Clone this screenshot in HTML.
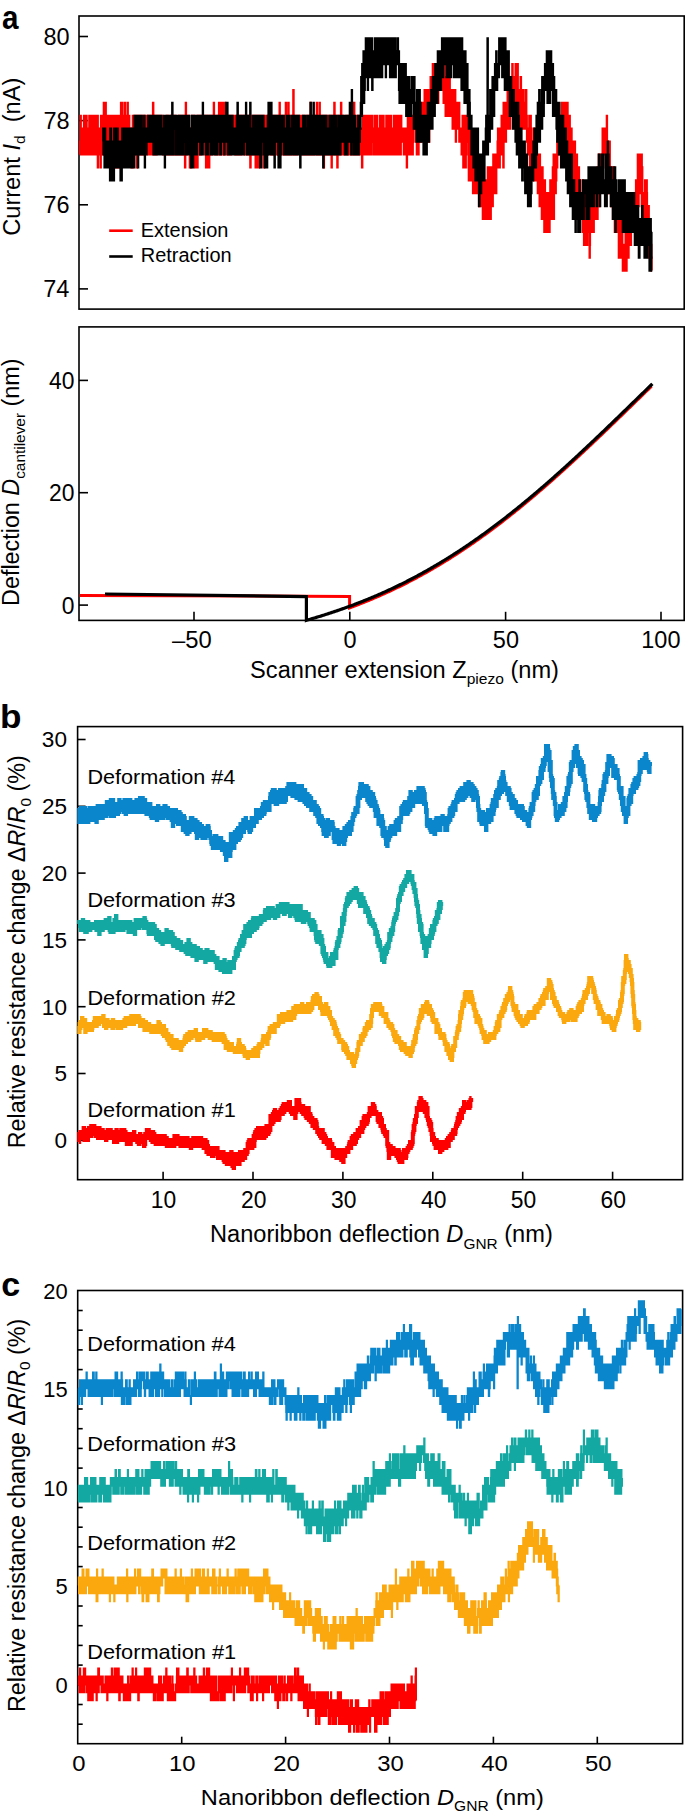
<!DOCTYPE html>
<html><head><meta charset="utf-8"><style>
html,body{margin:0;padding:0;background:#fff;}
svg{display:block;}
text{font-family:"Liberation Sans", sans-serif;fill:#000;}
</style></head><body>
<svg width="685" height="1817" viewBox="0 0 685 1817">
<rect width="685" height="1817" fill="#fff"/>
<text x="2.03" y="28.6" textLength="16.48" lengthAdjust="spacingAndGlyphs" xml:space="preserve"><tspan font-size="32.5" font-weight="bold">a</tspan></text>
<rect x="79" y="16" width="605.2" height="293.1" fill="none" stroke="#000" stroke-width="1.6"/>
<line x1="79" y1="36.5" x2="88" y2="36.5" stroke="#000" stroke-width="1.6"/>
<text x="43.38" y="45" textLength="26.14" lengthAdjust="spacingAndGlyphs" xml:space="preserve"><tspan font-size="23.5">80</tspan></text>
<line x1="79" y1="120.6" x2="88" y2="120.6" stroke="#000" stroke-width="1.6"/>
<text x="43.48" y="129.1" textLength="26.14" lengthAdjust="spacingAndGlyphs" xml:space="preserve"><tspan font-size="23.5">78</tspan></text>
<line x1="79" y1="204.8" x2="88" y2="204.8" stroke="#000" stroke-width="1.6"/>
<text x="43.49" y="213.3" textLength="26.14" lengthAdjust="spacingAndGlyphs" xml:space="preserve"><tspan font-size="23.5">76</tspan></text>
<line x1="79" y1="288.9" x2="88" y2="288.9" stroke="#000" stroke-width="1.6"/>
<text x="43.15" y="297.4" textLength="26.14" lengthAdjust="spacingAndGlyphs" xml:space="preserve"><tspan font-size="23.5">74</tspan></text>
<text transform="translate(19.7,235.7) rotate(-90)" x="0" y="0" textLength="157.96" lengthAdjust="spacingAndGlyphs" xml:space="preserve"><tspan font-size="23.5">Current </tspan><tspan font-size="23.5" font-style="italic">I</tspan><tspan font-size="15.5" dy="5.5">d</tspan><tspan font-size="23.5" dy="-5.5">  (nA)</tspan></text>
<path d="M79.8,154.5h0.2v-12.9h0.6v-25.8h0.2v12.9h0.2v25.8h0.6v-25.8h0.2v25.8h0.8v-25.8h0.2v12.9h0.2v-12.9h1v-12.9h0.3v38.7h0.3v-12.9h0.2v12.9h0.2v-38.7h0.6v25.8h0.2v12.9h0.2v-25.8h0.3v-12.9h0.3v25.8h0.2v12.9h0.8v-25.8h0.4v25.8h0.8v-25.8h0.5v-12.9h0.3v38.7h0.4v-25.8h0.3v25.8h0.3v-25.8h0.4v12.9h0.3v-25.8h0.3v12.9h0.7v12.9h0.3v-25.8h0.2v38.7h0.2v-38.7h0.3v12.9h0.3v25.8h0.2v-38.7h0.2v12.9h0.3v12.9h0.5v12.9h0.5v-38.7h0.3v38.7h0.2v-12.9h0.5v-25.8h0.3v12.9h0.2v25.8h0.8v-38.7h0.2v51.6h0.2v-25.8h0.6v12.9h0.2v-25.8h0.2v25.8h0.8v-25.8h0.2v12.9h0.3v-12.9h0.3v38.7h0.2v-12.9h0.2v-38.7h0.3v25.8h0.5v-12.9h0.2v25.8h0.3v-25.8h0.5v-12.9h0.2v38.7h0.3v-12.9h0.3v12.9h0.2v-51.6h0.2v51.6h0.3v-25.8h0.3v12.9h0.4v-12.9h0.6v-25.8h0.2v51.6h0.2v-12.9h0.6v12.9h0.2v-12.9h0.5v-12.9h0.5v-12.9h0.8v25.8h0.2v-25.8h0.2v12.9h0.3v-12.9h0.3v25.8h0.2v12.9h0.2v-25.8h0.3v12.9h0.5v-12.9h0.5v25.8h0.3v-12.9h0.2v-25.8h0.5v25.8h0.3v12.9h0.2v-12.9h0.2v12.9h0.8v-38.7h0.2v12.9h0.3v12.9h0.3v-25.8h0.2v25.8h0.2v-12.9h0.3v12.9h0.3v25.8h0.2v-25.8h0.2v12.9h0.3v-12.9h0.3v12.9h0.2v-38.7h0.5v25.8h0.3v12.9h0.2v-12.9h0.2v25.8h0.3v-51.6h0.3v51.6h0.2v-12.9h0.2v-12.9h0.3v-12.9h0.3v12.9h0.2v-25.8h0.2v25.8h0.8v-12.9h0.2v-25.8h0.3v12.9h0.3v38.7h0.2v-38.7h0.2v-12.9h0.3v12.9h0.3v12.9h0.4v12.9h0.6v12.9h0.4v-25.8h0.3v-12.9h0.3v38.7h0.2v-51.6h0.2v38.7h0.3v-12.9h0.3v25.8h0.2v-38.7h0.8v38.7h0.4v-12.9h0.3v-12.9h0.3v-25.8h0.2v51.6h0.5v-25.8h0.3v25.8h0.2v-12.9h0.2v-25.8h0.3v25.8h0.5v12.9h0.2v-25.8h0.3v12.9h0.3v12.9h0.4v-25.8h0.3v25.8h0.3v12.9h0.2v-12.9h0.2v-12.9h0.3v25.8h0.3v-38.7h0.2v-12.9h0.2v12.9h0.3v12.9h0.3v-12.9h0.4v12.9h0.3v-25.8h0.7v25.8h0.3v-12.9h0.5v25.8h0.2v-12.9h0.3v12.9h0.3v12.9h0.2v-12.9h0.2v-38.7h0.3v25.8h0.3v12.9h0.2v-25.8h0.2v25.8h0.3v-38.7h0.5v38.7h0.2v-25.8h0.3v12.9h0.3v12.9h0.2v-38.7h0.2v38.7h0.3v-25.8h0.3v-12.9h0.4v38.7h0.3v-25.8h0.3v25.8h0.2v-38.7h0.8v25.8h0.2v12.9h0.2v-25.8h0.3v12.9h0.5v-25.8h0.5v38.7h0.3v-25.8h0.2v25.8h0.2v-25.8h0.3v-12.9h0.7v12.9h0.8v12.9h0.2v-12.9h0.3v-12.9h0.3v12.9h0.2v25.8h0.2v-38.7h0.3v25.8h0.3v-12.9h0.2v12.9h0.2v-12.9h0.6v12.9h0.2v12.9h0.2v-25.8h0.3v-12.9h0.5v38.7h0.2v-25.8h0.3v-12.9h0.3v25.8h0.2v12.9h0.2v-12.9h0.3v-25.8h0.3v12.9h0.4v-25.8h0.3v51.6h0.3v-25.8h0.2v-12.9h0.2v38.7h0.8v-25.8h0.2v-12.9h0.3v25.8h0.5v12.9h0.8v-25.8h0.2v12.9h0.2v-25.8h0.3v25.8h0.3v-25.8h0.7v12.9h0.5v12.9h0.2v-25.8h0.6v25.8h1.7v-25.8h0.5v25.8h0.2v-25.8h0.3v25.8h0.3v-12.9h0.4v25.8h0.3v-12.9h0.3v-12.9h0.4v25.8h0.3v-12.9h0.3v-12.9h0.2v25.8h0.2v-12.9h0.3v12.9h0.3v-12.9h0.2v12.9h0.2v-12.9h0.6v12.9h0.2v-38.7h0.2v12.9h0.3v12.9h0.3v-25.8h0.2v38.7h0.2v-12.9h0.3v12.9h0.3v-25.8h0.4v25.8h0.3v-25.8h0.3v25.8h0.2v-25.8h0.8v-12.9h0.2v12.9h0.2v-12.9h0.3v38.7h0.5v-38.7h0.8v38.7h0.2v-38.7h0.2v25.8h0.3v-25.8h0.7v25.8h0.3v-25.8h0.3v38.7h0.2v-12.9h0.2v-25.8h0.6v25.8h0.4v-12.9h0.8v25.8h0.2v-12.9h0.3v12.9h0.3v-12.9h0.4v-12.9h0.3v12.9h0.3v-12.9h0.2v12.9h0.2v-25.8h0.3v12.9h0.3v25.8h0.2v-25.8h0.2v25.8h0.6v-12.9h0.2v-25.8h0.2v38.7h0.3v-12.9h0.3v-12.9h0.2v25.8h0.2v-25.8h0.3v-12.9h0.7v25.8h0.3v12.9h0.3v-38.7h0.4v25.8h0.3v-12.9h0.5v25.8h0.2v12.9h0.3v-12.9h0.5v-51.6h0.2v25.8h0.3v12.9h0.3v12.9h0.2v-38.7h0.2v25.8h0.3v-12.9h1v-12.9h0.5v25.8h0.2v-12.9h0.3v12.9h0.5v25.8h0.2v-38.7h0.3v25.8h0.3v-25.8h0.2v25.8h0.2v12.9h0.3v-38.7h0.5v12.9h0.2v-25.8h0.3v25.8h0.3v-25.8h0.4v25.8h0.3v12.9h0.5v-25.8h0.2v-12.9h0.3v38.7h0.3v-25.8h0.4v38.7h0.3v-12.9h0.5v-12.9h0.5v12.9h0.3v12.9h0.4v-12.9h0.3v12.9h0.3v-51.6h0.2v25.8h0.2v12.9h0.3v-25.8h0.3v12.9h0.2v-25.8h0.5v12.9h0.3v-12.9h0.2v12.9h0.2v-12.9h0.3v38.7h0.3v-25.8h0.4v25.8h0.3v-12.9h0.3v-25.8h0.4v25.8h0.3v-25.8h0.5v25.8h0.2v-12.9h0.6v12.9h0.4v-25.8h0.3v12.9h0.5v25.8h0.2v-38.7h0.3v12.9h0.3v-12.9h0.2v25.8h0.2v25.8h0.3v-51.6h0.3v38.7h0.4v-38.7h0.3v38.7h0.3v-25.8h0.2v38.7h0.2v-38.7h0.3v12.9h0.5v12.9h0.2v12.9h0.3v-25.8h0.3v-25.8h0.2v12.9h0.5v25.8h0.5v-25.8h0.5v12.9h0.3v-25.8h0.2v38.7h0.2v-12.9h0.3v-12.9h0.3v12.9h0.2v-12.9h0.2v-12.9h0.8v-12.9h0.2v25.8h0.3v12.9h0.3v-25.8h0.2v12.9h0.2v12.9h0.3v12.9h0.5v-12.9h1v-12.9h0.5v-12.9h0.5v12.9h0.2v25.8h0.3v-12.9h0.3v-25.8h0.2v38.7h0.2v-51.6h0.3v51.6h0.5v-12.9h0.2v-12.9h0.3v25.8h0.3v-51.6h0.2v12.9h0.2v25.8h0.3v-12.9h0.7v-12.9h0.3v38.7h0.3v-25.8h0.2v-25.8h0.2v38.7h1v12.9h0.3v-38.7h0.3v38.7h0.2v-38.7h0.2v-12.9h0.3v25.8h0.5v25.8h0.2v-12.9h0.3v-25.8h0.3v25.8h0.2v-12.9h0.2v25.8h0.3v-38.7h0.3v38.7h0.4v-38.7h0.3v12.9h0.3v-12.9h0.2v25.8h0.2v-25.8h0.3v38.7h0.3v-38.7h0.2v25.8h0.5v-12.9h0.3v-12.9h0.2v38.7h0.2v-38.7h0.3v12.9h0.5v12.9h0.2v-12.9h0.3v-12.9h0.3v25.8h0.7v-12.9h0.5v-12.9h0.2v25.8h0.6v-12.9h0.2v12.9h0.2v-25.8h0.3v38.7h0.3v-12.9h0.2v12.9h0.5v-38.7h0.3v38.7h0.2v-25.8h0.5v25.8h0.3v-12.9h0.2v-12.9h0.2v-12.9h0.3v12.9h0.3v-12.9h0.2v12.9h0.2v-12.9h0.3v38.7h0.3v-25.8h0.2v12.9h0.2v-25.8h0.6v25.8h0.2v-25.8h0.2v38.7h0.3v-25.8h1.5v12.9h0.2v-12.9h0.3v-12.9h0.3v12.9h0.2v-12.9h0.2v12.9h0.6v25.8h0.2v-38.7h0.2v12.9h0.3v25.8h0.3v-25.8h0.2v25.8h0.2v-12.9h0.3v-25.8h0.3v12.9h0.2v25.8h0.2v-12.9h0.6v12.9h0.2v-12.9h0.5v12.9h0.3v-25.8h0.2v-12.9h0.2v12.9h0.3v12.9h0.3v12.9h0.2v-12.9h0.2v-12.9h0.3v38.7h0.3v-38.7h0.2v-12.9h0.2v25.8h0.3v-12.9h0.3v-12.9h0.2v25.8h0.5v12.9h0.3v-38.7h0.2v38.7h0.5v-38.7h0.3v12.9h0.2v12.9h0.2v-12.9h0.3v-12.9h0.3v38.7h0.2v-38.7h0.2v12.9h0.6v38.7h0.2v-25.8h0.2v-12.9h0.3v25.8h0.3v-25.8h0.2v12.9h0.2v-25.8h0.3v51.6h0.3v-12.9h0.4v-25.8h0.3v-12.9h0.3v25.8h0.2v25.8h0.2v-38.7h0.3v-12.9h0.5v38.7h0.2v-38.7h0.8v38.7h0.2v-25.8h0.3v12.9h0.5v-12.9h0.2v25.8h0.3v-12.9h0.5v-12.9h0.2v-12.9h0.3v25.8h0.3v-12.9h0.4v38.7h0.3v-38.7h0.3v-12.9h0.2v25.8h0.5v-25.8h0.3v12.9h0.2v12.9h0.2v-12.9h0.3v25.8h0.5v-12.9h0.2v12.9h0.3v-38.7h0.5v38.7h0.2v-12.9h0.3v-25.8h0.3v25.8h0.7v-25.8h0.5v12.9h0.2v-12.9h0.6v25.8h0.2v-12.9h0.2v-12.9h0.3v38.7h0.3v-25.8h0.2v25.8h0.2v-12.9h0.6v-12.9h0.2v12.9h0.2v-25.8h0.3v12.9h0.3v25.8h0.2v-38.7h0.2v12.9h0.3v12.9h0.3v-12.9h0.4v25.8h0.3v-38.7h0.5v38.7h0.2v-25.8h0.6v25.8h0.2v-25.8h0.2v25.8h0.8v-38.7h0.5v38.7h0.5v-38.7h0.8v-12.9h0.2v25.8h0.2v12.9h0.6v-25.8h0.7v12.9h0.3v-12.9h0.2v38.7h0.2v-25.8h0.3v-12.9h0.3v25.8h0.2v12.9h0.5v-12.9h0.3v-25.8h0.2v12.9h0.2v-12.9h0.3v25.8h0.3v12.9h0.2v-25.8h0.2v25.8h0.3v-12.9h0.3v-12.9h0.2v-25.8h0.2v12.9h0.6v38.7h1.2v-38.7h0.2v38.7h0.3v-51.6h0.3v38.7h0.2v-25.8h0.2v38.7h0.6v-38.7h0.2v38.7h0.5v-38.7h0.3v12.9h0.2v-12.9h0.2v25.8h0.3v12.9h0.3v-25.8h0.2v-12.9h0.2v25.8h0.6v-25.8h0.7v-25.8h0.3v25.8h0.2v25.8h0.2v12.9h0.3v-25.8h0.3v12.9h0.2v12.9h0.2v-12.9h0.3v-12.9h0.3v-12.9h0.2v25.8h0.2v-25.8h0.6v25.8h0.2v-12.9h0.2v25.8h0.3v-25.8h0.3v12.9h0.7v-12.9h0.3v-12.9h0.4v25.8h0.3v-12.9h0.3v-12.9h0.2v12.9h0.2v-12.9h0.3v12.9h0.5v25.8h0.2v-38.7h0.3v38.7h0.5v-25.8h0.2v25.8h0.3v-12.9h0.3v-12.9h0.2v25.8h0.5v-38.7h0.3v38.7h0.2v-38.7h0.5v12.9h1.3v25.8h0.4v-25.8h0.6v12.9h0.2v-25.8h0.2v12.9h0.3v12.9h0.3v-25.8h0.2v38.7h0.2v-12.9h0.3v-12.9h0.3v-12.9h0.2v25.8h0.2v-25.8h0.3v38.7h0.3v-12.9h0.2v-25.8h0.2v25.8h0.6v-38.7h0.2v12.9h0.2v12.9h0.3v25.8h0.3v-25.8h0.4v25.8h0.3v-25.8h0.3v25.8h0.2v-38.7h0.2v12.9h0.3v-12.9h0.3v38.7h0.4v-38.7h0.6v12.9h0.2v-12.9h0.2v12.9h0.6v-12.9h1v38.7h0.2v-51.6h0.2v25.8h0.8v25.8h0.2v-38.7h0.3v38.7h0.3v-12.9h0.7v-12.9h0.3v-25.8h0.2v38.7h0.2v12.9h0.3v-38.7h0.5v12.9h0.2v12.9h0.3v-12.9h0.3v25.8h0.7v-12.9h0.3v12.9h0.4v-38.7h0.3v25.8h0.3v-25.8h0.2v51.6h0.2v-51.6h0.3v25.8h0.3v-12.9h0.2v12.9h0.5v12.9h0.5v-38.7h0.2v25.8h0.3v-25.8h0.5v25.8h0.2v12.9h0.3v-25.8h0.3v12.9h0.4v-12.9h0.3v12.9h0.3v-25.8h0.2v38.7h0.2v-38.7h0.3v38.7h1.5v-12.9h0.2v-25.8h0.3v25.8h0.3v25.8h0.2v-38.7h0.2v-12.9h0.6v12.9h0.2v25.8h0.5v-25.8h0.3v25.8h0.4v-38.7h0.3v-12.9h0.3v51.6h0.2v-12.9h0.2v12.9h0.3v-38.7h0.3v38.7h0.2v-25.8h0.2v25.8h0.3v-12.9h0.3v-25.8h0.2v38.7h0.5v12.9h0.3v-51.6h0.2v25.8h0.5v12.9h0.3v-38.7h0.2v12.9h0.2v25.8h0.3v-12.9h0.3v-25.8h0.4v25.8h1v-38.7h0.3v51.6h1v-25.8h0.3v-12.9h0.2v38.7h0.2v-38.7h0.3v12.9h0.3v12.9h0.4v-12.9h0.3v12.9h0.5v12.9h0.2v-25.8h0.6v25.8h0.7v-38.7h0.5v38.7h0.5v-25.8h0.3v12.9h0.2v-25.8h0.2v12.9h0.3v12.9h0.3v-12.9h0.2v25.8h0.5v-38.7h0.3v25.8h0.2v-12.9h0.2v-12.9h0.3v12.9h0.5v25.8h0.5v-38.7h0.5v38.7h0.2v-12.9h0.6v-12.9h0.2v25.8h0.2v-12.9h0.6v-12.9h0.2v25.8h0.2v-51.6h0.3v12.9h0.3v38.7h0.4v-25.8h0.6v-12.9h0.2v25.8h0.2v12.9h0.3v-38.7h0.3v38.7h0.2v-12.9h0.2v-12.9h0.3v12.9h0.3v-12.9h0.2v-12.9h0.2v38.7h0.3v-38.7h0.3v12.9h0.2v25.8h0.2v-25.8h0.3v-12.9h0.3v38.7h0.2v-25.8h0.5v25.8h0.7v-25.8h0.3v12.9h0.3v12.9h0.2v-25.8h0.2v38.7h0.3v-38.7h0.3v12.9h0.2v-25.8h0.8v38.7h0.2v-38.7h0.2v38.7h0.3v-38.7h0.3v12.9h0.2v-12.9h0.2v38.7h0.3v-38.7h0.3v38.7h0.2v-25.8h0.2v25.8h0.3v-12.9h0.3v-12.9h0.2v12.9h0.2v-12.9h0.3v12.9h0.3v-25.8h0.2v38.7h0.2v-12.9h0.3v-12.9h0.3v-12.9h0.2v38.7h0.2v-25.8h0.6v-12.9h0.2v25.8h0.2v-12.9h0.3v25.8h0.3v-25.8h0.4v25.8h0.3v-25.8h0.7v-12.9h0.3v25.8h0.3v-12.9h0.7v12.9h0.3v12.9h0.2v-12.9h0.2v-12.9h0.6v25.8h0.2v-38.7h0.2v38.7h0.6v-25.8h0.2v-12.9h0.2v38.7h0.3v-25.8h0.3v-12.9h0.4v25.8h0.3v12.9h0.5v-12.9h0.2v-12.9h0.3v25.8h0.3v-12.9h0.2v12.9h0.2v-12.9h0.8v-25.8h0.2v12.9h0.3v-12.9h0.3v38.7h0.4v-12.9h0.3v-25.8h0.5v12.9h0.5v-12.9h0.5v25.8h0.2v12.9h0.3v-38.7h0.3v12.9h0.4v12.9h0.6v-12.9h0.2v25.8h0.2v-25.8h0.6v25.8h0.7v-38.7h0.5v12.9h0.2v25.8h0.3v-12.9h0.3v-12.9h0.4v25.8h0.3v-38.7h0.3v25.8h0.2v-12.9h0.2v25.8h0.6v-25.8h0.4v25.8h0.3v-12.9h0.3v-12.9h0.2v-12.9h0.2v38.7h0.6v-12.9h0.2v-12.9h0.2v25.8h1.6v-25.8h0.2v-12.9h0.2v25.8h0.3v12.9h0.5v-38.7h0.5v25.8h0.3v12.9h0.2v-38.7h0.2v25.8h0.3v-12.9h0.3v25.8h0.2v-25.8h0.2v-12.9h0.3v38.7h0.3v-25.8h0.4v-12.9h0.3v12.9h0.3v-12.9h0.2v12.9h0.2v12.9h0.3v-25.8h0.3v25.8h0.2v12.9h0.2v-12.9h0.3v-25.8h0.3v38.7h0.2v-38.7h0.5v25.8h0.5v-12.9h0.5v12.9h0.3v-12.9h1.2v25.8h0.2v-12.9h0.3v-12.9h0.3v12.9h0.2v12.9h0.2v-12.9h0.3v-12.9h0.3v25.8h0.2v-25.8h0.2v25.8h0.3v-25.8h0.3v12.9h0.2v25.8h0.2v-25.8h0.3v12.9h0.5v-38.7h0.2v25.8h0.3v12.9h0.3v-38.7h0.2v38.7h0.5v-38.7h0.5v12.9h1v25.8h0.2v-12.9h0.6v-25.8h0.4v38.7h0.3v-25.8h0.3v25.8h0.2v-25.8h0.2v12.9h0.6v-25.8h0.4v12.9h0.3v-12.9h0.3v12.9h0.2v-12.9h0.2v12.9h1.3v12.9h0.3v-38.7h0.2v51.6h0.2v-25.8h0.3v25.8h0.3v-51.6h0.7v51.6h0.3v-25.8h0.2v12.9h0.5v-38.7h0.3v12.9h0.7v25.8h0.3v-38.7h0.2v38.7h0.2v-25.8h0.6v12.9h0.2v-25.8h0.2v25.8h0.3v-12.9h0.5v-12.9h0.5v25.8h0.3v-12.9h0.4v12.9h0.6v-38.7h0.2v51.6h0.2v-51.6h0.3v25.8h0.3v-12.9h0.4v12.9h0.6v-12.9h0.2v12.9h0.5v-25.8h0.5v12.9h0.2v-12.9h0.6v12.9h0.2v12.9h0.2v25.8h0.3v-12.9h0.3v-12.9h0.2v-25.8h0.2v25.8h0.6v-38.7h0.2v38.7h0.2v-25.8h0.3v12.9h0.5v12.9h0.2v-12.9h0.3v12.9h0.3v-38.7h0.2v-12.9h0.2v12.9h0.3v25.8h0.3v-12.9h0.2v-25.8h0.2v12.9h0.3v12.9h0.5v12.9h0.2v-12.9h0.3v12.9h0.5v-12.9h0.2v-12.9h1.3v-12.9h0.3v12.9h0.2v-12.9h0.2v38.7h0.3v-12.9h0.3v-25.8h0.2v12.9h0.2v-12.9h0.6v12.9h0.2v-12.9h0.5v25.8h0.3v-12.9h0.2v12.9h0.2v-12.9h1.3v-12.9h0.3v25.8h0.2v-25.8h0.8v38.7h0.4v-25.8h0.3v-12.9h0.3v25.8h0.2v12.9h0.2v-25.8h0.3v25.8h0.3v12.9h0.2v-25.8h0.2v-12.9h0.3v25.8h0.3v-25.8h0.2v25.8h0.2v-12.9h0.3v25.8h0.3v-38.7h0.4v25.8h0.3v12.9h0.3v-38.7h0.2v25.8h0.2v-25.8h0.3v25.8h0.3v-25.8h0.2v38.7h0.2v-25.8h0.3v25.8h0.3v-25.8h1.4v25.8h0.3v-12.9h0.3v25.8h0.2v-12.9h0.8v12.9h0.2v-12.9h0.2v-25.8h0.3v25.8h0.3v-25.8h0.2v25.8h0.2v-25.8h0.3v25.8h0.3v-12.9h0.2v38.7h0.2v-38.7h0.3v25.8h0.5v-25.8h0.2v25.8h0.3v-12.9h0.3v12.9h0.2v-12.9h0.2v-12.9h0.3v25.8h0.3v-12.9h0.4v-12.9h0.3v38.7h0.3v-12.9h0.7v12.9h0.7v-12.9h0.6v25.8h0.2v-12.9h0.2v-12.9h0.3v25.8h0.3v-38.7h0.4v38.7h0.3v12.9h0.3v-51.6h0.7v25.8h0.3v-12.9h0.2v12.9h0.2v12.9h0.3v-38.7h0.3v51.6h0.2v-38.7h0.2v25.8h0.3v-12.9h0.7v-25.8h0.3v25.8h0.7v-12.9h0.3v12.9h0.3v25.8h0.2v12.9h0.2v-38.7h0.3v25.8h0.5v-25.8h0.2v-12.9h0.3v51.6h0.3v-38.7h0.4v25.8h0.6v12.9h0.2v-12.9h0.2v-12.9h0.8v12.9h0.2v25.8h0.3v-51.6h0.3v12.9h0.4v-12.9h0.3v25.8h0.3v25.8h0.2v-38.7h0.2v25.8h0.3v12.9h0.3v-38.7h0.2v38.7h0.2v-12.9h0.6v-25.8h0.2v12.9h0.2v-12.9h0.3v38.7h0.5v-38.7h0.2v25.8h0.3v-12.9h0.3v25.8h0.2v-12.9h0.2v25.8h0.3v-12.9h0.3v-25.8h0.2v12.9h0.2v12.9h0.3v12.9h0.3v-25.8h0.2v-12.9h0.2v12.9h0.6v-12.9h0.2v12.9h0.5v12.9h0.3v12.9h0.2v12.9h0.2v-38.7h0.3v12.9h0.3v12.9h0.2v-25.8h0.2v12.9h0.3v-12.9h0.3v12.9h0.4v25.8h0.3v-38.7h0.3v25.8h0.4v-12.9h0.3v25.8h0.3v-38.7h0.2v12.9h0.2v25.8h0.3v-12.9h0.5v-38.7h0.2v12.9h0.3v25.8h0.3v-12.9h0.2v25.8h0.2v-38.7h0.6v38.7h0.2v-38.7h0.2v-12.9h0.3v12.9h0.3v38.7h0.2v-38.7h0.2v12.9h0.3v12.9h0.3v-25.8h0.2v12.9h0.2v12.9h0.3v-38.7h0.3v38.7h0.2v-25.8h0.2v-12.9h0.3v-12.9h0.7v25.8h0.6v-25.8h0.2v38.7h0.2v-12.9h0.3v-12.9h0.3v-12.9h0.2v12.9h0.2v25.8h0.3v-25.8h1.3v-25.8h0.4v-12.9h0.3v38.7h0.3v-38.7h0.2v12.9h0.2v12.9h0.6v12.9h0.2v-25.8h0.2v-12.9h0.6v12.9h0.7v12.9h0.3v-38.7h0.2v38.7h0.2v-38.7h0.3v25.8h0.3v12.9h0.4v-12.9h0.3v25.8h0.3v-64.5h0.2v12.9h0.2v12.9h0.6v12.9h0.2v-12.9h0.2v-25.8h0.3v25.8h0.3v-12.9h0.2v25.8h0.2v-38.7h0.3v12.9h0.3v-12.9h0.2v12.9h0.2v12.9h0.3v-25.8h0.3v-12.9h0.2v38.7h0.5v-51.6h0.3v38.7h0.2v-38.7h0.2v12.9h0.3v12.9h0.5v25.8h0.2v-51.6h0.3v38.7h0.5v-12.9h0.5v-12.9h0.5v-12.9h0.2v38.7h0.3v-51.6h0.3v12.9h0.2v25.8h0.2v-12.9h0.8v-12.9h0.2v25.8h0.3v-25.8h0.5v12.9h0.2v-12.9h0.3v38.7h0.3v-51.6h0.2v12.9h0.2v12.9h0.3v-12.9h0.3v25.8h0.2v-38.7h0.2v38.7h0.6v-38.7h0.2v25.8h1v12.9h0.5v12.9h0.3v-12.9h0.2v25.8h0.2v-25.8h0.3v-12.9h0.3v-12.9h0.4v12.9h0.3v12.9h0.3v12.9h0.4v12.9h0.3v-25.8h0.5v-12.9h0.2v38.7h0.3v-38.7h0.3v12.9h0.2v12.9h0.2v-12.9h0.3v25.8h0.3v-12.9h0.4v-12.9h0.3v12.9h0.3v12.9h0.2v-12.9h0.2v-25.8h0.3v38.7h0.3v-12.9h0.2v12.9h0.2v12.9h0.8v12.9h0.2v-25.8h0.3v12.9h0.3v-12.9h0.7v-12.9h0.3v12.9h0.4v38.7h0.3v-38.7h0.3v-12.9h0.2v25.8h0.2v-12.9h0.3v12.9h0.5v12.9h0.2v-12.9h0.3v12.9h0.3v12.9h0.2v-25.8h0.2v12.9h0.6v-12.9h0.2v-12.9h0.2v51.6h0.3v-25.8h0.3v12.9h0.2v-12.9h0.2v25.8h0.3v-25.8h0.3v12.9h0.4v12.9h0.3v-38.7h0.3v38.7h0.2v-12.9h0.2v12.9h0.3v-25.8h0.3v25.8h0.2v12.9h0.5v-12.9h0.5v-12.9h0.2v12.9h0.6v25.8h0.2v-51.6h0.2v51.6h0.3v-38.7h0.5v12.9h0.5v25.8h0.5v12.9h0.2v-25.8h0.3v-25.8h0.3v38.7h0.2v12.9h0.2v-38.7h0.3v38.7h0.3v-38.7h0.2v38.7h0.2v-12.9h0.3v25.8h0.5v-51.6h0.2v25.8h0.3v-12.9h0.7v12.9h0.6v-12.9h0.2v25.8h0.2v12.9h0.3v-38.7h0.3v38.7h0.2v-12.9h0.2v-12.9h0.3v25.8h0.3v-25.8h0.2v-12.9h0.2v12.9h0.3v25.8h0.3v-38.7h0.7v-12.9h0.3v38.7h0.2v-25.8h0.2v12.9h0.3v12.9h0.3v-25.8h0.2v-12.9h0.2v12.9h0.3v-12.9h0.5v-12.9h0.2v12.9h0.3v25.8h0.3v-51.6h0.2v64.5h0.2v-64.5h0.6v12.9h0.4v-12.9h0.3v25.8h0.3v12.9h0.2v-38.7h0.2v25.8h0.3v-25.8h0.3v12.9h0.2v-12.9h0.2v12.9h0.3v-25.8h0.3v12.9h0.2v-25.8h0.2v25.8h0.3v-25.8h0.3v12.9h0.2v12.9h0.2v-38.7h0.3v38.7h0.5v-38.7h0.2v12.9h0.3v-12.9h0.3v12.9h0.4v-12.9h0.3v12.9h0.3v12.9h0.2v-12.9h0.2v-25.8h0.3v12.9h0.3v12.9h0.2v12.9h0.2v-25.8h0.3v-12.9h0.5v38.7h0.2v-38.7h0.6v25.8h0.2v-12.9h0.2v38.7h0.3v-51.6h0.5v12.9h0.2v25.8h0.3v-25.8h0.3v25.8h0.2v-25.8h0.2v38.7h0.3v-51.6h0.3v12.9h0.4v25.8h0.3v-12.9h0.3v25.8h0.2v-25.8h0.2v25.8h0.3v25.8h0.3v-64.5h0.2v12.9h0.2v51.6h0.6v-12.9h0.2v-38.7h0.2v25.8h0.3v-25.8h0.3v25.8h1v12.9h0.2v-25.8h0.5v38.7h0.3v-38.7h0.2v51.6h0.8v-12.9h0.2v-38.7h0.2v12.9h0.3v12.9h0.3v-12.9h0.4v38.7h0.3v12.9h0.3v-12.9h0.2v-38.7h0.2v51.6h0.6v-25.8h0.2v-12.9h0.5v12.9h0.3v25.8h0.2v-38.7h0.2v25.8h0.6v25.8h0.2v-38.7h0.2v25.8h0.3v-12.9h0.3v12.9h0.2v12.9h0.8v-25.8h0.7v12.9h0.3v-25.8h0.2v51.6h0.2v-38.7h0.3v12.9h0.3v25.8h0.4v12.9h0.3v-25.8h0.3v-25.8h0.2v38.7h0.2v-12.9h0.3v25.8h0.3v-38.7h0.4v38.7h1.3v-25.8h0.5v12.9h0.5v-12.9h0.3v-12.9h0.2v25.8h0.5v-12.9h0.3v38.7h0.2v-12.9h0.2v-38.7h0.3v25.8h0.3v-12.9h0.4v-12.9h0.3v-12.9h0.5v12.9h0.2v25.8h0.3v-38.7h0.3v38.7h0.4v-25.8h0.3v12.9h0.3v12.9h0.2v-38.7h0.2v12.9h0.6v-12.9h0.4v-12.9h0.3v25.8h0.3v-25.8h0.2v12.9h0.2v25.8h0.3v-38.7h0.5v25.8h0.2v-12.9h0.3v25.8h0.3v-51.6h0.2v25.8h0.5v-12.9h0.3v-12.9h0.2v-12.9h0.2v51.6h0.3v-25.8h0.3v12.9h0.2v-38.7h1v12.9h0.2v-12.9h0.8v25.8h0.2v-25.8h0.3v12.9h0.3v-38.7h0.2v12.9h0.2v25.8h0.3v-38.7h0.5v25.8h0.2v-12.9h0.3v-12.9h0.3v25.8h0.4v-25.8h0.3v25.8h0.3v-12.9h0.2v12.9h0.2v-25.8h0.3v12.9h0.5v-25.8h0.2v64.5h0.6v-25.8h0.2v38.7h0.2v-38.7h0.3v25.8h0.3v-12.9h0.2v-25.8h0.5v38.7h0.3v-38.7h0.2v51.6h0.2v-12.9h0.6v12.9h0.2v-12.9h0.2v25.8h0.6v-25.8h0.2v-12.9h0.5v12.9h0.5v-12.9h0.2v51.6h0.3v-38.7h0.3v12.9h0.2v-25.8h0.2v38.7h0.6v-25.8h0.2v51.6h0.2v-51.6h0.3v12.9h0.3v25.8h0.2v-25.8h0.2v38.7h0.3v-38.7h0.3v12.9h0.2v12.9h0.2v12.9h0.6v-25.8h0.2v12.9h0.5v12.9h0.3v-25.8h0.2v51.6h0.2v-25.8h0.3v-25.8h0.3v12.9h0.4v38.7h0.3v-25.8h0.3v12.9h0.2v12.9h0.2v-25.8h0.3v25.8h0.3v-25.8h0.2v-12.9h0.5v38.7h0.3v-12.9h0.2v25.8h0.5v-12.9h0.3v-12.9h0.2v12.9h0.2v12.9h0.3v-12.9h0.5v12.9h0.5v-25.8h0.3v-12.9h0.2v38.7h0.2v-25.8h0.3v25.8h0.3v-12.9h0.2v-25.8h0.2v25.8h0.3v-12.9h0.5v12.9h0.2v-12.9h0.3v12.9h0.3v-25.8h0.4v12.9h0.3v-25.8h0.3v25.8h0.2v-12.9h0.5v12.9h0.3v-12.9h0.2v12.9h0.2v-12.9h0.6v-38.7h0.4v25.8h0.3v-12.9h0.3v25.8h0.2v-25.8h0.2v12.9h0.3v-25.8h0.3v12.9h0.2v12.9h0.5v-25.8h0.5v25.8h0.2v-25.8h0.6v25.8h0.2v-12.9h0.2v-25.8h0.3v12.9h0.3v12.9h0.2v-25.8h0.2v25.8h0.8v-51.6h0.2v51.6h0.6v-38.7h0.2v12.9h0.2v-25.8h0.3v25.8h0.7v12.9h0.3v-25.8h0.3v-12.9h0.2v38.7h0.2v-38.7h0.3v12.9h0.3v-12.9h0.2v51.6h0.2v-38.7h0.3v25.8h0.3v12.9h0.7v12.9h0.3v-25.8h0.4v12.9h0.3v12.9h0.7v-38.7h0.3v12.9h0.3v25.8h0.4v-25.8h0.6v-12.9h0.2v12.9h0.2v12.9h1v12.9h0.3v-12.9h0.5v25.8h0.2v25.8h0.6v-38.7h0.4v12.9h0.3v25.8h0.3v-12.9h0.7v12.9h0.3v12.9h0.2" fill="none" stroke="#ff0000" stroke-width="2.2" stroke-linejoin="miter" stroke-miterlimit="2"/>
<path d="M103,141.6h0.2v-12.9h0.3v25.8h0.5v-12.9h0.2v-12.9h0.3v38.7h0.3v-12.9h0.2v-25.8h0.2v25.8h1v12.9h0.3v-25.8h0.3v25.8h0.2v-25.8h0.5v25.8h0.3v-25.8h0.2v12.9h0.2v-12.9h0.6v12.9h0.4v-12.9h0.3v12.9h0.3v-12.9h0.2v38.7h0.2v-51.6h0.8v25.8h0.2v-12.9h0.3v12.9h0.3v-12.9h0.4v38.7h0.3v-12.9h0.3v-25.8h0.2v25.8h0.2v-12.9h0.6v25.8h0.2v-51.6h0.2v12.9h0.3v25.8h0.3v-12.9h0.2v12.9h0.8v-12.9h0.2v-25.8h0.2v38.7h0.3v-38.7h0.5v12.9h0.2v-12.9h0.6v25.8h0.2v12.9h0.2v-25.8h0.6v12.9h0.2v-12.9h0.5v25.8h0.3v-25.8h0.2v12.9h0.2v-12.9h0.3v38.7h0.3v-38.7h0.2v25.8h0.2v-25.8h0.3v38.7h0.3v-38.7h0.4v-12.9h0.3v25.8h0.3v-12.9h0.2v25.8h0.2v-12.9h0.3v12.9h0.5v-38.7h0.2v12.9h0.3v25.8h0.5v-12.9h0.2v-12.9h0.6v-12.9h0.4v12.9h0.3v-12.9h0.5v38.7h0.5v-12.9h0.5v12.9h0.2v-38.7h0.3v25.8h0.3v-12.9h0.2v25.8h0.2v-25.8h0.3v-12.9h0.3v38.7h0.4v-12.9h0.3v12.9h0.3v-38.7h0.2v25.8h0.5v12.9h0.3v-25.8h0.2v-12.9h0.2v12.9h0.3v12.9h0.5v-12.9h0.2v12.9h0.3v-12.9h0.3v-12.9h0.2v38.7h0.2v-25.8h0.3v-25.8h0.3v38.7h0.2v-38.7h0.2v12.9h0.3v12.9h0.3v12.9h0.2v-38.7h0.2v12.9h0.3v-12.9h0.3v12.9h0.4v12.9h0.6v12.9h0.2v12.9h0.2v-38.7h0.6v-12.9h0.2v12.9h0.2v-12.9h0.3v38.7h0.3v-12.9h0.2v12.9h0.2v-25.8h0.3v12.9h0.5v12.9h0.5v-38.7h0.3v25.8h0.2v-12.9h0.5v25.8h0.3v-12.9h0.2v12.9h0.5v-25.8h0.7v-12.9h0.3v25.8h0.3v25.8h0.2v-38.7h0.5v25.8h0.3v-12.9h0.2v-12.9h0.2v25.8h0.3v-25.8h1.5v-12.9h0.2v25.8h0.8v-25.8h0.5v25.8h0.3v-12.9h0.2v12.9h0.2v-12.9h1v12.9h0.3v-25.8h0.3v12.9h0.4v12.9h0.3v-12.9h0.3v-12.9h0.2v25.8h0.2v-12.9h0.3v25.8h0.3v-12.9h0.2v-25.8h0.2v25.8h0.3v-25.8h0.3v12.9h0.2v-12.9h0.2v25.8h0.3v-25.8h0.3v38.7h0.2v-38.7h0.2v38.7h0.6v-12.9h0.2v-12.9h0.2v-12.9h0.3v25.8h0.3v-25.8h0.2v12.9h0.2v-12.9h0.3v12.9h0.3v-12.9h0.2v38.7h0.2v-25.8h0.3v-12.9h0.3v12.9h0.2v-12.9h0.8v25.8h0.2v-25.8h0.2v38.7h0.8v-25.8h0.2v25.8h0.8v-25.8h0.2v12.9h0.6v-25.8h0.2v25.8h0.5v12.9h0.3v12.9h0.2v-51.6h0.2v38.7h0.3v-25.8h0.3v25.8h0.2v-38.7h0.2v12.9h0.6v25.8h0.2v-12.9h0.2v12.9h0.3v-38.7h0.3v12.9h0.2v12.9h0.2v-25.8h0.3v38.7h0.3v-25.8h0.2v12.9h0.2v-25.8h0.3v38.7h0.3v-38.7h0.2v12.9h0.8v12.9h0.4v12.9h0.8v-12.9h0.2v-38.7h0.3v12.9h0.7v38.7h0.3v-38.7h0.3v12.9h0.4v-12.9h0.3v12.9h0.7v-12.9h0.6v38.7h0.2v-12.9h0.2v12.9h0.3v-25.8h0.3v25.8h0.4v-25.8h0.6v25.8h0.2v-38.7h0.2v25.8h0.3v12.9h0.7v-25.8h0.3v-12.9h0.3v12.9h0.4v12.9h0.6v12.9h0.2v-25.8h0.5v-12.9h0.3v38.7h0.2v-25.8h0.2v-12.9h0.3v25.8h0.3v-12.9h0.2v25.8h0.2v-38.7h0.3v25.8h0.3v-12.9h0.2v-12.9h1v25.8h0.5v12.9h0.3v-38.7h0.2v38.7h0.2v-25.8h0.3v25.8h0.3v-25.8h0.2v12.9h0.5v-25.8h0.3v38.7h0.2v-38.7h0.2v12.9h0.3v-12.9h0.3v25.8h0.2v-25.8h0.2v25.8h0.3v12.9h0.3v-12.9h0.2v12.9h0.2v-25.8h0.3v12.9h0.3v-12.9h0.2v38.7h0.2v-38.7h0.3v25.8h0.3v-38.7h0.2v51.6h0.2v-51.6h0.3v25.8h0.3v-25.8h0.2v51.6h0.2v-51.6h0.6v38.7h0.2v-12.9h0.2v12.9h0.6v-38.7h0.4v25.8h0.3v12.9h0.3v-38.7h0.2v38.7h0.2v-38.7h0.3v38.7h0.3v-12.9h0.2v-12.9h1.2v-12.9h0.6v25.8h0.2v-25.8h0.5v12.9h0.3v-12.9h0.2v38.7h0.2v-25.8h0.3v12.9h0.3v-25.8h0.2v25.8h0.2v12.9h0.8v-25.8h0.5v25.8h0.3v-51.6h0.2v38.7h0.2v-12.9h0.8v-12.9h0.2v25.8h0.3v-25.8h0.3v12.9h0.2v-12.9h0.2v25.8h0.3v-25.8h0.3v38.7h0.7v-12.9h0.3v-25.8h0.4v12.9h0.3v-12.9h0.5v38.7h0.2v-12.9h0.3v-25.8h0.3v25.8h0.4v-12.9h0.3v-12.9h0.3v12.9h0.2v12.9h0.8v12.9h0.2v-38.7h0.2v25.8h0.6v12.9h0.2v-38.7h0.2v25.8h0.3v-12.9h0.3v25.8h0.2v-38.7h0.5v38.7h0.3v-12.9h0.2v-12.9h0.2v-12.9h0.3v12.9h0.3v-12.9h0.4v38.7h0.3v-38.7h0.3v25.8h0.7v-12.9h0.3v-12.9h0.2v25.8h0.2v12.9h0.3v-25.8h0.3v-12.9h0.2v25.8h0.2v-25.8h0.3v12.9h0.3v12.9h0.2v-25.8h0.2v12.9h0.3v12.9h0.3v-25.8h0.4v38.7h0.8v-12.9h0.5v-25.8h0.7v25.8h0.3v-12.9h0.3v-12.9h0.4v25.8h0.3v-25.8h0.7v38.7h0.3v-12.9h0.5v-25.8h0.2v12.9h0.3v-12.9h0.3v12.9h0.4v-25.8h0.3v38.7h0.3v-12.9h0.2v-12.9h0.2v-12.9h0.3v25.8h0.3v25.8h0.2v-38.7h0.2v12.9h0.6v-12.9h0.2v38.7h0.2v-12.9h0.3v-12.9h0.5v25.8h0.5v-25.8h0.3v12.9h0.2v-12.9h0.2v-12.9h0.3v38.7h0.3v-38.7h0.7v38.7h0.5v-12.9h0.8v-12.9h0.2v25.8h0.2v-12.9h0.3v12.9h0.3v-12.9h0.7v12.9h0.5v-12.9h0.2v-12.9h0.6v-12.9h0.2v38.7h0.2v-25.8h0.3v-25.8h0.3v38.7h0.2v12.9h1v-38.7h0.2v25.8h0.8v-12.9h0.2v-12.9h0.3v38.7h0.7v-25.8h0.3v-12.9h0.3v38.7h0.2v-12.9h0.5v-25.8h0.5v38.7h0.5v-25.8h0.3v25.8h0.2v-38.7h0.2v12.9h0.6v12.9h0.2v-25.8h0.2v12.9h0.3v-12.9h0.3v25.8h0.2v-38.7h0.2v38.7h0.3v-25.8h0.3v38.7h0.2v-38.7h0.8v25.8h0.2v-12.9h0.5v-12.9h0.3v12.9h0.2v12.9h0.2v12.9h0.6v-12.9h0.2v-12.9h0.2v-25.8h0.3v38.7h0.5v-12.9h0.2v12.9h0.3v-12.9h0.3v25.8h0.2v-25.8h0.5v25.8h0.3v-12.9h0.2v12.9h0.2v-38.7h0.3v38.7h0.3v-38.7h0.2v25.8h0.5v-25.8h0.3v12.9h0.4v12.9h0.3v-12.9h0.3v-12.9h0.2v38.7h0.2v-25.8h0.3v12.9h0.3v12.9h0.4v-38.7h0.3v38.7h0.3v-12.9h0.4v-25.8h0.6v25.8h0.2v12.9h0.2v-25.8h0.3v25.8h0.3v-12.9h0.2v-25.8h0.2v51.6h0.3v-51.6h0.5v25.8h0.2v25.8h0.3v-51.6h0.3v12.9h0.2v-12.9h0.5v12.9h0.3v12.9h0.4v-25.8h0.3v12.9h0.3v12.9h0.2v12.9h0.2v-25.8h0.3v12.9h0.3v-12.9h0.2v38.7h0.2v-25.8h0.3v25.8h0.3v-25.8h0.2v-12.9h0.2v12.9h0.3v12.9h0.3v-25.8h0.2v38.7h0.2v-38.7h0.3v25.8h0.3v-38.7h0.2v38.7h0.2v-25.8h0.3v-25.8h0.3v38.7h0.2v-38.7h0.2v12.9h0.3v38.7h0.3v-12.9h0.2v-25.8h0.5v-12.9h0.3v12.9h0.2v12.9h0.2v-25.8h0.3v12.9h0.5v38.7h0.2v-12.9h0.6v-25.8h0.4v38.7h0.3v-12.9h0.3v-25.8h0.2v12.9h0.2v12.9h0.3v25.8h0.3v-25.8h0.2v-12.9h0.2v-12.9h0.3v12.9h0.3v-12.9h0.4v12.9h0.6v-12.9h0.2v12.9h0.2v12.9h0.6v-12.9h0.2v25.8h0.5v12.9h0.3v-51.6h0.2v25.8h0.8v12.9h0.2v-38.7h0.2v51.6h0.3v-12.9h0.3v-12.9h0.7v-25.8h0.3v25.8h1v-25.8h1v38.7h0.2v-38.7h0.2v12.9h0.3v12.9h0.3v-12.9h0.2v25.8h0.5v-25.8h0.3v12.9h0.2v12.9h0.5v-12.9h0.3v-12.9h0.2v-12.9h0.2v25.8h0.8v-12.9h0.2v25.8h0.3v-12.9h0.3v-12.9h0.2v-12.9h0.5v25.8h0.3v-12.9h0.2v25.8h0.2v-25.8h0.6v25.8h0.2v-25.8h0.2v25.8h0.3v-12.9h0.3v12.9h0.2v-38.7h0.8v38.7h0.2v-25.8h0.2v12.9h0.6v12.9h0.4v-25.8h0.3v-12.9h0.3v12.9h0.7v12.9h0.3v12.9h0.4v-38.7h0.6v25.8h0.4v12.9h0.6v-25.8h0.2v-12.9h0.2v12.9h0.6v-12.9h0.2v25.8h0.8v12.9h0.2v-12.9h0.2v25.8h0.3v-12.9h0.3v-12.9h0.4v-12.9h0.6v12.9h0.4v-12.9h0.3v12.9h0.3v12.9h0.2v-38.7h0.2v25.8h0.6v12.9h0.4v-25.8h0.3v12.9h0.3v12.9h0.2v-38.7h0.2v38.7h0.3v-12.9h0.3v12.9h0.2v-25.8h0.2v12.9h0.8v12.9h0.2v-25.8h0.3v-12.9h0.3v25.8h0.2v-25.8h0.2v25.8h0.3v12.9h0.5v-12.9h0.2v-25.8h0.3v38.7h0.3v-38.7h0.2v12.9h0.2v-12.9h0.3v-12.9h0.3v12.9h0.2v12.9h0.5v-12.9h0.3v38.7h0.2v-38.7h0.2v12.9h0.3v12.9h0.3v12.9h0.2v-25.8h0.2v12.9h0.3v-38.7h0.3v12.9h0.2v25.8h0.8v12.9h0.2v-12.9h0.2v12.9h0.6v-38.7h0.4v38.7h0.3v-25.8h0.5v-12.9h0.2v38.7h0.3v-38.7h0.5v12.9h0.2v-12.9h0.3v12.9h0.3v25.8h0.2v-38.7h0.5v25.8h0.5v12.9h0.2v-25.8h0.3v-12.9h0.3v12.9h0.2v25.8h0.2v-25.8h0.6v25.8h0.2v-12.9h0.2v-25.8h0.3v12.9h0.3v25.8h0.2v-38.7h0.2v51.6h0.3v-38.7h0.3v12.9h0.2v-25.8h0.2v38.7h0.6v-38.7h0.2v38.7h0.2v-38.7h0.6v38.7h0.2v-12.9h0.2v-25.8h0.3v25.8h0.5v12.9h0.8v-12.9h0.2v12.9h0.5v-25.8h0.3v25.8h0.2v-25.8h0.5v-12.9h0.5v25.8h0.2v12.9h0.6v-38.7h0.2v25.8h0.2v-12.9h0.3v-12.9h0.3v12.9h0.2v12.9h0.2v12.9h0.3v-38.7h0.3v12.9h0.2v12.9h0.2v-12.9h0.6v25.8h0.2v-38.7h0.2v38.7h0.3v-25.8h0.3v25.8h0.7v-12.9h0.5v-25.8h0.2v12.9h0.3v12.9h0.3v-12.9h0.2v25.8h0.2v-12.9h0.3v12.9h0.5v-25.8h0.2v12.9h0.3v-25.8h0.3v38.7h0.4v-12.9h0.8v-12.9h0.2v25.8h0.3v-38.7h0.3v25.8h0.2v-25.8h0.2v25.8h0.8v-25.8h0.2v12.9h0.3v12.9h0.3v-12.9h0.2v12.9h0.2v-25.8h0.3v12.9h0.3v-12.9h0.2v25.8h0.2v-12.9h0.3v12.9h0.3v12.9h0.2v-38.7h0.2v25.8h0.3v12.9h0.5v-38.7h0.5v12.9h0.3v12.9h0.2v-25.8h0.2v38.7h0.3v-12.9h0.3v-25.8h0.2v25.8h0.2v-12.9h0.3v-12.9h0.3v25.8h0.4v-12.9h0.6v-25.8h0.2v12.9h0.5v12.9h0.5v-12.9h0.2v38.7h0.3v-38.7h0.3v-25.8h0.2v12.9h0.2v25.8h0.3v12.9h0.3v-25.8h0.7v12.9h0.3v25.8h1v-38.7h0.2v25.8h0.2v-12.9h0.6v25.8h0.2v-12.9h0.5v-12.9h0.3v25.8h0.2v-12.9h0.5v12.9h0.5v-38.7h0.5v38.7h0.3v-12.9h0.4v-25.8h0.3v25.8h0.3v-25.8h0.2v12.9h0.5v-12.9h0.3v-12.9h0.4v-25.8h0.6v38.7h0.2v-12.9h0.2v-38.7h0.3v25.8h0.3v-12.9h0.2v25.8h0.2v-25.8h0.3v-25.8h0.3v38.7h0.2v12.9h0.2v-12.9h0.6v-38.7h0.4v25.8h0.3v-25.8h0.3v-12.9h0.2v12.9h0.2v-12.9h0.3v38.7h0.3v-12.9h0.4v12.9h0.6v12.9h0.2v-38.7h0.2v-12.9h0.3v38.7h0.5v-12.9h0.2v12.9h0.3v-12.9h0.3v-25.8h0.2v12.9h0.2v-12.9h0.6v12.9h0.2v25.8h0.2v-38.7h0.8v25.8h0.2v25.8h0.3v-38.7h0.3v25.8h0.2v-25.8h0.2v12.9h0.3v12.9h0.3v-25.8h0.2v25.8h0.5v-25.8h0.3v-12.9h0.2v38.7h0.2v-12.9h0.3v-12.9h0.3v-12.9h0.2v12.9h0.5v12.9h0.5v-12.9h0.2v25.8h0.3v-12.9h0.3v12.9h0.2v-38.7h0.5v38.7h0.3v-12.9h0.2v-25.8h1v38.7h0.2v-38.7h0.6v38.7h0.2v-38.7h0.5v25.8h0.3v12.9h0.4v-38.7h0.3v12.9h0.3v12.9h0.2v-12.9h0.2v12.9h0.3v-25.8h0.3v12.9h0.2v-12.9h0.5v12.9h0.5v-12.9h0.2v12.9h0.3v12.9h0.3v12.9h0.2v-25.8h0.2v-12.9h0.6v25.8h0.2v-25.8h0.2v25.8h0.3v-25.8h0.3v25.8h0.2v-12.9h0.8v12.9h0.7v-12.9h0.3v-12.9h0.2v38.7h0.2v-38.7h0.3v12.9h0.3v12.9h0.2v12.9h0.2v-12.9h0.3v-25.8h0.3v38.7h0.2v-38.7h0.5v25.8h0.3v12.9h0.2v-12.9h0.2v12.9h0.3v-12.9h0.3v-25.8h0.2v25.8h0.2v12.9h0.3v-12.9h0.3v12.9h0.2v-12.9h0.2v-25.8h0.3v38.7h0.3v-25.8h1v12.9h0.2v-12.9h0.5v12.9h0.3v-25.8h0.2v25.8h0.2v-12.9h0.8v38.7h0.5v12.9h0.5v-25.8h0.2v-12.9h0.3v12.9h0.5v25.8h0.2v-38.7h0.3v38.7h0.7v-12.9h0.6v12.9h0.2v-25.8h0.2v12.9h0.3v-25.8h0.5v12.9h0.2v12.9h0.3v-25.8h0.3v38.7h0.2v-12.9h0.2v-25.8h0.6v12.9h0.2v25.8h0.2v12.9h0.3v-12.9h0.3v-25.8h0.2v38.7h0.2v-38.7h0.3v12.9h0.3v12.9h0.2v-12.9h0.8v25.8h0.2v-25.8h0.2v-12.9h0.3v12.9h0.3v12.9h0.4v12.9h0.3v-12.9h0.3v12.9h0.4v-12.9h0.8v-25.8h0.8v12.9h0.2v-12.9h0.2v25.8h0.3v-12.9h0.3v38.7h0.2v-25.8h0.2v-25.8h0.3v38.7h0.5v12.9h0.2v-25.8h0.6v25.8h0.2v-12.9h0.5v25.8h0.5v-51.6h0.2v25.8h0.3v25.8h0.3v-51.6h0.2v25.8h0.2v12.9h0.3v-38.7h0.3v38.7h0.2v12.9h0.2v-25.8h0.3v-25.8h0.3v12.9h0.2v25.8h0.2v-25.8h0.3v25.8h0.3v-12.9h0.4v25.8h0.8v-25.8h0.5v12.9h0.5v12.9h0.2v-12.9h0.3v25.8h0.3v-38.7h0.2v25.8h0.5v12.9h0.3v-25.8h0.2v25.8h0.2v-12.9h0.6v-25.8h0.2v38.7h0.2v-38.7h0.3v38.7h0.3v-25.8h0.4v-12.9h0.3v25.8h0.3v-38.7h0.2v38.7h0.5v-38.7h0.3v38.7h0.2v-12.9h0.2v-25.8h0.3v25.8h0.5v-12.9h0.2v12.9h1v-38.7h0.3v38.7h0.5v-25.8h0.2v25.8h0.3v-38.7h0.3v-12.9h0.2v25.8h0.2v-25.8h0.6v12.9h0.2v25.8h0.2v-25.8h0.3v25.8h0.3v-25.8h0.4v-25.8h0.6v38.7h0.2v-12.9h0.5v12.9h0.3v-12.9h0.2v-12.9h0.2v25.8h0.3v-12.9h0.3v-38.7h0.2v38.7h0.2v-25.8h0.3v25.8h0.7v-38.7h0.3v25.8h0.3v-12.9h0.2v25.8h0.2v-38.7h0.3v38.7h0.5v-25.8h0.8v12.9h0.2v-38.7h0.2v38.7h0.3v-25.8h0.5v25.8h0.2v-38.7h0.6v25.8h0.4v-25.8h0.3v25.8h0.3v-12.9h0.2v-12.9h0.8v12.9h0.7v25.8h0.3v-25.8h0.2v-12.9h0.2v38.7h0.3v-12.9h0.3v12.9h0.2v-25.8h0.2v12.9h0.3v-12.9h0.3v25.8h0.2v-38.7h0.2v38.7h0.3v-25.8h0.3v12.9h0.7v-25.8h0.3v38.7h0.2v-25.8h0.2v-12.9h0.3v25.8h0.3v-25.8h0.2v25.8h0.5v-25.8h0.7v25.8h0.6v12.9h0.2v-25.8h0.2v-12.9h0.3v25.8h0.3v12.9h0.2v-12.9h0.2v-12.9h0.3v-12.9h0.3v25.8h0.2v12.9h0.2v-38.7h0.3v25.8h0.5v12.9h0.2v-25.8h0.6v-12.9h0.4v25.8h0.3v-25.8h0.3v38.7h0.2v-38.7h0.2v25.8h0.3v-12.9h0.3v12.9h0.4v-25.8h0.6v12.9h0.2v-12.9h0.2v38.7h0.3v12.9h0.3v-25.8h0.2v-25.8h0.2v51.6h0.8v-12.9h0.2v-25.8h0.3v12.9h0.7v-12.9h0.3v51.6h0.3v-25.8h0.2v12.9h0.2v-38.7h0.3v51.6h0.5v-38.7h0.2v12.9h0.3v25.8h0.3v-25.8h0.2v-12.9h0.5v25.8h0.3v25.8h0.7v-25.8h0.3v38.7h0.2v-12.9h0.2v-25.8h0.3v12.9h0.3v25.8h0.4v-12.9h0.3v12.9h0.3v-12.9h0.2v12.9h0.2v-12.9h0.3v38.7h0.5v-25.8h0.2v25.8h0.3v-12.9h0.7v12.9h0.3v12.9h0.3v-12.9h0.2v-25.8h0.5v38.7h0.5v-12.9h0.5v25.8h0.3v-51.6h0.2v12.9h0.2v12.9h0.3v25.8h0.5v-25.8h0.8v-25.8h0.2v25.8h0.5v12.9h0.5v38.7h0.5v-25.8h0.3v-12.9h0.2v12.9h0.2v-25.8h0.3v38.7h0.3v-12.9h0.2v12.9h0.2v-25.8h0.3v12.9h0.3v-25.8h0.2v25.8h0.2v-12.9h0.3v12.9h0.3v-25.8h0.4v-12.9h0.6v25.8h0.2v-12.9h0.2v25.8h0.3v-38.7h0.3v12.9h0.4v-12.9h0.3v12.9h0.3v-25.8h0.2v12.9h0.2v-25.8h0.3v12.9h0.3v12.9h0.2v-12.9h0.2v12.9h0.3v-103.2h0.3v116.1h0.2v-38.7h1.2v25.8h0.6v-25.8h0.2v12.9h0.2v-38.7h0.3v25.8h0.3v12.9h0.2v-38.7h0.2v38.7h0.3v-25.8h0.5v25.8h0.2v-12.9h0.3v-38.7h0.3v12.9h0.2v12.9h0.2v-12.9h0.3v25.8h0.3v-38.7h0.2v38.7h0.2v-25.8h0.8v-25.8h0.2v12.9h0.3v-12.9h0.3v25.8h0.2v-25.8h0.2v-12.9h0.3v38.7h0.3v-25.8h0.2v25.8h0.2v-25.8h0.6v12.9h0.2v-12.9h0.2v12.9h0.8v-25.8h0.2v-12.9h0.8v12.9h0.2v12.9h0.3v-12.9h0.3v12.9h0.2v-25.8h0.8v12.9h0.4v25.8h0.3v-25.8h0.3v25.8h0.2v-38.7h0.2v12.9h0.3v25.8h0.3v-12.9h0.2v-25.8h0.2v25.8h0.6v25.8h0.2v-51.6h0.5v38.7h0.5v-12.9h0.2v-12.9h0.3v12.9h0.3v25.8h0.4v-25.8h0.3v25.8h0.3v-12.9h0.2v12.9h0.2v-12.9h0.3v-25.8h0.3v25.8h0.4v12.9h0.6v25.8h0.2v-25.8h0.2v25.8h0.3v-25.8h0.3v12.9h0.2v-25.8h0.2v38.7h0.3v-25.8h0.3v25.8h0.2v-12.9h0.5v-12.9h0.3v38.7h0.2v-25.8h0.2v-12.9h0.6v25.8h0.4v-12.9h0.6v25.8h0.4v-25.8h0.3v38.7h0.3v-38.7h0.2v25.8h0.5v-25.8h0.3v51.6h0.4v-38.7h0.3v25.8h0.3v-25.8h0.2v-12.9h0.2v12.9h0.6v25.8h0.4v25.8h0.3v-38.7h0.3v12.9h0.7v25.8h0.5v-12.9h0.2v-25.8h0.3v12.9h0.3v12.9h0.2v12.9h0.2v12.9h0.3v-25.8h0.5v-12.9h0.2v25.8h0.3v-12.9h0.3v12.9h0.4v-25.8h0.6v38.7h0.4v12.9h0.3v-25.8h0.3v-12.9h0.4v38.7h0.6v-38.7h0.2v25.8h0.2v-12.9h0.3v25.8h0.5v12.9h0.2v-12.9h0.6v12.9h0.2v-25.8h0.2v25.8h0.3v-38.7h0.5v25.8h0.2v-25.8h0.3v38.7h0.3v-25.8h0.2v12.9h0.5v-25.8h0.5v-12.9h0.5v25.8h0.3v-12.9h0.2v12.9h0.2v-25.8h0.3v-12.9h0.3v25.8h0.7v-38.7h0.3v12.9h0.2v12.9h0.2v12.9h0.3v-38.7h0.3v38.7h0.2v-12.9h0.2v-25.8h0.3v-12.9h0.3v38.7h0.2v-12.9h0.5v-12.9h0.3v-25.8h0.2v25.8h0.5v-12.9h0.3v25.8h0.4v-51.6h0.3v12.9h0.3v38.7h0.2v-12.9h0.5v-25.8h0.3v25.8h0.2v-12.9h0.2v-12.9h0.3v12.9h0.3v-25.8h0.2v38.7h0.2v-51.6h0.3v12.9h0.3v25.8h0.2v-25.8h0.2v25.8h0.6v-12.9h0.2v-12.9h0.5v-12.9h0.5v-12.9h0.2v12.9h0.3v12.9h0.3v-12.9h0.2v-12.9h0.8v-12.9h0.2v12.9h0.2v12.9h0.3v25.8h0.3v-12.9h0.2v-25.8h0.2v12.9h0.3v-25.8h0.7v25.8h0.6v-12.9h0.2v38.7h0.2v-38.7h0.3v12.9h0.3v12.9h0.2v-38.7h0.2v12.9h0.3v25.8h1v-25.8h0.5v51.6h0.2v-38.7h0.3v12.9h0.3v25.8h0.2v-38.7h0.2v38.7h0.3v-12.9h0.3v-12.9h0.4v12.9h0.3v12.9h0.3v-12.9h0.2v-12.9h0.2v12.9h0.3v25.8h0.3v-25.8h0.4v38.7h0.3v-25.8h0.3v12.9h0.7v-12.9h0.3v25.8h0.2v12.9h0.2v-51.6h0.3v12.9h0.3v12.9h0.2v12.9h0.2v-25.8h0.3v12.9h0.5v38.7h0.2v-51.6h0.6v38.7h0.2v-12.9h0.2v-12.9h0.3v38.7h0.3v-51.6h0.4v51.6h0.6v-12.9h0.2v-12.9h0.2v25.8h0.3v-38.7h0.3v12.9h0.4v12.9h0.3v-25.8h0.3v25.8h0.4v25.8h0.3v-25.8h0.3v12.9h0.2v-25.8h0.2v12.9h0.6v38.7h0.2v-38.7h0.2v25.8h0.3v12.9h0.5v-12.9h0.2v-25.8h0.3v38.7h0.3v-12.9h0.4v25.8h0.3v-51.6h0.3v38.7h0.7v-38.7h0.3v51.6h0.2v-25.8h0.5v25.8h0.3v12.9h0.2v-38.7h0.2v12.9h0.3v25.8h0.3v-25.8h0.2v-12.9h0.2v12.9h0.3v12.9h0.3v12.9h0.2v-25.8h0.5v38.7h0.3v-38.7h1.2v12.9h0.2v-12.9h0.3v25.8h0.3v-25.8h0.2v12.9h0.2v25.8h0.3v-25.8h0.3v25.8h0.2v-38.7h0.2v25.8h0.3v-38.7h0.3v51.6h0.4v-12.9h0.3v-25.8h0.3v25.8h0.4v-12.9h0.3v12.9h0.3v-25.8h0.2v25.8h0.2v-25.8h0.3v12.9h0.3v-12.9h0.2v-12.9h0.2v12.9h0.3v25.8h0.3v-38.7h0.2v12.9h0.5v-12.9h0.5v12.9h0.5v-12.9h0.3v12.9h0.4v12.9h0.3v12.9h0.3v-38.7h0.2v12.9h0.2v12.9h0.3v-25.8h0.5v25.8h0.2v-25.8h0.3v-12.9h0.3v12.9h0.2v38.7h0.2v-38.7h0.3v25.8h0.7v-12.9h0.3v12.9h0.5v-38.7h0.5v25.8h0.7v-12.9h0.3v25.8h0.3v-12.9h0.4v-25.8h0.3v12.9h0.5v25.8h0.2v-38.7h0.3v12.9h0.3v12.9h0.7v-12.9h0.3v-12.9h0.4v12.9h0.8v25.8h0.2v-25.8h0.3v-12.9h0.3v12.9h0.4v12.9h0.3v-12.9h0.3v-25.8h0.2v25.8h0.2v-12.9h0.6v25.8h0.2v12.9h0.2v-12.9h0.3v-25.8h0.5v25.8h0.5v-38.7h0.3v12.9h0.2v12.9h0.2v-25.8h0.8v25.8h0.2v12.9h0.6v-12.9h0.7v12.9h0.3v-12.9h0.2v25.8h0.2v-12.9h0.3v-38.7h0.5v25.8h0.5v25.8h0.3v-38.7h0.2v25.8h0.5v-25.8h0.3v-25.8h0.2v38.7h0.2v-25.8h0.3v12.9h0.3v12.9h0.2v-12.9h0.2v25.8h0.3v-12.9h0.7v-12.9h0.3v25.8h0.3v12.9h0.4v-38.7h0.3v12.9h0.3v12.9h0.4v-12.9h0.3v25.8h0.3v12.9h0.2v-25.8h0.5v25.8h0.3v-25.8h0.2v-12.9h0.2v-12.9h0.3v51.6h0.3v-12.9h0.2v-38.7h0.2v12.9h0.3v51.6h0.3v-51.6h0.2v38.7h0.2v-25.8h0.3v12.9h0.5v-12.9h0.2v12.9h0.3v12.9h0.3v-12.9h0.2v-12.9h0.2v25.8h0.3v-38.7h0.3v12.9h0.2v12.9h0.5v-12.9h0.3v25.8h0.2v-25.8h0.2v-12.9h0.6v38.7h0.4v-25.8h0.3v-12.9h0.3v38.7h0.2v-38.7h0.2v25.8h0.6v25.8h0.2v-12.9h0.2v-38.7h0.3v25.8h0.3v25.8h0.2v-38.7h0.2v-12.9h0.6v38.7h0.2v12.9h0.2v-25.8h0.3v-12.9h0.3v12.9h0.2v-12.9h0.2v12.9h0.8v-12.9h0.2v38.7h0.3v-12.9h0.5v12.9h0.2v-38.7h0.3v25.8h0.3v-12.9h0.2v12.9h0.2v12.9h0.3v-38.7h0.5v12.9h0.2v12.9h0.3v12.9h0.5v-12.9h0.2v-25.8h0.3v25.8h0.5v-25.8h0.2v38.7h0.6v-12.9h0.2v-12.9h0.2v12.9h0.3v-12.9h0.3v25.8h0.2v-38.7h0.2v25.8h0.6v25.8h0.2v-25.8h0.2v12.9h0.3v-25.8h0.5v12.9h0.2v25.8h0.6v-38.7h0.2v38.7h0.2v-38.7h0.3v25.8h0.3v12.9h0.2v-38.7h0.2v25.8h0.6v25.8h0.2v-38.7h0.2v38.7h0.3v-25.8h0.3v12.9h0.4v-12.9h0.3v-12.9h0.3v25.8h0.7v-12.9h0.5v-25.8h0.5v38.7h0.3v-12.9h0.2v12.9h0.2v-12.9h0.6v-12.9h0.2v25.8h0.2v-25.8h0.3v38.7h0.3v-38.7h0.2v38.7h0.2v-38.7h0.3v12.9h0.3v25.8h0.2v-38.7h0.2v12.9h0.6v25.8h0.2v-38.7h0.5v25.8h0.7v-25.8h0.3v25.8h0.3v-25.8h0.2v12.9h0.5v38.7h0.3v-38.7h0.2v-12.9h0.8v12.9h0.2v38.7h0.2v-12.9h0.3v-25.8h0.3" fill="none" stroke="#000" stroke-width="2.2" stroke-linejoin="miter" stroke-miterlimit="2"/>
<line x1="109.2" y1="230.7" x2="132.7" y2="230.7" stroke="#ff0000" stroke-width="2.6"/>
<line x1="109.2" y1="256.5" x2="132.7" y2="256.5" stroke="#000" stroke-width="2.6"/>
<text x="140.76" y="236.9" textLength="87.74" lengthAdjust="spacingAndGlyphs" xml:space="preserve"><tspan font-size="19.5">Extension</tspan></text>
<text x="140.77" y="262.2" textLength="90.83" lengthAdjust="spacingAndGlyphs" xml:space="preserve"><tspan font-size="19.5">Retraction</tspan></text>
<rect x="79" y="326.9" width="605.2" height="293.5" fill="none" stroke="#000" stroke-width="1.6"/>
<line x1="79" y1="380.4" x2="88" y2="380.4" stroke="#000" stroke-width="1.6"/>
<text x="48.98" y="388.8" textLength="25.42" lengthAdjust="spacingAndGlyphs" xml:space="preserve"><tspan font-size="23.5">40</tspan></text>
<line x1="79" y1="492.7" x2="88" y2="492.7" stroke="#000" stroke-width="1.6"/>
<text x="48.98" y="501.1" textLength="25.42" lengthAdjust="spacingAndGlyphs" xml:space="preserve"><tspan font-size="23.5">20</tspan></text>
<line x1="79" y1="605.1" x2="88" y2="605.1" stroke="#000" stroke-width="1.6"/>
<text x="61.68" y="613.5" textLength="12.71" lengthAdjust="spacingAndGlyphs" xml:space="preserve"><tspan font-size="23.5">0</tspan></text>
<line x1="194" y1="620.4" x2="194" y2="611.8" stroke="#000" stroke-width="1.6"/>
<text x="172" y="647.8" textLength="39.73" lengthAdjust="spacingAndGlyphs" xml:space="preserve"><tspan font-size="23.5">–50</tspan></text>
<line x1="349.8" y1="620.4" x2="349.8" y2="611.8" stroke="#000" stroke-width="1.6"/>
<text x="343.56" y="647.8" textLength="13.07" lengthAdjust="spacingAndGlyphs" xml:space="preserve"><tspan font-size="23.5">0</tspan></text>
<line x1="505.6" y1="620.4" x2="505.6" y2="611.8" stroke="#000" stroke-width="1.6"/>
<text x="492.82" y="647.8" textLength="26.15" lengthAdjust="spacingAndGlyphs" xml:space="preserve"><tspan font-size="23.5">50</tspan></text>
<line x1="661" y1="620.4" x2="661" y2="611.8" stroke="#000" stroke-width="1.6"/>
<text x="641.25" y="647.8" textLength="39.22" lengthAdjust="spacingAndGlyphs" xml:space="preserve"><tspan font-size="23.5">100</tspan></text>
<text transform="translate(19.4,605.91) rotate(-90)" x="0" y="0" textLength="247.36" lengthAdjust="spacingAndGlyphs" xml:space="preserve"><tspan font-size="23.5">Deflection </tspan><tspan font-size="23.5" font-style="italic">D</tspan><tspan font-size="15.5" dy="5.5">cantilever</tspan><tspan font-size="23.5" dy="-5.5"> (nm)</tspan></text>
<text x="250.13" y="677.5" textLength="308.84" lengthAdjust="spacingAndGlyphs" xml:space="preserve"><tspan font-size="23.5">Scanner extension Z</tspan><tspan font-size="15.5" dy="6.5">piezo</tspan><tspan font-size="23.5" dy="-6.5"> (nm)</tspan></text>
<polyline points="79.8,595.6 349.6,596.4 349.6,607.89 350.6,607.52 351.6,607.15 352.6,606.78 353.6,606.4 354.6,606.03 355.6,605.65 356.6,605.26 357.6,604.88 358.6,604.49 359.6,604.1 360.6,603.71 361.6,603.32 362.6,602.92 363.6,602.52 364.6,602.12 365.6,601.72 366.6,601.32 367.6,600.91 368.6,600.5 369.6,600.09 370.6,599.67 371.6,599.25 372.6,598.83 373.6,598.41 374.6,597.99 375.6,597.56 376.6,597.13 377.6,596.7 378.6,596.26 379.6,595.83 380.6,595.39 381.6,594.95 382.6,594.5 383.6,594.05 384.6,593.61 385.6,593.15 386.6,592.7 387.6,592.24 388.6,591.78 389.6,591.32 390.6,590.85 391.6,590.39 392.6,589.92 393.6,589.44 394.6,588.97 395.6,588.49 396.6,588.01 397.6,587.52 398.6,587.04 399.6,586.55 400.6,586.06 401.6,585.56 402.6,585.07 403.6,584.57 404.6,584.07 405.6,583.56 406.6,583.05 407.6,582.54 408.6,582.03 409.6,581.51 410.6,581 411.6,580.47 412.6,579.95 413.6,579.42 414.6,578.89 415.6,578.36 416.6,577.83 417.6,577.29 418.6,576.75 419.6,576.21 420.6,575.66 421.6,575.11 422.6,574.56 423.6,574.01 424.6,573.45 425.6,572.89 426.6,572.33 427.6,571.76 428.6,571.19 429.6,570.62 430.6,570.05 431.6,569.47 432.6,568.89 433.6,568.31 434.6,567.72 435.6,567.14 436.6,566.55 437.6,565.95 438.6,565.36 439.6,564.76 440.6,564.16 441.6,563.55 442.6,562.94 443.6,562.33 444.6,561.72 445.6,561.1 446.6,560.49 447.6,559.86 448.6,559.24 449.6,558.61 450.6,557.98 451.6,557.35 452.6,556.71 453.6,556.08 454.6,555.44 455.6,554.79 456.6,554.14 457.6,553.5 458.6,552.84 459.6,552.19 460.6,551.53 461.6,550.87 462.6,550.21 463.6,549.54 464.6,548.87 465.6,548.2 466.6,547.52 467.6,546.85 468.6,546.17 469.6,545.48 470.6,544.8 471.6,544.11 472.6,543.42 473.6,542.73 474.6,542.03 475.6,541.33 476.6,540.63 477.6,539.92 478.6,539.22 479.6,538.51 480.6,537.79 481.6,537.08 482.6,536.36 483.6,535.64 484.6,534.92 485.6,534.19 486.6,533.46 487.6,532.73 488.6,531.99 489.6,531.26 490.6,530.52 491.6,529.78 492.6,529.03 493.6,528.28 494.6,527.53 495.6,526.78 496.6,526.03 497.6,525.27 498.6,524.51 499.6,523.74 500.6,522.98 501.6,522.21 502.6,521.44 503.6,520.67 504.6,519.89 505.6,519.11 506.6,518.33 507.6,517.55 508.6,516.76 509.6,515.97 510.6,515.18 511.6,514.39 512.6,513.59 513.6,512.8 514.6,512 515.6,511.19 516.6,510.39 517.6,509.58 518.6,508.77 519.6,507.96 520.6,507.14 521.6,506.33 522.6,505.51 523.6,504.68 524.6,503.86 525.6,503.03 526.6,502.2 527.6,501.37 528.6,500.54 529.6,499.7 530.6,498.87 531.6,498.03 532.6,497.18 533.6,496.34 534.6,495.49 535.6,494.64 536.6,493.79 537.6,492.94 538.6,492.08 539.6,491.23 540.6,490.37 541.6,489.5 542.6,488.64 543.6,487.77 544.6,486.91 545.6,486.04 546.6,485.16 547.6,484.29 548.6,483.41 549.6,482.54 550.6,481.66 551.6,480.77 552.6,479.89 553.6,479.01 554.6,478.12 555.6,477.23 556.6,476.34 557.6,475.44 558.6,474.55 559.6,473.65 560.6,472.75 561.6,471.85 562.6,470.95 563.6,470.05 564.6,469.14 565.6,468.23 566.6,467.33 567.6,466.41 568.6,465.5 569.6,464.59 570.6,463.67 571.6,462.76 572.6,461.84 573.6,460.92 574.6,459.99 575.6,459.07 576.6,458.15 577.6,457.22 578.6,456.29 579.6,455.36 580.6,454.43 581.6,453.5 582.6,452.57 583.6,451.63 584.6,450.7 585.6,449.76 586.6,448.82 587.6,447.88 588.6,446.94 589.6,446 590.6,445.05 591.6,444.11 592.6,443.16 593.6,442.22 594.6,441.27 595.6,440.32 596.6,439.37 597.6,438.42 598.6,437.46 599.6,436.51 600.6,435.56 601.6,434.6 602.6,433.65 603.6,432.69 604.6,431.73 605.6,430.77 606.6,429.81 607.6,428.85 608.6,427.89 609.6,426.93 610.6,425.96 611.6,425 612.6,424.04 613.6,423.07 614.6,422.11 615.6,421.14 616.6,420.17 617.6,419.21 618.6,418.24 619.6,417.27 620.6,416.3 621.6,415.33 622.6,414.36 623.6,413.39 624.6,412.42 625.6,411.45 626.6,410.48 627.6,409.51 628.6,408.54 629.6,407.56 630.6,406.59 631.6,405.62 632.6,404.65 633.6,403.67 634.6,402.7 635.6,401.73 636.6,400.76 637.6,399.78 638.6,398.81 639.6,397.84 640.6,396.86 641.6,395.89 642.6,394.92 643.6,393.95 644.6,392.98 645.6,392 646.6,391.03 647.6,390.06 648.6,389.09 649.6,388.12 650.6,387.15 651.6,386.18" fill="none" stroke="#ff0000" stroke-width="3.0" stroke-linejoin="miter" stroke-linecap="butt"/>
<polyline points="105,594 306.4,596.6 306.4,620.37 307.4,620.08 308.4,619.78 309.4,619.49 310.4,619.2 311.4,618.9 312.4,618.6 313.4,618.31 314.4,618.01 315.4,617.7 316.4,617.4 317.4,617.09 318.4,616.79 319.4,616.48 320.4,616.17 321.4,615.86 322.4,615.54 323.4,615.23 324.4,614.91 325.4,614.59 326.4,614.27 327.4,613.95 328.4,613.62 329.4,613.3 330.4,612.97 331.4,612.64 332.4,612.31 333.4,611.97 334.4,611.64 335.4,611.3 336.4,610.96 337.4,610.62 338.4,610.28 339.4,609.93 340.4,609.58 341.4,609.24 342.4,608.88 343.4,608.53 344.4,608.17 345.4,607.82 346.4,607.46 347.4,607.09 348.4,606.73 349.4,606.36 350.4,606 351.4,605.63 352.4,605.25 353.4,604.88 354.4,604.5 355.4,604.12 356.4,603.74 357.4,603.36 358.4,602.97 359.4,602.58 360.4,602.19 361.4,601.8 362.4,601.4 363.4,601 364.4,600.6 365.4,600.2 366.4,599.8 367.4,599.39 368.4,598.98 369.4,598.57 370.4,598.15 371.4,597.74 372.4,597.32 373.4,596.9 374.4,596.47 375.4,596.05 376.4,595.62 377.4,595.19 378.4,594.75 379.4,594.32 380.4,593.88 381.4,593.44 382.4,592.99 383.4,592.54 384.4,592.1 385.4,591.64 386.4,591.19 387.4,590.73 388.4,590.27 389.4,589.81 390.4,589.35 391.4,588.88 392.4,588.41 393.4,587.94 394.4,587.46 395.4,586.98 396.4,586.5 397.4,586.02 398.4,585.54 399.4,585.05 400.4,584.56 401.4,584.06 402.4,583.57 403.4,583.07 404.4,582.57 405.4,582.06 406.4,581.56 407.4,581.05 408.4,580.53 409.4,580.02 410.4,579.5 411.4,578.98 412.4,578.46 413.4,577.93 414.4,577.4 415.4,576.87 416.4,576.33 417.4,575.8 418.4,575.26 419.4,574.72 420.4,574.17 421.4,573.62 422.4,573.07 423.4,572.52 424.4,571.96 425.4,571.4 426.4,570.84 427.4,570.27 428.4,569.71 429.4,569.14 430.4,568.56 431.4,567.99 432.4,567.41 433.4,566.83 434.4,566.24 435.4,565.65 436.4,565.06 437.4,564.47 438.4,563.88 439.4,563.28 440.4,562.68 441.4,562.07 442.4,561.47 443.4,560.86 444.4,560.24 445.4,559.63 446.4,559.01 447.4,558.39 448.4,557.76 449.4,557.14 450.4,556.51 451.4,555.88 452.4,555.24 453.4,554.6 454.4,553.96 455.4,553.32 456.4,552.67 457.4,552.03 458.4,551.37 459.4,550.72 460.4,550.06 461.4,549.4 462.4,548.74 463.4,548.07 464.4,547.41 465.4,546.73 466.4,546.06 467.4,545.38 468.4,544.7 469.4,544.02 470.4,543.34 471.4,542.65 472.4,541.96 473.4,541.27 474.4,540.57 475.4,539.87 476.4,539.17 477.4,538.46 478.4,537.76 479.4,537.05 480.4,536.34 481.4,535.62 482.4,534.9 483.4,534.18 484.4,533.46 485.4,532.73 486.4,532.01 487.4,531.27 488.4,530.54 489.4,529.8 490.4,529.07 491.4,528.32 492.4,527.58 493.4,526.83 494.4,526.08 495.4,525.33 496.4,524.58 497.4,523.82 498.4,523.06 499.4,522.3 500.4,521.53 501.4,520.76 502.4,519.99 503.4,519.22 504.4,518.45 505.4,517.67 506.4,516.89 507.4,516.11 508.4,515.32 509.4,514.53 510.4,513.74 511.4,512.95 512.4,512.15 513.4,511.36 514.4,510.56 515.4,509.75 516.4,508.95 517.4,508.14 518.4,507.33 519.4,506.52 520.4,505.71 521.4,504.89 522.4,504.07 523.4,503.25 524.4,502.42 525.4,501.6 526.4,500.77 527.4,499.94 528.4,499.11 529.4,498.27 530.4,497.43 531.4,496.59 532.4,495.75 533.4,494.91 534.4,494.06 535.4,493.21 536.4,492.36 537.4,491.51 538.4,490.65 539.4,489.8 540.4,488.94 541.4,488.08 542.4,487.21 543.4,486.35 544.4,485.48 545.4,484.61 546.4,483.74 547.4,482.87 548.4,481.99 549.4,481.11 550.4,480.23 551.4,479.35 552.4,478.47 553.4,477.58 554.4,476.7 555.4,475.81 556.4,474.92 557.4,474.02 558.4,473.13 559.4,472.23 560.4,471.33 561.4,470.43 562.4,469.53 563.4,468.63 564.4,467.72 565.4,466.82 566.4,465.91 567.4,465 568.4,464.08 569.4,463.17 570.4,462.26 571.4,461.34 572.4,460.42 573.4,459.5 574.4,458.58 575.4,457.66 576.4,456.73 577.4,455.81 578.4,454.88 579.4,453.95 580.4,453.02 581.4,452.09 582.4,451.15 583.4,450.22 584.4,449.28 585.4,448.35 586.4,447.41 587.4,446.47 588.4,445.53 589.4,444.59 590.4,443.64 591.4,442.7 592.4,441.75 593.4,440.81 594.4,439.86 595.4,438.91 596.4,437.96 597.4,437.01 598.4,436.06 599.4,435.1 600.4,434.15 601.4,433.19 602.4,432.24 603.4,431.28 604.4,430.32 605.4,429.36 606.4,428.4 607.4,427.44 608.4,426.48 609.4,425.52 610.4,424.56 611.4,423.59 612.4,422.63 613.4,421.66 614.4,420.7 615.4,419.73 616.4,418.77 617.4,417.8 618.4,416.83 619.4,415.86 620.4,414.89 621.4,413.93 622.4,412.96 623.4,411.99 624.4,411.02 625.4,410.04 626.4,409.07 627.4,408.1 628.4,407.13 629.4,406.16 630.4,405.19 631.4,404.21 632.4,403.24 633.4,402.27 634.4,401.3 635.4,400.32 636.4,399.35 637.4,398.38 638.4,397.4 639.4,396.43 640.4,395.46 641.4,394.49 642.4,393.51 643.4,392.54 644.4,391.57 645.4,390.6 646.4,389.63 647.4,388.65 648.4,387.68 649.4,386.71 650.4,385.74 651.4,384.77 652.4,383.8" fill="none" stroke="#000" stroke-width="3.2" stroke-linejoin="miter" stroke-linecap="butt"/>
<text x="-0.12" y="728.4" textLength="21.46" lengthAdjust="spacingAndGlyphs" xml:space="preserve"><tspan font-size="32.5" font-weight="bold">b</tspan></text>
<rect x="77.6" y="726.6" width="605" height="453.1" fill="none" stroke="#000" stroke-width="1.6"/>
<line x1="77.6" y1="1140.3" x2="85.6" y2="1140.3" stroke="#000" stroke-width="1.6"/>
<text x="54.43" y="1148.2" textLength="12.55" lengthAdjust="spacingAndGlyphs" xml:space="preserve"><tspan font-size="22.5">0</tspan></text>
<line x1="77.6" y1="1073.5" x2="85.6" y2="1073.5" stroke="#000" stroke-width="1.6"/>
<text x="54.5" y="1081.4" textLength="12.55" lengthAdjust="spacingAndGlyphs" xml:space="preserve"><tspan font-size="22.5">5</tspan></text>
<line x1="77.6" y1="1006.7" x2="85.6" y2="1006.7" stroke="#000" stroke-width="1.6"/>
<text x="41.88" y="1014.6" textLength="25.1" lengthAdjust="spacingAndGlyphs" xml:space="preserve"><tspan font-size="22.5">10</tspan></text>
<line x1="77.6" y1="939.9" x2="85.6" y2="939.9" stroke="#000" stroke-width="1.6"/>
<text x="41.95" y="947.8" textLength="25.1" lengthAdjust="spacingAndGlyphs" xml:space="preserve"><tspan font-size="22.5">15</tspan></text>
<line x1="77.6" y1="873.1" x2="85.6" y2="873.1" stroke="#000" stroke-width="1.6"/>
<text x="41.88" y="881" textLength="25.1" lengthAdjust="spacingAndGlyphs" xml:space="preserve"><tspan font-size="22.5">20</tspan></text>
<line x1="77.6" y1="806.3" x2="85.6" y2="806.3" stroke="#000" stroke-width="1.6"/>
<text x="41.95" y="814.2" textLength="25.1" lengthAdjust="spacingAndGlyphs" xml:space="preserve"><tspan font-size="22.5">25</tspan></text>
<line x1="77.6" y1="739.5" x2="85.6" y2="739.5" stroke="#000" stroke-width="1.6"/>
<text x="41.88" y="747.4" textLength="25.1" lengthAdjust="spacingAndGlyphs" xml:space="preserve"><tspan font-size="22.5">30</tspan></text>
<line x1="163.1" y1="1179.7" x2="163.1" y2="1171.7" stroke="#000" stroke-width="1.6"/>
<text x="150.76" y="1207.6" textLength="25.44" lengthAdjust="spacingAndGlyphs" xml:space="preserve"><tspan font-size="23">10</tspan></text>
<line x1="253" y1="1179.7" x2="253" y2="1171.7" stroke="#000" stroke-width="1.6"/>
<text x="240.95" y="1207.6" textLength="25.44" lengthAdjust="spacingAndGlyphs" xml:space="preserve"><tspan font-size="23">20</tspan></text>
<line x1="342.9" y1="1179.7" x2="342.9" y2="1171.7" stroke="#000" stroke-width="1.6"/>
<text x="330.99" y="1207.6" textLength="25.44" lengthAdjust="spacingAndGlyphs" xml:space="preserve"><tspan font-size="23">30</tspan></text>
<line x1="432.8" y1="1179.7" x2="432.8" y2="1171.7" stroke="#000" stroke-width="1.6"/>
<text x="421.07" y="1207.6" textLength="25.44" lengthAdjust="spacingAndGlyphs" xml:space="preserve"><tspan font-size="23">40</tspan></text>
<line x1="522.7" y1="1179.7" x2="522.7" y2="1171.7" stroke="#000" stroke-width="1.6"/>
<text x="510.77" y="1207.6" textLength="25.44" lengthAdjust="spacingAndGlyphs" xml:space="preserve"><tspan font-size="23">50</tspan></text>
<line x1="612.6" y1="1179.7" x2="612.6" y2="1171.7" stroke="#000" stroke-width="1.6"/>
<text x="600.55" y="1207.6" textLength="25.44" lengthAdjust="spacingAndGlyphs" xml:space="preserve"><tspan font-size="23">60</tspan></text>
<text transform="translate(25.4,1148.21) rotate(-90)" x="0" y="0" textLength="392.95" lengthAdjust="spacingAndGlyphs" xml:space="preserve"><tspan font-size="23.5">Relative resistance change Δ</tspan><tspan font-size="23.5" font-style="italic">R</tspan><tspan font-size="23.5">/</tspan><tspan font-size="23.5" font-style="italic">R</tspan><tspan font-size="15.5" dy="5.5">0</tspan><tspan font-size="23.5" dy="-5.5"> (%)</tspan></text>
<text x="210.06" y="1242.3" textLength="342.7" lengthAdjust="spacingAndGlyphs" xml:space="preserve"><tspan font-size="23">Nanoribbon deflection </tspan><tspan font-size="23" font-style="italic">D</tspan><tspan font-size="15" dy="6.5">GNR</tspan><tspan font-size="23" dy="-6.5"> (nm)</tspan></text>
<text x="87.43" y="783.8" textLength="147.91" lengthAdjust="spacingAndGlyphs" xml:space="preserve"><tspan font-size="20.8">Deformation #4</tspan></text>
<text x="87.42" y="906.6" textLength="148.23" lengthAdjust="spacingAndGlyphs" xml:space="preserve"><tspan font-size="20.8">Deformation #3</tspan></text>
<text x="87.42" y="1005" textLength="148.37" lengthAdjust="spacingAndGlyphs" xml:space="preserve"><tspan font-size="20.8">Deformation #2</tspan></text>
<text x="87.42" y="1116.6" textLength="148.34" lengthAdjust="spacingAndGlyphs" xml:space="preserve"><tspan font-size="20.8">Deformation #1</tspan></text>
<path d="M78.8,808h0.4v14h0.4v-8h0.4v8h0.8v-8h0.4v-2h0.4v6h0.4v-8h0.8v-2h0.4v8h0.4v4h0.4v-2h0.4v4h0.4v-14h0.4v10h1.2v-4h0.4v-4h0.4v2h0.4v-2h0.4v12h0.4v-4h0.4v2h0.4v-4h0.4v-8h0.4v10h0.4v-6h0.4v4h0.4v-2h0.4v2h0.4v-6h0.4v10h0.4v-12h0.4v12h0.8v-4h0.4v-6h0.4v2h0.4v2h0.4v-2h0.4v-4h0.4v14h0.4v-6h0.4v-4h0.4v-6h0.4v6h0.4v4h0.4v-10h0.4v12h0.4v-12h0.8v8h0.4v-8h0.4v10h0.4v-8h0.4v-2h0.4v12h0.4v-12h0.8v8h0.4v2h0.4v-4h0.4v4h0.4v-10h0.4v10h0.4v-2h0.4v-2h0.4v-10h0.4v6h0.4v-6h0.8v2h0.4v4h0.8v-6h0.4v2h0.4v12h0.4v-16h0.4v4h0.4v8h0.4v-4h0.4v-2h0.4v-6h0.4v6h0.4v10h0.4v-6h0.4v-4h0.4v8h0.8v-2h0.4v-8h0.4v4h0.4v6h0.4v-8h0.4v8h0.4v-6h0.8v4h0.4v-12h0.4v8h0.8v-6h1.2v4h0.4v4h0.4v-8h0.4v6h0.4v-6h0.4v10h0.4v-10h0.4v-2h0.4v10h0.4v-4h0.4v8h0.4v-8h0.4v6h0.4v-6h1.2v4h0.4v-10h0.4v12h0.4v-4h0.8v-8h0.4v8h0.4v-2h0.4v2h0.4v-2h0.4v4h0.8v-4h0.4v6h0.4v-6h0.4v-4h0.4v8h0.4v-8h0.4v8h0.4v-4h0.4v6h0.4v-12h0.4v4h0.4v8h0.4v-4h0.4v-6h0.4v8h0.4v-6h0.4v2h0.4v-6h0.4v-2h0.4v14h0.4v-4h0.4v4h0.4v-8h0.4v-4h0.4v-2h0.4v8h0.4v2h0.4v2h0.4v-8h0.8v-2h0.4v12h0.4v-4h0.4v-2h0.4v8h0.4v-6h0.4v-2h0.4v4h0.4v-2h0.4v2h0.4v-6h0.4v10h0.4v-8h0.4v-2h0.4v8h0.4v4h0.4v-8h0.4v10h0.4v-6h0.4v2h0.4v4h0.4v-2h0.8v-6h0.4v-2h0.4v6h1.2v2h0.4v-8h0.4v12h0.4v-4h0.8v-10h0.4v8h0.8v-6h0.4v2h0.4v-2h0.4v8h0.4v2h0.4v-4h0.4v-4h0.4v8h0.4v-4h0.4v4h0.8v-8h0.4v4h0.4v-8h0.4v6h0.4v-6h0.4v10h0.4v-2h0.4v-4h0.4v6h0.4v-2h0.4v-6h0.4v10h0.8v-4h0.4v2h0.4v2h0.4v-4h0.4v-4h0.4v8h0.4v-4h0.4v6h0.4v-6h0.4v2h0.4v10h0.4v-16h0.4v2h0.4v6h0.4v-4h0.4v8h0.4v-12h0.8v10h0.4v-8h0.4v2h0.4v-2h0.4v4h0.4v8h0.4v-6h0.4v2h0.4v-8h0.4v6h0.4v-4h0.8v2h0.4v4h0.4v4h0.4v-8h0.4v2h0.4v12h0.4v-10h0.4v-4h0.4v14h0.4v-12h0.4v6h0.4v4h0.4v4h1.2v-4h0.4v6h0.4v-12h0.4v2h0.4v6h0.8v2h0.4v-10h0.4v4h0.4v4h0.4v-12h0.4v6h0.4v6h0.4v-12h0.4v12h0.4v-2h0.4v-4h0.4v-2h0.4v8h0.4v-6h0.4v4h0.4v-8h0.4v10h0.4v2h0.8v6h0.4v-16h0.4v12h0.4v-8h0.4v-2h0.4v10h0.4v2h0.4v-12h0.4v2h0.4v4h0.4v6h0.4v-6h0.4v-4h0.4v10h0.4v2h0.4v-10h0.4v6h0.4v2h0.4v-8h0.4v8h0.4v-4h0.4v6h0.4v-4h0.4v-6h0.4v6h0.4v-4h0.8v-4h0.8v2h0.4v8h0.4v-2h0.4v-2h0.4v4h0.4v2h0.8v4h0.4v2h0.8v-2h0.4v6h0.8v-2h0.4v-8h0.4v6h0.4v-8h0.4v12h0.4v-6h0.4v-6h0.4v2h0.4v6h0.4v4h0.4v-6h0.8v6h1.2v-6h0.8v4h0.4v-8h0.4v10h0.8v2h0.4v-8h0.4v2h0.4v-2h0.4v4h0.4v2h0.4v-2h0.4v8h0.4v-4h0.4v4h0.4v6h0.4v-6h0.4v-8h0.4v2h0.4v-4h0.4v6h0.8v-2h0.4v2h0.4v-2h0.4v8h0.4v-6h0.4v-16h0.4v10h0.4v-2h0.4v-4h0.4v8h0.4v-4h0.4v4h0.4v-4h0.4v6h0.4v-10h0.4v-6h0.4v2h0.4v8h0.4v-8h0.4v4h0.4v-8h0.4v10h0.4v-6h0.4v-6h0.4v12h0.4v-4h0.4v-2h0.4v4h0.4v-2h0.4v-12h0.4v12h0.4v-10h0.4v6h0.4v-6h0.8v2h0.4v-8h0.4v12h0.4v-8h0.4v4h0.4v-8h0.8v-2h0.4v6h0.8v4h0.4v-6h0.4v6h0.8v-6h0.4v2h0.4v6h0.4v2h0.4v-6h0.4v-4h0.4v8h0.4v-6h0.4v-6h0.8v6h0.4v-6h0.4v2h0.4v6h0.4v-6h0.4v-2h0.4v4h0.4v-4h0.4v4h0.4v-12h0.4v12h0.4v-10h0.8v4h0.4v2h0.4v-8h0.4v8h0.4v-4h0.4v4h0.4v-6h0.8v2h0.8v2h0.4v-8h0.4v4h0.4v-8h0.4v8h0.4v-4h0.4v6h0.4v-2h0.4v-10h0.4v6h0.4v-4h0.8v-2h0.4v6h0.4v2h0.4v-6h0.8v-2h0.4v6h0.4v2h0.4v-8h0.4v-4h0.4v-4h0.8v2h0.8v-4h0.4v2h0.4v-4h0.4v4h0.4v4h0.4v4h0.4v-12h0.4v8h0.4v-6h0.4v12h0.4v-10h0.4v-2h0.4v12h0.4v-8h0.4v-2h0.4v2h0.4v6h0.4v-6h0.8v2h0.4v-8h0.4v12h0.4v-2h0.4v-2h0.4v-4h0.4v8h0.4v-12h0.8v8h0.4v2h0.4v-8h0.4v10h0.4v-6h0.4v-2h0.4v6h0.4v-6h0.4v-2h0.4v2h0.4v-6h0.4v4h0.4v2h0.4v-10h0.4v8h0.8v-6h0.8v-2h0.4v8h0.4v2h0.4v-10h0.4v8h0.4v4h0.4v-12h0.4v6h0.4v-4h0.4v-2h0.4v10h0.4v-8h0.4v8h0.8v-8h0.4v12h0.8v-12h0.4v12h0.4v-4h0.4v-8h0.4v8h0.4v4h0.4v2h0.8v-4h0.4v-6h0.4v2h0.4v-6h0.4v10h0.4v-4h0.4v4h0.4v-4h0.4v4h0.4v2h0.4v4h0.4v-12h0.4v8h0.4v-2h0.4v8h0.4v-2h0.8v-8h0.4v2h0.4v10h0.4v-8h0.4v6h0.4v-8h0.4v8h0.4v-4h0.4v6h0.4v-8h0.4v12h0.4v-2h0.4v-2h0.8v4h0.4v-4h0.4v4h0.4v-4h0.4v-4h0.4v6h0.4v6h0.4v-2h0.4v-6h0.8v2h0.4v8h0.4v-8h0.4v4h0.4v10h0.4v-12h0.4v12h0.4v-6h0.4v8h0.4v-8h0.4v4h0.4v-4h0.4v2h0.4v8h0.8v-6h0.4v10h0.4v4h0.4v-6h0.4v-4h0.4v6h1.2v6h0.8v-12h0.4v-2h0.4v-2h0.4v14h0.8v-4h0.4v-2h0.4v-6h0.4v2h0.4v-2h0.4v4h0.4v-4h1.2v2h0.4v6h0.4v-2h0.4v10h0.8v4h0.4v-2h0.4v2h0.4v-4h0.4v-2h0.4v2h0.4v-8h0.8v10h0.4v-6h0.4v8h0.4v2h0.4v-4h0.4v-4h0.8v6h0.4v-10h0.4v6h1.2v-4h0.4v4h0.4v4h0.8v2h0.4v-16h0.4v12h0.4v-6h0.4v2h0.4v-6h0.4v4h0.4v-8h0.8v2h0.4v6h0.4v-10h0.4v4h0.8v6h0.4v-12h0.4v6h0.4v-2h0.4v4h0.4v-8h0.4v2h0.4v-6h0.4v2h0.4v-6h0.4v2h0.8v-2h0.8v-4h0.4v-2h0.8v2h0.4v-2h0.4v4h0.4v-14h0.4v8h0.4v-10h0.8v-4h0.4v6h0.4v-10h0.4v-4h0.4v12h0.4v-2h0.4v-10h0.4v8h0.4v-4h0.4v6h0.4v-4h0.8v6h0.4v-8h0.4v2h0.4v6h0.4v-2h0.4v-8h0.8v4h0.4v10h0.4v-12h0.8v14h0.4v-10h0.4v2h0.4v10h0.4v-6h0.4v-6h0.4v4h0.4v10h0.4v-12h0.4v2h0.4v2h0.4v-4h0.4v10h0.4v-6h0.4v2h0.4v4h0.4v6h0.4v-8h0.4v14h0.4v-6h0.4v-4h0.4v2h0.4v6h0.4v-4h0.4v2h0.4v12h0.8v-2h0.4v2h0.4v-8h0.4v4h0.4v-4h0.4v10h0.4v-10h0.4v4h0.4v14h0.4v-12h0.4v14h0.4v-6h0.4v2h0.4v-4h0.4v4h0.8v6h0.4v6h0.4v-8h0.4v-4h0.4v14h0.4v-8h0.4v-2h0.4v4h0.4v-2h0.4v-4h0.4v-6h0.4v8h0.4v-8h0.4v4h0.4v-6h0.8v4h0.4v2h0.4v2h0.8v-2h0.8v-6h0.4v8h0.4v-4h0.4v-8h0.4v4h0.4v-2h0.4v-4h0.4v8h0.8v2h0.4v-2h0.4v2h0.4v-12h0.4v4h0.4v-4h0.4v4h0.4v-4h0.4v-10h0.4v2h0.4v-2h0.4v-2h0.4v2h1.2v-4h0.4v10h0.4v-12h0.4v2h0.4v10h0.4v-6h0.4v4h0.4v-10h0.4v12h0.4v-8h0.4v6h0.4v-6h0.4v4h0.4v-12h0.4v4h0.4v8h0.4v-18h0.4v14h0.4v-6h0.8v-4h0.4v2h0.4v8h0.4v-8h0.4v-4h0.4v8h0.4v-8h0.4v4h0.4v4h0.4v-6h0.4v-4h0.4v8h0.4v2h0.4v-4h0.4v4h0.4v-6h0.4v-8h0.4v6h0.4v6h0.4v2h0.4v-10h0.4v8h0.4v-2h0.4v-8h0.4v8h0.4v-6h0.4v-4h0.4v6h0.4v-4h0.4v2h0.4v12h0.4v-10h0.4v8h0.4v2h0.8v8h0.4v-2h0.4v14h0.4v2h0.4v-2h0.4v-2h0.4v-2h0.4v2h0.4v4h0.4v2h0.4v-8h0.4v10h0.4v-4h0.4v6h0.4v-6h0.8v6h0.4v-6h0.4v6h0.4v-4h0.4v-6h0.4v12h0.8v-12h0.4v-2h0.4v6h0.4v-8h0.4v4h0.4v-4h0.4v6h0.8v6h0.4v-2h0.4v-8h0.4v6h0.4v4h0.4v-12h0.4v6h0.4v-6h0.4v2h0.4v4h0.4v-8h0.4v6h0.4v-2h0.4v-2h0.4v6h0.4v-4h0.4v-2h0.4v12h0.4v-8h0.4v2h0.4v-6h0.4v12h0.4v-6h0.4v-6h0.4v4h0.8v-4h0.4v-2h0.4v-6h0.4v10h0.4v-12h0.8v6h0.4v2h0.8v-10h0.4v8h0.4v-10h0.4v-2h0.4v4h0.8v-2h0.4v6h0.4v-8h0.4v-2h0.8v-4h0.4v6h0.4v-8h0.4v4h0.4v-6h0.4v8h0.4v-6h0.4v6h0.4v-10h0.4v4h0.4v6h0.4v-4h0.4v-8h0.8v8h0.4v4h0.4v-8h0.4v4h0.4v-2h0.4v4h0.4v-8h0.4v-6h0.8v12h0.4v-10h0.4v4h0.8v4h0.4v-8h0.4v-4h0.4v10h0.4v-4h0.4v6h0.4v-4h0.8v-4h0.4v-2h0.4v12h0.4v-6h0.4v-4h0.4v10h0.4v4h0.4v-4h0.4v-8h0.4v4h0.8v-2h0.4v6h0.4v2h0.4v-6h0.4v4h0.4v2h0.8v8h0.4v4h0.8v10h0.4v-4h0.4v2h0.8v-4h0.4v8h0.4v2h0.4v-10h0.4v2h0.4v-4h0.4v12h0.8v-10h0.4v4h0.4v-2h0.4v2h0.8v12h0.4v-12h0.4v2h0.4v2h0.8v-12h0.4v6h0.4v6h0.4v-10h0.4v4h0.4v4h0.4v-10h0.4v4h0.4v6h0.4v-14h0.4v2h0.4v-4h0.4v-4h0.4v14h0.4v-4h0.4v-2h0.4v-6h0.4v4h0.4v-10h0.8v-4h0.4v14h0.4v-12h0.4v-4h0.4v2h0.4v-2h0.4v8h0.4v-10h0.4v-6h0.4v12h0.4v-4h0.4v-8h0.4v-2h0.4v-2h0.4v14h0.4v-4h0.4v-14h0.4v-2h0.4v4h0.4v2h0.4v4h0.4v2h0.4v2h0.4v-2h0.4v4h0.4v2h0.8v-2h0.4v6h0.4v-2h0.4v-2h0.4v-2h0.4v12h0.4v-10h0.4v10h0.8v-6h0.4v10h0.4v-2h0.4v6h0.8v-12h0.4v4h0.4v8h0.4v-2h0.4v-6h0.4v6h0.4v-2h0.8v-2h0.4v6h0.4v4h0.4v-6h0.8v8h0.4v-2h0.4v4h0.4v-2h0.4v-8h0.4v8h0.4v-8h0.8v8h0.4v-8h0.8v12h0.4v-10h0.4v6h0.8v2h0.4v4h0.4v-8h0.8v8h0.4v-6h0.8v4h0.4v2h0.4v-2h0.4v6h0.4v-8h0.4v8h0.4v2h0.4v-8h0.8v-2h0.4v-6h0.4v-2h0.4v6h0.4v-10h0.4v2h0.4v-2h0.4v6h0.4v-6h0.4v-10h0.4v6h0.4v-8h0.4v2h0.4v4h0.4v-8h0.8v8h0.4v-12h0.4v2h0.4v6h0.4v-16h0.4v4h0.4v2h0.4v-2h0.4v-4h0.4v4h0.4v-10h0.4v-4h0.8v10h0.4v-12h0.4v4h0.4v-10h0.4v10h0.4v-4h0.4v-4h0.4v2h0.4v-6h0.4v2h0.8v-14h0.8v8h0.4v-4h0.4v-4h0.4v4h0.4v4h0.4v-2h0.8v18h0.4v-6h0.4v-2h0.4v14h0.4v4h0.4v-2h0.4v8h0.4v-6h0.4v12h0.4v6h0.8v-4h0.4v4h0.4v6h0.8v10h0.4v2h0.4v-2h0.4v6h0.4v-6h0.4v4h0.4v-6h0.4v4h0.4v-4h0.4v4h0.4v-4h0.4v-6h0.4v2h0.4v2h0.4v2h0.4v-6h0.8v8h0.4v-10h0.8v2h0.4v4h0.4v-12h0.4v4h0.4v4h0.4v-6h0.4v-6h0.8v-6h0.4v6h0.8v-4h0.4v-12h0.4v8h0.4v-2h0.4v-8h0.4v-2h0.4v8h0.4v-18h0.4v6h0.4v-8h0.4v2h0.8v2h0.4v-4h0.4v-10h0.4v10h0.8v-14h0.4v2h0.4v8h0.4v-6h0.4v-6h0.4v12h0.4v4h0.4v-10h0.4v14h0.4v-4h0.4v2h0.4v-6h0.4v14h0.4v2h0.4v-14h0.4v10h0.4v-6h0.4v-2h0.4v8h0.4v6h0.4v-4h0.4v-6h0.4v14h0.4v-4h0.4v4h0.8v10h0.4v-4h0.4v6h0.4v6h0.4v-4h0.4v6h0.4v-6h0.4v2h0.4v10h0.8v6h0.4v-6h0.8v4h0.4v8h0.4v-6h0.4v-2h0.4v4h0.4v4h0.4v-12h0.4v10h0.4v-4h0.4v8h1.2v-10h0.4v6h0.4v-8h0.4v2h0.8v4h0.4v-6h0.8v4h0.8v-2h0.4v-6h0.4v-6h0.4v-6h0.4v-2h0.4v6h0.4v4h0.4v-8h0.4v-2h0.4v4h0.4v-8h0.4v-4h0.4v8h0.4v-14h0.4v6h0.4v-8h0.8v8h0.4v-6h0.4v-4h0.4v-8h0.4v10h0.4v-8h0.4v-10h0.4v8h0.4v-8h0.4v8h0.4v-6h2v8h0.4v-6h0.4v6h0.4v10h0.4v-6h0.4v-2h1.2v-2h0.4v4h0.4v8h0.4v-6h0.4v-2h0.8v6h0.4v2h0.8v10h0.4v2h0.4v-2h0.4v4h0.4v-2h0.4v8h0.4v-10h0.4v10h0.4v6h0.8v6h0.4v-12h0.4v12h0.4v4h0.4v-4h0.4v2h0.4v2h0.4v8h0.4v-14h0.4v8h0.4v-2h0.4v-4h0.4v-2h0.4v6h0.4v-14h0.4v-2h0.4v6h0.4v-8h0.4v2h0.4v-8h0.4v12h0.4v-8h0.4v-4h0.8v-4h0.4v2h0.4v-4h0.4v8h0.4v-4h0.4v-8h0.4v8h0.4v-2h0.4v-8h0.4v10h0.4v-4h0.4v2h0.4v-8h0.4v4h0.4v2h0.4v-8h0.4v4h0.4v-6h0.4v-12h0.4v10h0.8v-10h1.2v-2h0.4v4h0.8v2h0.4v-2h0.4v4h0.4v-10h0.4v10h0.4v-2h0.4v-12h0.4v2h0.4v4h0.4v6h0.8v-4h0.4v6h0.4v-4h0.4v6h0.4v2h0.4v-8h0.4v-2h0.4" fill="none" stroke="#0a86cc" stroke-width="4.0" stroke-linejoin="miter" stroke-miterlimit="2"/>
<path d="M78.8,924h0.4v-2h0.8v4h0.4v-2h0.4v6h0.4v-6h0.4v2h0.4v-2h0.4v-2h0.4v-2h0.4v6h0.4v-4h0.4v6h0.4v-2h0.8v6h0.4v-8h0.4v8h0.8v-8h0.8v-2h0.8v2h0.4v6h0.4v-6h0.8v6h0.4v-6h0.8v2h0.8v-2h0.4v4h0.4v-4h0.4v4h0.4v-4h1.6v4h0.8v-6h0.4v8h0.8v-8h0.4v4h1.2v-4h0.4v12h0.4v-8h0.4v2h0.4v-2h0.4v4h0.4v-6h0.4v4h0.4v-4h0.4v6h0.4v-6h0.4v-2h0.4v4h0.8v-4h0.4v4h0.8v-6h0.4v2h0.4v6h0.4v-4h0.4v4h0.4v-6h0.4v-2h0.4v8h0.4v-4h0.4v-6h0.4v12h0.4v-2h0.4v4h0.8v-2h0.4v-6h0.8v8h0.4v-2h0.4v2h0.4v-4h0.4v2h0.4v-10h0.4v4h0.4v2h0.4v-4h0.4v-6h0.4v12h0.4v-6h0.4v4h0.8v-2h0.4v6h0.4v-8h0.4v8h0.4v-2h0.4v-2h0.4v-2h0.4v4h0.4v-4h0.4v6h0.4v-8h0.8v2h0.4v6h0.4v-4h0.8v2h0.4v-4h0.4v2h0.4v2h0.4v-6h0.4v4h0.4v2h0.4v-2h0.4v-2h0.4v-2h0.4v10h0.8v-4h0.4v2h0.4v-8h0.4v10h0.4v-6h0.4v2h0.4v-4h0.4v2h0.4v-2h0.4v2h0.4v2h0.4v2h0.4v-6h0.4v8h0.4v2h0.4v-10h0.4v-4h0.4v6h0.4v-4h0.4v-2h1.2v6h0.4v-2h0.4v-4h0.4v8h0.4v-8h0.4v4h0.4v2h0.4v-2h0.4v2h0.4v-6h0.4v6h0.4v-6h0.8v2h0.4v4h0.4v2h0.4v-10h0.4v2h0.4v6h0.4v2h0.4v-6h0.4v2h0.4v4h0.4v-4h0.4v4h0.4v-2h0.4v6h0.4v2h0.8v-8h0.8v6h0.4v-2h0.8v-6h0.4v10h0.4v-6h0.4v-4h0.4v2h0.8v2h0.4v-2h0.4v6h1.2v6h0.4v-4h0.4v-4h0.4v10h0.8v-6h0.4v4h0.4v-6h0.4v4h0.4v-2h0.4v2h0.4v6h0.4v-8h0.4v4h0.4v2h0.4v-4h0.4v8h0.4v-6h0.4v-4h0.4v8h0.4v-4h0.4v-2h0.4v2h0.4v-2h1.2v-6h0.4v2h0.4v4h0.4v6h0.4v-8h0.8v2h0.8v6h0.4v-2h0.4v-2h0.4v-6h0.4v4h0.4v4h0.4v-2h0.4v-4h0.4v10h0.4v2h0.4v-2h0.4v-2h0.4v-4h0.4v2h0.4v2h0.4v2h0.8v-4h0.4v4h0.4v4h0.4v-6h0.4v-2h0.4v4h0.8v4h0.4v-6h0.4v6h0.8v-6h0.4v8h0.4v-4h0.4v4h0.8v-4h0.4v4h0.4v-4h0.8v2h0.4v-2h0.8v6h0.8v-8h0.4v8h0.4v2h0.4v-2h0.4v-8h0.4v-4h0.4v8h0.4v6h0.8v-10h0.4v10h0.4v-2h0.8v-4h0.4v4h0.4v4h0.4v-4h0.4v4h0.4v-2h0.4v-4h0.4v-4h0.4v4h0.8v4h0.4v-2h0.4v8h0.4v-12h1.2v2h0.4v4h0.4v-4h0.4v4h0.4v4h0.4v-4h0.4v-4h0.4v6h0.4v2h0.4v-4h0.4v2h0.4v2h0.4v-4h0.4v4h0.4v-4h0.4v4h0.4v-6h0.4v2h0.4v8h0.4v-8h0.4v4h0.4v-8h0.4v6h0.4v-6h0.4v6h0.4v4h0.4v-8h0.8v8h0.4v-6h0.4v2h0.4v2h0.8v2h0.8v-8h0.8v8h0.4v-4h0.4v4h0.4v-4h0.4v4h1.2v2h0.4v-4h0.4v4h0.4v6h0.4v-10h0.4v8h0.4v-2h0.4v-2h0.4v6h0.4v-4h0.4v2h0.4v-4h0.4v8h0.8v-4h0.4v2h0.4v-2h0.4v4h1.2v-6h0.4v8h0.4v-12h0.4v12h0.4v-8h0.4v2h0.4v4h0.4v-2h0.4v-4h0.4v6h0.8v-2h0.4v2h0.4v2h0.4v-10h0.4v6h0.4v4h0.4v-6h0.4v-4h0.4v2h0.8v4h0.8v-2h0.4v-4h0.4v6h0.4v-10h0.4v2h0.4v-2h0.8v-6h0.4v2h0.4v-4h0.4v-2h0.4v8h0.4v-2h0.4v-6h0.4v2h0.4v-6h0.4v6h0.4v-4h0.4v-4h0.4v-2h0.4v2h0.4v2h0.8v-8h0.4v10h0.4v-6h0.4v4h0.4v-12h0.4v10h0.4v-4h0.4v-4h0.4v-8h0.4v2h0.4v8h0.4v-4h0.4v-4h0.8v4h0.4v-4h0.4v-4h0.4v6h0.4v-2h0.4v8h0.4v-14h0.4v6h0.4v2h0.4v-4h0.4v6h0.4v-2h0.4v-4h0.4v-6h0.4v-2h0.4v4h0.4v4h0.4v4h0.4v-4h0.8v-4h0.4v4h0.4v-8h0.4v10h0.4v-2h0.4v-2h0.4v-6h0.8v6h0.4v-6h0.4v4h0.4v2h0.4v-4h0.4v-4h0.4v6h0.4v-2h1.6v-4h0.4v2h0.4v-2h0.4v4h0.4v-8h0.4v-2h0.4v8h0.8v-2h0.4v-6h0.4v4h0.4v2h0.4v-8h0.8v10h0.4v-6h0.4v-4h0.4v2h0.4v6h0.8v-6h0.4v6h0.4v-6h0.4v-2h0.4v4h0.4v-2h0.4v4h0.4v2h0.8v2h0.4v-4h0.4v-2h0.8v2h0.4v2h0.4v-6h0.4v-4h0.4v10h0.4v-10h0.4v4h0.8v-4h0.4v6h0.4v-4h0.4v-4h0.4v8h0.4v-2h0.4v-4h0.4v6h0.4v-8h0.4v4h0.4v2h0.4v4h0.8v-2h0.8v-8h1.2v6h0.4v-6h0.4v4h0.4v-2h0.4v6h0.8v-4h0.8v8h0.4v-6h0.4v-2h0.4v6h0.4v-2h0.4v-2h0.4v-4h0.4v2h0.4v6h0.4v-6h0.4v-2h0.4v2h0.4v6h0.4v2h1.2v2h0.4v2h0.4v-8h0.4v-2h0.4v-4h0.4v8h0.4v-8h0.4v2h0.4v4h0.4v-2h0.4v-4h0.4v6h0.4v8h0.4v-2h0.4v2h0.4v-6h0.4v8h0.4v-6h0.4v2h0.4v4h0.4v-2h0.4v-2h0.4v-6h0.8v8h0.4v-6h0.4v4h0.4v2h0.4v-4h0.4v4h0.4v-6h0.4v6h0.4v2h0.4v2h0.4v-2h0.8v4h0.4v-6h0.4v10h0.4v-8h0.4v-2h0.4v10h0.4v-2h0.4v2h0.4v-8h0.4v8h0.4v-2h0.4v-2h0.4v8h0.4v4h0.4v2h0.4v-4h0.4v6h0.8v-6h0.4v4h0.4v-4h0.4v-4h0.4v6h0.8v4h0.4v2h0.4v-8h0.4v4h0.8v12h0.4v-6h0.4v8h0.4v-6h0.4v8h0.4v-2h0.4v4h0.4v2h0.4v2h0.4v-8h0.4v8h0.8v-2h0.8v4h0.4v2h0.4v-6h0.4v4h0.4v-2h0.4v4h0.4v-2h0.4v-6h0.4v6h0.4v-6h0.4v-4h0.4v2h0.4v-2h0.4v10h0.4v-8h0.4v-2h0.4v2h0.4v-2h0.4v-2h0.4v-2h0.4v8h0.4v-10h0.4v-4h0.4v-2h0.8v4h0.4v-8h0.4v4h0.4v-2h0.4v-8h0.4v-2h0.4v6h0.4v-6h0.4v2h0.4v-2h0.4v-12h0.4v6h0.4v-6h0.4v6h0.4v-10h0.4v6h0.4v-6h0.4v-4h0.4v-4h0.8v-2h0.4v2h0.4v-6h0.4v-2h0.4v6h0.4v-6h0.4v-4h0.8v8h0.4v-6h0.8v4h0.4v-4h0.4v-4h0.4v4h0.4v-2h0.8v2h0.4v-2h0.4v-4h0.4v6h0.4v-4h0.4v6h0.4v-2h0.4v-8h0.4v10h0.4v-6h0.4v-2h0.4v8h0.4v-4h0.8v4h0.4v4h0.4v-8h0.4v6h0.4v6h0.4v-4h0.4v-6h0.4v-2h0.4v6h0.8v-2h0.4v4h0.4v-4h0.4v8h0.4v-4h0.8v2h0.4v8h0.4v-6h0.4v2h0.8v2h0.4v-2h0.4v2h0.4v6h0.8v-4h0.4v10h0.4v-6h0.4v2h0.4v2h0.4v4h0.4v-2h0.4v2h0.4v-4h0.8v6h1.2v-2h0.4v4h0.4v-2h0.4v8h0.4v-4h0.4v4h0.8v-2h0.4v10h0.4v-6h0.4v6h0.4v4h0.4v-6h0.4v4h0.4v-2h0.4v4h0.4v4h1.2v6h0.4v4h0.4v-4h0.8v-2h0.4v-2h0.4v10h0.4v-4h0.4v-10h0.8v6h0.4v-4h0.4v-4h0.4v6h0.4v-6h0.4v-2h0.4v4h0.4v-2h0.4v-4h0.4v-8h0.4v4h0.4v2h0.4v-4h0.4v-6h0.4v4h1.2v-6h0.4v2h0.4v-6h0.4v-2h0.4v-2h0.4v-2h0.4v2h0.4v-2h0.4v-4h0.4v4h0.4v-4h0.8v-4h0.8v-10h0.4v2h0.4v-4h0.4v-2h0.4v4h0.4v-6h0.8v-6h0.4v6h0.4v-8h0.4v2h0.4v-2h0.4v4h0.4v-6h0.4v2h0.4v-4h0.4v2h0.4v2h0.4v-6h1.2v-4h0.4v6h0.4v-4h0.4v2h0.4v-8h0.4v4h0.4v-2h0.4v-2h0.4v8h0.4v-2h1.2v-2h0.4v2h0.4v-2h0.4v6h0.4v2h0.8v4h0.4v-4h0.4v8h0.8v-2h0.4v6h0.4v4h0.4v4h0.4v-2h0.4v4h0.8v6h0.4v4h0.4v6h0.4v-6h0.4v4h0.4v10h0.4v-6h0.8v2h0.4v8h0.4v2h0.4v6h0.4v-6h0.4v6h0.4v-4h0.4v10h0.4v-2h0.4v-2h0.8v12h0.4v-10h0.4v6h0.4v-10h0.4v2h0.4v2h0.4v-8h0.4v4h0.4v4h0.4v-4h0.4v-6h1.2v-6h0.4v4h0.4v4h0.4v-12h0.4v8h0.4v-2h0.4v-2h0.4v-4h0.4v4h0.4v-8h0.4v-2h0.4v4h0.4v-4h0.4v-2h0.4v4h0.4v-10h0.4v2h0.4v2h0.4v2h0.4v-8h0.4v-6h0.4v2h0.4v6h0.4v-10h0.4v6h0.4v-4h0.4v2h0.4" fill="none" stroke="#14a8a2" stroke-width="4.0" stroke-linejoin="miter" stroke-miterlimit="2"/>
<path d="M78.8,1026h0.4v6h0.4v-8h0.4v4h0.4v-6h0.4v4h0.4v-4h0.4v4h0.4v-8h0.4v8h0.4v-2h0.4v2h0.4v-6h0.4v6h0.8v-6h0.4v12h0.4v-8h0.4v2h0.8v2h0.8v-4h0.4v6h0.4v-6h0.4v4h0.4v-4h0.4v2h0.4v-2h0.4v6h0.4v-4h0.8v4h0.4v-2h0.4v-4h0.4v2h0.8v-2h0.4v-2h0.4v2h0.4v-6h0.4v4h0.4v-2h0.8v6h0.4v-4h0.4v2h1.2v-2h0.4v2h0.4v-6h0.8v4h0.4v-4h1.6v4h0.4v-4h0.4v4h0.4v-6h0.4v6h0.4v4h0.4v-4h0.4v4h1.2v2h0.4v-4h0.4v-2h0.4v-2h0.4v2h0.4v4h0.4v-2h0.4v2h0.8v-2h0.8v-2h0.4v4h0.8v-4h0.8v6h0.4v-8h0.4v8h0.4v-2h0.8v-2h0.8v-2h0.8v4h0.4v-4h0.4v4h0.4v-4h0.4v2h0.4v4h0.4v-2h0.4v-4h0.4v2h0.8v4h0.4v-2h0.4v2h0.4v-4h0.8v-2h1.2v4h1.2v-6h0.4v6h0.4v-4h0.4v-4h0.4v4h0.4v-4h0.4v4h0.4v2h0.4v-4h0.8v-2h0.4v4h0.8v2h0.4v-6h0.8v6h0.4v-8h0.4v2h0.4v2h0.4v4h0.4v-4h0.4v4h0.8v-4h0.8v-4h0.4v6h0.8v-4h0.4v-2h0.8v6h0.4v-2h0.8v-4h0.4v6h0.4v-4h0.4v2h0.4v6h0.4v-2h0.4v-2h0.4v2h0.8v2h0.4v-2h0.4v-4h0.4v2h0.8v2h0.4v6h0.4v-4h0.4v-4h0.8v6h0.4v-2h0.4v-2h0.8v2h0.4v4h0.4v-2h0.4v-4h0.4v4h0.8v2h0.4v-4h0.4v2h0.4v4h0.8v-2h0.4v-2h0.4v-2h0.8v2h1.2v4h0.4v-4h0.4v2h0.4v-4h0.4v2h0.4v4h0.4v-6h1.2v-4h0.4v2h1.2v2h0.4v4h0.4v2h0.4v-2h0.4v-4h0.4v6h0.8v2h0.4v-2h0.4v-6h0.4v10h0.4v-2h0.4v-2h0.4v4h0.4v-4h0.4v-2h0.4v6h0.4v2h0.4v-2h0.4v4h0.4v-6h0.4v2h0.8v8h0.4v-6h0.8v4h0.8v-6h0.4v10h0.4v-2h0.4v-4h0.4v4h0.4v4h0.4v-4h0.4v2h0.4v-6h0.4v8h0.8v-2h0.4v-2h0.4v-4h0.4v4h0.4v-2h0.4v2h0.4v4h0.4v-4h0.4v4h1.2v-2h0.4v-2h0.4v6h0.4v-8h0.4v2h0.4v2h0.4v-2h0.4v-2h0.8v2h0.4v-2h0.4v-2h0.4v-2h0.4v-2h0.4v6h0.4v-2h1.2v-6h0.8v4h0.4v2h0.8v-4h0.4v-4h0.4v4h1.2v2h0.4v-2h0.4v-2h0.4v2h0.4v-4h0.8v2h0.4v-2h0.4v4h0.4v-4h0.4v2h0.4v-4h0.4v6h0.8v2h0.4v2h0.4v-2h0.8v-4h0.4v2h0.4v4h0.4v-2h0.4v-2h0.4v-2h0.4v2h0.8v2h0.4v-2h0.8v2h0.4v-2h0.8v-6h0.4v2h0.4v4h1.2v-6h0.4v6h0.4v-2h0.4v2h0.4v-2h0.8v-2h1.2v6h0.4v-4h0.4v-2h0.4v6h0.8v-2h0.4v-2h0.8v4h0.4v-4h0.4v6h0.4v-6h0.4v4h0.4v-2h1.2v-2h0.4v4h0.4v2h0.4v-4h0.4v-2h0.4v2h0.4v4h0.4v-4h0.8v2h0.4v-4h0.4v2h1.2v-2h0.4v6h0.4v-6h0.4v6h0.4v-2h0.4v4h0.4v-6h0.4v2h0.4v2h0.8v8h0.4v-4h0.8v-2h0.8v2h0.4v4h0.8v2h0.8v-4h0.4v-2h0.4v6h0.4v-4h0.4v2h0.4v-4h0.4v6h0.8v-2h0.4v2h1.6v2h0.4v-4h0.4v2h0.4v-2h0.4v2h0.8v2h0.4v-2h0.4v-4h0.4v-2h0.4v-4h0.4v10h0.4v-6h0.4v8h0.4v-4h0.4v-2h0.4v4h0.4v-2h0.4v2h0.4v-4h0.4v6h0.4v-4h0.8v2h0.4v4h0.4v2h0.8v-4h0.8v4h0.4v-4h0.8v6h0.4v-2h0.4v-2h0.4v-2h0.4v4h0.4v-2h0.8v2h0.4v-4h0.4v2h0.4v2h0.4v-2h0.8v2h0.4v-6h0.4v6h1.6v-8h0.4v2h0.4v-2h1.6v8h0.4v-4h0.4v-6h0.8v-2h0.8v4h0.4v-2h0.4v-2h0.4v2h0.4v-2h0.4v2h0.4v-4h0.4v-2h0.4v-4h0.4v4h0.4v2h0.4v-6h0.4v2h0.4v4h0.4v-6h0.4v2h0.8v2h0.4v4h0.4v-6h0.4v-4h0.4v4h0.4v-2h0.4v-4h0.4v-4h0.4v4h0.4v-2h0.4v2h0.4v-2h0.4v-4h0.4v4h0.4v-4h0.8v4h0.4v2h0.4v-2h0.4v2h0.4v-8h0.8v2h0.4v-2h1.6v2h0.4v-2h0.8v-8h0.4v6h0.8v-2h0.8v-2h0.4v-2h0.8v-2h0.4v8h0.8v-8h0.4v6h0.4v-2h0.4v-4h0.4v4h0.4v-2h0.4v-2h0.8v4h0.4v-4h0.8v6h0.4v-6h0.4v-2h0.4v2h0.4v4h0.4v-2h0.4v2h0.8v2h0.4v-6h0.4v-2h0.4v6h0.8v-4h0.4v-6h0.4v4h0.4v6h0.4v-4h0.8v-6h0.4v-2h0.4v2h0.4v4h0.8v-4h0.4v-2h0.4v4h0.8v2h0.4v-2h0.4v-4h0.4v2h0.4v2h0.4v-4h0.4v6h0.4v-6h0.4v-2h0.4v2h0.4v6h0.4v-2h0.4v-2h1.2v2h0.4v2h0.4v-2h0.4v-4h0.4v6h1.6v-8h0.4v6h0.4v-2h0.4v4h0.4v-2h0.4v-2h0.4v2h0.8v-2h0.4v-4h0.4v4h0.4v-6h0.4v-4h0.4v2h0.4v-2h0.4v-2h0.4v8h0.4v-2h1.6v-8h0.4v4h0.4v-2h0.4v2h0.4v2h0.4v-2h0.4v6h0.4v-6h0.8v10h0.4v-4h0.8v2h0.4v2h0.4v2h0.4v4h0.4v-8h0.4v6h0.4v-4h1.2v6h0.4v-6h0.4v-2h0.4v-2h0.4v10h0.4v-2h0.8v-2h0.4v-2h0.4v4h0.4v2h0.4v2h0.4v-4h0.4v6h1.2v2h0.8v4h0.4v-4h0.4v4h0.8v4h0.4v-6h0.4v2h0.4v2h0.4v8h0.4v-6h0.4v6h0.4v-2h0.4v-2h0.4v6h0.4v-2h0.8v4h0.4v-2h0.4v6h1.2v-2h0.4v2h0.4v-2h0.4v2h1.6v6h0.4v2h0.4v-6h1.2v4h0.4v-2h0.4v6h0.4v-4h0.8v6h0.4v-2h0.4v2h0.4v4h0.4v-4h0.8v2h0.4v-2h0.4v2h0.4v2h0.4v-4h0.8v8h0.4v-2h0.4v-4h0.4v8h0.4v2h0.4v-6h0.8v2h0.4v-6h0.4v2h0.4v-2h0.8v-2h0.4v-4h1.2v-6h0.4v-2h0.4v2h0.4v-2h0.8v2h0.4v-8h0.4v4h0.8v-2h0.4v2h0.4v-6h1.2v2h0.4v-6h0.4v-2h0.4v6h0.4v-4h1.2v-6h0.8v4h0.4v-6h0.4v4h0.4v2h0.4v-4h0.4v2h0.4v-4h0.4v4h0.4v-4h0.4v-6h0.8v-6h0.8v-4h0.4v2h0.4v2h0.4v-2h0.4v2h0.4v-2h0.4v-4h0.8v2h0.4v2h0.8v2h0.4v-4h0.4v4h0.4v-6h1.6v2h0.4v4h0.4v4h0.8v-2h0.4v-4h0.4v6h0.8v2h0.4v-2h1.2v2h0.4v-2h0.4v8h0.4v-8h0.4v8h0.4v-2h0.8v2h0.8v4h0.4v-2h1.2v2h0.4v2h0.4v-4h0.4v2h1.2v4h0.8v4h0.8v2h0.8v4h0.4v-8h0.4v4h0.8v6h0.4v-6h0.4v2h0.4v4h0.4v-2h0.4v-2h0.8v4h0.8v2h0.4v-2h0.4v6h0.4v-6h0.4v2h0.4v6h0.4v-4h0.4v2h0.4v-2h0.4v2h0.8v-4h0.4v4h0.8v4h1.2v-2h0.4v4h0.4v-2h0.8v-2h0.4v-2h0.4v4h0.8v2h0.4v2h0.4v-4h0.4v-2h0.4v2h0.4v-2h0.8v-4h0.4v-4h0.8v2h0.4v-4h0.4v-4h0.4v6h0.4v-4h0.4v-6h0.4v-2h0.4v2h0.4v-4h1.2v-6h0.8v-4h0.4v2h0.4v-4h0.8v-6h0.4v8h0.4v-4h0.4v2h0.4v-6h0.4v-4h0.4v6h0.4v-2h0.4v-2h0.8v-2h0.4v4h0.4v-2h0.4v-4h0.4v2h0.4v-4h0.4v2h0.4v8h0.4v-4h0.8v6h0.4v-4h0.4v-4h0.4v6h0.8v-2h0.4v4h0.4v-2h0.4v4h0.4v4h0.4v-6h0.4v6h0.4v2h0.8v-2h0.8v2h0.4v-2h0.8v12h0.4v-8h0.8v4h0.4v-2h0.4v6h1.2v-2h0.4v4h0.4v4h0.4v-2h0.8v-2h0.8v2h0.4v2h0.4v-4h0.4v4h0.4v-2h0.4v4h0.4v4h0.4v-2h0.4v2h0.8v6h0.8v-6h0.4v2h0.4v2h0.4v6h0.4v-4h1.2v8h0.4v-4h0.4v2h0.8v4h0.4v-4h0.4v-6h0.4v-2h0.4v-2h0.4v4h0.4v-4h1.2v-8h1.6v-4h0.4v-2h0.4v-4h0.4v2h0.4v-4h0.4v4h0.4v-4h0.4v-4h0.4v-6h0.4v-4h0.4v6h0.4v-4h0.4v-2h0.4v-4h0.4v-4h0.4v-2h0.8v4h0.4v-2h0.4v-4h0.4v-6h0.4v2h0.4v-4h0.4v2h0.4v-2h0.4v2h0.4v-2h0.4v8h0.8v-6h0.4v2h0.4v-2h0.4v8h0.4v-2h0.8v-8h0.4v10h0.4v-6h0.4v2h0.4v2h0.4v4h0.8v4h0.4v-4h0.4v6h0.8v6h0.8v-4h0.4v10h0.4v-4h0.4v-2h0.8v4h0.4v-2h0.4v2h0.4v2h0.4v2h0.4v-4h0.4v6h0.8v2h0.4v4h0.4v-2h0.4v2h0.8v2h0.4v4h0.8v-6h0.4v4h0.4v6h0.4v-6h0.4v4h1.2v2h0.4v-2h0.4v-2h0.4v2h0.8v-4h0.4v2h0.4v-4h0.4v2h0.8v-2h0.4v4h2v-2h0.4v2h0.4v-4h0.4v-2h0.8v-4h0.4v4h0.4v-4h0.4v-4h0.4v-2h0.4v4h0.4v4h0.4v-6h0.4v-8h0.4v10h0.4v-8h0.8v-2h0.4v-2h0.4v-2h0.4v4h0.8v-8h0.4v2h0.4v2h0.4v-6h0.4v-2h0.4v6h0.4v-2h0.4v-8h0.4v4h0.4v-2h0.8v-6h0.8v4h0.4v-4h0.4v-2h0.4v2h0.4v2h0.4v-6h0.4v-4h0.4v8h0.4v-4h0.4v2h0.4v2h0.4v2h0.4v6h0.8v2h0.4v4h0.8v-4h0.4v2h0.4v-2h0.4v8h0.4v-8h0.4v10h0.4v-4h0.4v6h0.4v-6h0.4v6h0.4v2h0.4v-4h0.8v4h0.4v2h0.4v-6h0.4v6h0.4v-2h0.4v4h0.4v-4h0.4v6h0.4v-2h0.8v-2h0.8v-2h0.4v2h0.4v-2h0.4v4h0.4v-6h0.4v-2h0.4v4h0.4v2h0.4v-2h0.4v-2h0.4v-4h0.4v-2h0.4v4h0.4v2h0.4v-6h0.4v4h1.2v-2h1.2v-2h0.8v4h0.4v2h0.4v-10h0.4v2h0.8v-4h0.8v4h0.4v-2h0.4v4h0.4v-6h0.8v-2h0.4v2h0.4v2h0.4v-2h0.8v-6h1.6v-2h0.4v-2h0.4v4h0.4v4h0.4v-6h0.4v-4h0.8v-2h0.4v-2h0.4v4h0.4v-2h0.4v6h0.4v-6h0.4v-4h0.8v2h0.4v-2h0.4v-8h0.4v6h0.4v-4h0.8v2h0.4v6h0.4v-4h0.4v4h0.4v8h0.4v-6h0.4v6h0.4v-4h0.4v4h0.4v4h0.4v-4h0.4v6h0.8v2h0.4v-2h0.4v-2h0.4v2h0.4v2h0.8v4h0.8v-2h0.4v2h0.4v4h0.4v-2h0.4v2h0.4v2h0.4v-2h0.4v2h0.8v-2h0.8v4h0.4v2h0.4v2h0.4v-2h0.4v-2h0.4v2h0.4v-2h0.4v2h0.4v-4h0.8v4h1.2v-6h0.8v-2h1.2v6h0.4v-4h0.4v-4h0.4v2h0.4v2h0.4v2h0.4v4h0.4v-2h0.4v-2h0.4v4h0.4v-4h0.4v2h0.4v2h0.4v-4h0.4v-4h0.4v4h0.4v-2h0.8v-6h0.8v-2h0.4v6h0.4v-8h0.4v8h0.4v-2h0.4v-8h0.8v4h0.4v4h0.4v-6h0.4v-2h0.4v-2h0.4v2h0.4v-4h0.4v-2h0.4v-4h0.4v2h0.4v-2h0.4v6h0.4v-4h0.8v-4h0.4v2h0.8v-4h0.4v-2h0.4v-2h0.4v-6h0.4v6h0.4v-2h0.4v-2h0.4v-2h0.4v2h0.4v2h0.4v2h0.8v2h0.4v6h0.4v-4h0.4v2h0.4v2h0.4v6h0.4v-2h0.4v6h0.4v-4h0.4v2h0.4v2h0.8v6h0.4v-6h0.4v2h0.4v2h0.4v8h0.4v-4h0.4v-4h0.4v4h0.8v2h0.8v2h0.8v4h0.4v-4h0.4v8h0.4v-2h0.8v2h0.4v-2h0.4v-2h0.4v2h0.4v2h0.4v-2h0.4v-2h0.4v2h0.4v-2h0.4v-2h0.4v2h0.4v4h0.4v-4h0.4v2h0.4v-2h0.4v2h0.4v4h0.4v2h0.4v2h0.8v-2h0.4v-2h0.4v6h0.8v-4h0.4v-4h0.4v2h0.4v-2h0.4v-4h0.8v2h0.4v-2h0.4v-2h0.4v-4h0.4v2h0.4v-4h0.4v2h0.4v-2h0.4v-8h0.4v4h0.4v-6h0.4v2h0.4v-2h0.4v-6h0.4v-2h0.4v-8h0.4v-6h0.8v4h0.4v-4h0.4v-6h0.4v-2h0.4v-8h0.4v-6h0.4v4h0.4v2h0.8v2h0.4v2h0.4v-4h0.4v6h0.4v-2h0.4v4h0.4v2h0.4v-2h0.4v6h0.8v4h0.4v4h0.4v8h0.4v4h0.4v8h0.4v2h0.4v6h0.4v6h0.4v4h0.4v6h0.4v-8h0.8v4h0.4v2h0.8v2h0.4v2h0.4v-8h0.4v2h0.4v6h0.4" fill="none" stroke="#fba80f" stroke-width="4.0" stroke-linejoin="miter" stroke-miterlimit="2"/>
<path d="M78.8,1142h0.4v-8h0.4v4h0.4v-2h0.4v-4h0.4v4h0.4v-4h0.4v2h0.8v-2h0.8v2h0.4v-6h0.4v10h0.4v2h0.4v-4h0.4v-2h0.4v-4h0.4v8h0.4v-4h0.4v2h0.4v-2h0.4v6h0.4v-4h0.4v-6h0.4v-2h0.8v8h0.4v-6h0.8v6h0.4v-10h0.4v6h0.4v-2h0.4v-2h0.4v4h0.4v2h0.4v-8h0.8v4h0.4v2h0.4v2h0.4v2h0.4v-2h0.4v-2h0.4v-2h0.4v2h0.4v-2h0.4v8h0.4v-10h0.4v6h0.4v-6h0.4v2h0.4v2h0.4v6h0.8v-2h0.4v-2h0.4v2h0.4v-6h0.4v6h0.4v2h0.4v-2h0.4v-2h0.4v-2h0.4v2h0.8v2h0.4v4h0.4v-6h0.4v2h0.4v2h0.4v-8h0.4v4h0.8v4h0.4v-2h0.4v-6h0.4v2h0.4v-2h0.4v6h1.2v2h0.8v-4h0.4v4h0.4v-2h0.4v6h0.4v-10h0.4v2h0.4v4h0.4v-4h0.4v4h0.4v-8h0.4v12h0.4v-4h0.4v-6h0.4v4h0.4v2h0.4v2h0.4v-4h0.4v4h0.8v-2h0.4v-4h0.4v-4h0.4v2h0.4v6h0.4v-4h0.4v2h0.4v-4h0.4v6h0.4v-8h0.4v10h0.4v-4h0.4v-4h0.4v8h0.4v-4h0.8v8h0.4v-4h0.4v2h0.4v-2h0.4v-6h0.4v2h0.4v-2h0.4v8h0.4v-2h0.4v4h0.4v-4h0.4v-2h0.8v-4h0.8v4h0.4v-2h0.8v-4h0.4v4h0.8v4h1.2v-2h0.4v-2h0.4v6h0.4v-2h1.2v4h0.4v-6h0.4v-2h0.4v-2h0.4v4h0.4v-2h0.4v6h0.4v-6h0.4v2h0.4v4h1.2v2h0.4v2h0.4v-8h0.4v6h0.4v-10h0.4v2h0.4v-2h0.8v-4h0.4v8h0.4v-6h0.4v4h0.4v-6h0.4v4h0.4v2h0.4v2h0.4v-4h0.4v-2h0.4v8h0.4v-6h0.4v6h0.8v2h0.4v-10h0.4v6h0.4v2h0.4v-6h0.4v6h0.4v2h0.8v2h0.4v-2h0.4v-6h0.4v4h0.4v-2h0.4v2h0.4v2h0.8v2h0.4v-8h0.4v6h0.4v-2h0.4v2h0.4v-6h0.4v6h0.4v2h0.4v-6h0.4v6h0.4v-2h0.4v-4h0.4v2h0.4v4h0.4v-8h0.4v4h0.4v2h0.8v-4h0.8v8h2v-4h0.4v4h0.8v-2h0.4v-4h0.4v6h0.4v-2h0.8v-4h0.4v4h0.4v-4h0.4v6h0.4v-6h0.4v6h0.4v-10h0.4v8h0.4v-6h0.4v-2h0.4v2h0.4v6h0.8v-8h0.4v4h0.4v-2h0.4v6h0.4v-2h0.4v2h0.4v-2h0.8v4h0.4v-8h0.8v2h0.4v4h0.4v-6h0.4v6h0.4v-4h0.4v-2h0.4v8h0.4v-8h0.8v6h0.8v-2h0.4v-2h0.4v6h0.4v-8h0.4v6h0.4v-4h0.4v2h1.2v-2h0.4v6h0.4v-2h0.4v4h0.4v-2h0.4v-2h0.8v2h0.4v-6h0.4v-2h0.4v6h0.4v-4h0.4v2h0.4v-2h0.4v-2h0.4v6h0.4v2h0.4v-8h0.4v2h0.4v6h0.4v-4h0.8v2h0.4v-6h0.8v6h0.4v-4h0.8v-2h0.4v2h0.4v6h0.4v-4h0.4v-2h0.4v2h0.4v-2h0.4v8h0.4v-6h0.4v2h0.8v-4h0.4v8h0.4v-2h0.4v6h0.4v-10h0.4v4h0.8v2h0.4v6h0.8v-4h0.4v2h0.4v-4h0.4v6h0.4v-2h0.4v-2h0.4v4h0.4v2h0.4v-6h0.4v2h0.4v4h0.4v-6h0.4v-2h0.4v4h0.4v2h0.4v-4h0.8v-2h0.4v2h0.4v-2h0.8v4h0.4v6h0.4v-4h0.4v4h0.4v-4h0.4v2h0.4v-2h0.4v4h0.8v-6h0.4v4h0.4v2h0.4v-2h0.4v-4h0.8v8h0.4v-2h0.4v4h0.4v-6h0.4v4h0.4v-6h0.4v8h0.4v-2h0.4v4h0.4v-6h0.8v-4h0.4v8h0.4v-6h0.4v2h0.4v6h0.4v-8h0.4v8h0.4v-2h0.4v-10h0.4v10h0.8v4h0.8v-8h0.4v10h0.4v-10h0.4v4h0.4v-8h0.4v10h0.4v-6h0.4v-4h0.4v8h0.4v-6h0.4v4h0.4v2h0.4v-6h0.4v2h0.4v-2h0.4v8h0.4v-4h0.4v-8h0.4v6h0.4v2h0.4v-6h0.8v4h0.4v2h0.4v-4h0.4v-4h0.4v6h0.4v-6h0.4v2h0.4v4h0.4v-8h0.4v4h0.4v-4h0.4v4h0.4v-2h0.8v-8h0.4v4h0.4v-6h0.4v4h0.4v-6h0.4v6h0.8v-2h0.4v-2h0.4v4h0.4v-2h0.4v4h0.4v-8h0.4v2h0.8v-6h0.4v10h0.4v-6h0.4v-6h0.4v-2h0.4v4h0.4v2h0.4v-8h0.4v6h0.4v-2h0.4v4h0.4v-10h0.4v6h0.4v-6h0.4v6h0.4v-6h0.4v8h0.8v-6h0.4v4h0.4v4h0.4v-2h0.4v-4h0.4v-4h0.4v2h0.4v6h0.4v2h0.4v-8h0.4v4h0.4v-2h0.4v4h0.4v-8h0.4v-2h0.4v6h0.4v-6h0.4v6h0.4v2h0.4v-4h0.4v2h0.4v-4h0.4v2h0.8v-14h1.2v6h0.4v2h0.4v-2h0.4v-8h0.4v8h0.4v-2h0.4v-8h0.8v-2h0.4v6h0.4v2h0.4v-4h0.4v6h0.4v-6h0.4v4h0.8v-4h0.4v6h0.4v-8h0.4v6h0.4v-6h0.8v-2h0.4v4h0.8v-6h0.4v4h0.4v2h0.4v-8h0.4v4h0.4v-6h0.4v8h0.4v-8h0.4v2h0.4v-2h0.8v6h0.4v-6h0.8v6h0.4v-4h0.4v2h0.8v-6h0.4v6h0.4v-6h0.4v6h0.8v4h0.4v-2h0.4v2h0.4v2h0.4v-6h0.4v4h0.8v-2h0.4v4h0.8v-4h0.4v8h0.4v-10h0.4v4h0.4v-12h0.4v8h0.4v-6h0.4v6h0.4v-8h0.4v6h0.4v-6h0.4v4h0.4v2h0.4v4h0.8v-2h0.8v4h0.4v-2h0.8v-4h0.4v8h0.4v-4h0.4v-2h0.8v2h0.4v4h0.4v2h0.4v-4h0.4v6h0.4v-10h0.4v6h0.4v-4h0.4v2h0.4v-4h0.4v12h0.4v-6h0.4v4h0.4v-4h0.4v2h0.4v6h0.4v-4h1.2v8h0.4v-4h0.4v2h0.4v-4h0.4v2h0.4v-2h0.4v8h0.4v-8h0.4v6h0.4v-4h0.4v2h0.4v4h0.4v4h1.6v2h0.4v-2h0.8v4h0.4v-4h0.4v-2h0.4v8h0.8v-2h0.4v-6h0.4v8h0.8v4h0.4v-8h0.4v6h0.4v-4h0.4v4h0.4v-2h0.4v2h0.8v4h0.4v-2h0.4v2h0.4v-2h0.4v6h0.4v-8h0.4v6h0.4v-6h0.4v2h0.4v4h0.4v-2h0.8v2h0.4v-2h0.4v4h0.4v8h0.4v-8h0.8v6h0.8v-4h0.4v6h1.2v2h0.4v-6h0.4v2h0.4v4h0.4v-6h0.4v-2h0.4v6h0.4v-6h0.8v6h0.4v-2h0.4v-4h0.4v10h0.4v-8h0.4v4h0.4v-6h0.4v8h0.4v4h0.4v-6h0.4v-2h0.8v2h0.4v-4h0.4v-2h0.4v2h0.8v-2h0.4v-2h0.8v4h0.4v-4h0.4v-2h0.4v-2h0.4v-2h0.8v4h0.4v2h0.4v-6h0.4v-4h0.4v4h0.4v-2h0.4v-4h1.2v8h0.8v-6h0.4v-4h0.4v8h0.4v-8h0.4v2h0.4v2h0.4v-2h0.4v-6h0.4v4h0.8v2h0.4v-4h0.8v-4h0.4v4h0.4v-4h0.8v-6h0.4v10h0.4v-8h0.4v4h0.4v-2h0.4v-8h0.4v8h0.4v-10h0.4v4h0.4v-2h0.4v2h0.4v-2h0.4v6h0.4v-6h0.4v4h0.4v-2h0.4v-4h0.8v-2h0.4v2h0.4v-8h0.4v4h0.4v-2h0.8v-2h0.4v2h0.4v4h0.4v-2h0.4v-8h0.4v2h0.4v8h0.4v-8h0.4v2h0.4v4h0.4v2h0.8v-2h0.4v2h1.2v6h0.4v-4h0.4v6h0.4v-2h0.4v-6h0.8v8h0.4v4h0.4v-8h0.4v4h0.4v-2h0.4v6h0.4v2h0.4v2h0.4v2h0.4v-6h0.4v4h0.8v4h0.4v-2h0.4v4h0.4v-2h0.8v-2h0.4v12h0.4v2h0.4v-2h0.4v6h0.4v8h0.4v-6h0.8v-4h0.4v-2h0.4v6h0.4v2h0.4v-2h0.4v-4h0.4v6h0.4v-2h0.4v-4h0.4v6h0.4v-2h0.4v2h0.8v-2h0.4v2h0.4v-4h0.4v6h0.4v-6h0.8v6h0.4v2h0.4v-8h0.4v10h0.4v-8h0.4v10h0.4v-4h0.4v-4h0.4v4h0.4v2h0.4v-6h0.4v8h0.4v-6h1.6v-6h0.4v2h0.4v4h0.4v-4h0.4v6h0.4v-2h0.4v-6h0.8v2h0.4v-4h0.4v2h0.4v-2h0.4v-2h0.4v2h0.4v-2h0.4v-4h0.4v6h0.4v-4h0.4v2h0.4v-2h0.8v-2h0.4v-8h0.4v-2h0.4v-6h0.4v4h0.4v-6h0.4v-4h0.8v2h0.4v-6h0.8v-8h0.4v2h0.8v-2h0.4v2h0.4v-6h0.4v-2h0.4v4h0.8v-8h0.4v4h0.4v-2h0.4v6h0.4v-2h0.4v-2h0.4v8h0.8v-6h0.4v-2h0.4v4h0.4v6h0.8v-2h0.4v-6h0.4v12h0.4v-4h0.4v-4h0.4v10h0.4v2h0.8v4h0.4v-4h0.4v6h0.4v-4h0.4v8h0.4v-6h0.4v6h0.4v4h0.4v6h0.8v-6h0.4v6h0.4v-2h0.4v4h0.4v2h0.4v-2h0.8v6h0.4v-6h0.4v-2h0.4v8h0.4v-2h0.4v2h0.4v-2h0.4v-4h0.8v6h0.4v-2h0.4v6h0.4v-2h0.4v-8h0.4v2h0.4v6h0.8v-4h0.4v2h0.4v-2h0.4v2h0.4v-4h0.4v4h0.4v-6h0.8v2h0.4v4h0.4v-6h0.4v-2h0.8v4h0.4v-6h0.4v8h0.4v-8h0.8v-2h0.4v4h0.8v-2h0.4v-4h0.8v4h0.8v-6h0.4v-2h0.8v2h0.4v-2h0.4v4h0.4v-2h0.4v-4h0.4v-2h0.4v-2h0.4v2h0.4v-4h0.4v-4h0.4v6h0.4v-6h0.4v-4h0.4v8h0.4v-2h0.4v-2h0.4v-4h0.4v-4h0.4v6h0.4v2h0.4v-8h0.4v2h0.4v-4h0.4v4h0.4v-2h0.4v-8h0.4v2h0.4v4h1.2v-2h0.4v2h0.8v-2h0.4v-2h0.8v2h0.4v-4h0.4v6h0.4v-2h0.8v-6h0.8v-2h0.4" fill="none" stroke="#ff0000" stroke-width="4.0" stroke-linejoin="miter" stroke-miterlimit="2"/>
<text x="1.17" y="1295.6" textLength="18.93" lengthAdjust="spacingAndGlyphs" xml:space="preserve"><tspan font-size="32.5" font-weight="bold">c</tspan></text>
<rect x="77.7" y="1290.5" width="604.9" height="453.2" fill="none" stroke="#000" stroke-width="1.6"/>
<line x1="77.7" y1="1724.2" x2="82.7" y2="1724.2" stroke="#000" stroke-width="1.6"/>
<line x1="77.7" y1="1704.5" x2="82.7" y2="1704.5" stroke="#000" stroke-width="1.6"/>
<line x1="77.7" y1="1684.8" x2="82.7" y2="1684.8" stroke="#000" stroke-width="1.6"/>
<line x1="77.7" y1="1665.1" x2="82.7" y2="1665.1" stroke="#000" stroke-width="1.6"/>
<line x1="77.7" y1="1645.4" x2="82.7" y2="1645.4" stroke="#000" stroke-width="1.6"/>
<line x1="77.7" y1="1625.7" x2="82.7" y2="1625.7" stroke="#000" stroke-width="1.6"/>
<line x1="77.7" y1="1606" x2="82.7" y2="1606" stroke="#000" stroke-width="1.6"/>
<line x1="77.7" y1="1586.3" x2="82.7" y2="1586.3" stroke="#000" stroke-width="1.6"/>
<line x1="77.7" y1="1566.6" x2="82.7" y2="1566.6" stroke="#000" stroke-width="1.6"/>
<line x1="77.7" y1="1546.9" x2="82.7" y2="1546.9" stroke="#000" stroke-width="1.6"/>
<line x1="77.7" y1="1527.2" x2="82.7" y2="1527.2" stroke="#000" stroke-width="1.6"/>
<line x1="77.7" y1="1507.5" x2="82.7" y2="1507.5" stroke="#000" stroke-width="1.6"/>
<line x1="77.7" y1="1487.8" x2="82.7" y2="1487.8" stroke="#000" stroke-width="1.6"/>
<line x1="77.7" y1="1468.1" x2="82.7" y2="1468.1" stroke="#000" stroke-width="1.6"/>
<line x1="77.7" y1="1448.4" x2="82.7" y2="1448.4" stroke="#000" stroke-width="1.6"/>
<line x1="77.7" y1="1428.7" x2="82.7" y2="1428.7" stroke="#000" stroke-width="1.6"/>
<line x1="77.7" y1="1409" x2="82.7" y2="1409" stroke="#000" stroke-width="1.6"/>
<line x1="77.7" y1="1389.3" x2="82.7" y2="1389.3" stroke="#000" stroke-width="1.6"/>
<line x1="77.7" y1="1369.6" x2="82.7" y2="1369.6" stroke="#000" stroke-width="1.6"/>
<line x1="77.7" y1="1349.9" x2="82.7" y2="1349.9" stroke="#000" stroke-width="1.6"/>
<line x1="77.7" y1="1330.2" x2="82.7" y2="1330.2" stroke="#000" stroke-width="1.6"/>
<line x1="77.7" y1="1310.5" x2="82.7" y2="1310.5" stroke="#000" stroke-width="1.6"/>
<text x="55.46" y="1692.7" textLength="12.2" lengthAdjust="spacingAndGlyphs" xml:space="preserve"><tspan font-size="22.5">0</tspan></text>
<text x="55.53" y="1594.2" textLength="12.2" lengthAdjust="spacingAndGlyphs" xml:space="preserve"><tspan font-size="22.5">5</tspan></text>
<text x="43.27" y="1495.7" textLength="24.39" lengthAdjust="spacingAndGlyphs" xml:space="preserve"><tspan font-size="22.5">10</tspan></text>
<text x="43.33" y="1397.2" textLength="24.39" lengthAdjust="spacingAndGlyphs" xml:space="preserve"><tspan font-size="22.5">15</tspan></text>
<text x="43.27" y="1298.7" textLength="24.39" lengthAdjust="spacingAndGlyphs" xml:space="preserve"><tspan font-size="22.5">20</tspan></text>
<text x="72.16" y="1770.7" textLength="13.28" lengthAdjust="spacingAndGlyphs" xml:space="preserve"><tspan font-size="22">0</tspan></text>
<line x1="181.7" y1="1743.7" x2="181.7" y2="1736.7" stroke="#000" stroke-width="1.6"/>
<text x="168.98" y="1770.7" textLength="26.55" lengthAdjust="spacingAndGlyphs" xml:space="preserve"><tspan font-size="22">10</tspan></text>
<line x1="285.6" y1="1743.7" x2="285.6" y2="1736.7" stroke="#000" stroke-width="1.6"/>
<text x="273.19" y="1770.7" textLength="26.55" lengthAdjust="spacingAndGlyphs" xml:space="preserve"><tspan font-size="22">20</tspan></text>
<line x1="389.5" y1="1743.7" x2="389.5" y2="1736.7" stroke="#000" stroke-width="1.6"/>
<text x="377.24" y="1770.7" textLength="26.55" lengthAdjust="spacingAndGlyphs" xml:space="preserve"><tspan font-size="22">30</tspan></text>
<line x1="493.4" y1="1743.7" x2="493.4" y2="1736.7" stroke="#000" stroke-width="1.6"/>
<text x="481.32" y="1770.7" textLength="26.55" lengthAdjust="spacingAndGlyphs" xml:space="preserve"><tspan font-size="22">40</tspan></text>
<line x1="597.3" y1="1743.7" x2="597.3" y2="1736.7" stroke="#000" stroke-width="1.6"/>
<text x="585.01" y="1770.7" textLength="26.55" lengthAdjust="spacingAndGlyphs" xml:space="preserve"><tspan font-size="22">50</tspan></text>
<text transform="translate(24.6,1712.01) rotate(-90)" x="0" y="0" textLength="393.36" lengthAdjust="spacingAndGlyphs" xml:space="preserve"><tspan font-size="23.5">Relative resistance change Δ</tspan><tspan font-size="23.5" font-style="italic">R</tspan><tspan font-size="23.5">/</tspan><tspan font-size="23.5" font-style="italic">R</tspan><tspan font-size="15.5" dy="5.5">0</tspan><tspan font-size="23.5" dy="-5.5"> (%)</tspan></text>
<text x="200.86" y="1804.5" textLength="342.9" lengthAdjust="spacingAndGlyphs" xml:space="preserve"><tspan font-size="22">Nanoribbon deflection </tspan><tspan font-size="22" font-style="italic">D</tspan><tspan font-size="14.5" dy="6.5">GNR</tspan><tspan font-size="22" dy="-6.5"> (nm)</tspan></text>
<text x="87.22" y="1350.9" textLength="148.52" lengthAdjust="spacingAndGlyphs" xml:space="preserve"><tspan font-size="20.8">Deformation #4</tspan></text>
<text x="87.21" y="1450.8" textLength="148.84" lengthAdjust="spacingAndGlyphs" xml:space="preserve"><tspan font-size="20.8">Deformation #3</tspan></text>
<text x="87.21" y="1549.5" textLength="148.98" lengthAdjust="spacingAndGlyphs" xml:space="preserve"><tspan font-size="20.8">Deformation #2</tspan></text>
<text x="87.21" y="1659.1" textLength="148.95" lengthAdjust="spacingAndGlyphs" xml:space="preserve"><tspan font-size="20.8">Deformation #1</tspan></text>
<path d="M78.5,1388.2h0.3v15.8h0.4v-15.8h0.3v7.9h0.3v-7.9h0.2v-7.9h1.2v7.9h0.3v-7.9h0.3v23.7h0.2v-23.7h0.2v15.8h0.3v-15.8h0.3v7.9h0.2v-7.9h0.2v15.8h0.6v-7.9h0.7v-7.9h0.3v15.8h0.4v-7.9h0.3v-7.9h0.3v7.9h0.7v-15.8h0.3v7.9h0.4v7.9h0.3v-7.9h0.3v7.9h0.7v7.9h0.5v-15.8h0.5v7.9h0.7v-7.9h0.3v7.9h0.3v7.9h0.2v-7.9h0.2v7.9h0.3v-15.8h1v15.8h0.3v-15.8h0.2v-7.9h0.2v15.8h0.3v-15.8h0.3v23.7h0.2v-7.9h0.2v-7.9h0.3v7.9h1v7.9h0.3v-7.9h0.2v7.9h0.2v-23.7h0.3v7.9h0.5v15.8h0.5v-15.8h0.3v15.8h0.2v-7.9h0.2v-7.9h0.6v15.8h0.2v-7.9h0.5v7.9h0.5v-7.9h0.5v7.9h0.3v-15.8h0.7v15.8h0.3v7.9h0.2v-7.9h0.2v-7.9h0.3v-7.9h0.3v15.8h0.2v-7.9h0.2v7.9h0.3v-15.8h0.3v7.9h0.2v-7.9h0.2v15.8h0.3v-7.9h0.3v-7.9h0.2v15.8h0.2v-7.9h0.6v7.9h0.2v-15.8h0.2v7.9h0.3v7.9h0.3v-15.8h0.4v15.8h0.3v-15.8h0.3v7.9h0.2v7.9h0.5v-15.8h0.3v7.9h0.7v7.9h0.3v-15.8h0.4v7.9h0.8v-7.9h0.5v7.9h0.3v7.9h0.2v-7.9h0.2v7.9h0.3v-15.8h0.3v7.9h0.2v-7.9h0.2v7.9h0.6v-7.9h0.4v7.9h0.3v-7.9h0.3v15.8h0.2v-15.8h0.2v7.9h0.3v-15.8h0.3v7.9h0.4v15.8h0.6v-15.8h0.2v-7.9h0.2v7.9h0.6v15.8h0.2v-7.9h0.5v7.9h0.5v-15.8h0.2v7.9h0.3v-7.9h0.3v15.8h0.2v-7.9h1v7.9h0.2v-7.9h0.3v-15.8h0.3v31.6h0.2v-23.7h0.2v15.8h0.3v-7.9h0.5v7.9h0.2v-7.9h0.6v15.8h0.2v-15.8h0.2v15.8h0.3v-15.8h0.3v7.9h0.4v-7.9h0.6v7.9h0.2v-15.8h0.8v23.7h0.2v-7.9h0.2v7.9h0.3v-15.8h0.3v7.9h0.2v-7.9h0.2v7.9h0.3v-7.9h0.3v15.8h0.2v-7.9h0.2v-7.9h0.3v-7.9h0.3v15.8h0.2v7.9h0.5v-7.9h0.3v-7.9h0.2v7.9h0.8v-7.9h0.2v7.9h0.8v-7.9h0.2v7.9h0.2v-7.9h0.3v7.9h0.3v-7.9h0.2v-7.9h0.2v7.9h0.3v-7.9h0.5v7.9h0.5v7.9h0.5v-15.8h0.5v7.9h0.3v-7.9h0.2v-7.9h0.2v15.8h0.3v-7.9h0.3v7.9h0.7v-7.9h0.3v15.8h0.7v-23.7h0.3v15.8h0.4v-7.9h0.3v15.8h0.3v-23.7h0.2v15.8h0.2v-15.8h0.3v7.9h0.3v-7.9h0.4v7.9h1.8v7.9h0.2v-15.8h0.3v7.9h0.3v15.8h0.4v-7.9h0.8v-7.9h0.2v7.9h0.8v-15.8h0.2v15.8h0.3v-15.8h0.3v15.8h0.2v-7.9h0.2v7.9h0.8v-7.9h0.5v15.8h0.3v-15.8h0.2v7.9h0.2v7.9h0.3v-7.9h0.3v-7.9h0.2v15.8h0.2v-23.7h0.3v7.9h0.3v7.9h0.4v-7.9h0.6v-7.9h0.2v23.7h0.2v-7.9h1v-15.8h0.6v15.8h0.4v-7.9h0.3v7.9h0.3v-7.9h0.2v15.8h0.5v-23.7h0.3v7.9h0.4v15.8h0.6v-15.8h0.2v-7.9h0.2v15.8h0.3v-7.9h0.3v-7.9h0.2v23.7h0.2v-15.8h0.3v-7.9h0.3v15.8h0.2v-7.9h0.2v-15.8h0.3v7.9h0.3v7.9h0.4v-7.9h0.3v15.8h0.7v7.9h0.3v-7.9h0.3v-7.9h0.2v-7.9h0.2v7.9h0.6v7.9h0.2v-7.9h0.5v7.9h0.5v7.9h0.8v-15.8h0.2v7.9h0.2v7.9h0.3v-15.8h0.5v7.9h0.2v-7.9h0.3v7.9h0.5v7.9h0.2v-15.8h0.8v15.8h0.2v-15.8h0.3v15.8h0.5v-7.9h0.2v7.9h1.6v-7.9h0.2v-7.9h0.5v7.9h0.3v7.9h0.2v-7.9h0.5v7.9h0.3v-7.9h0.2v7.9h0.2v-7.9h0.6v-7.9h0.2v15.8h0.2v-15.8h0.3v7.9h0.3v-15.8h0.2v15.8h1v7.9h0.2v-23.7h0.3v23.7h0.5v-15.8h0.5v-7.9h0.3v7.9h0.2v7.9h0.2v7.9h0.3v-7.9h0.3v7.9h0.2v-23.7h0.2v15.8h0.3v-7.9h0.3v-7.9h0.4v7.9h0.3v-7.9h0.3v15.8h0.2v-15.8h0.2v7.9h0.6v-7.9h0.2v15.8h0.2v-7.9h0.3v7.9h0.5v-7.9h0.2v7.9h0.3v7.9h0.3v-15.8h0.2v7.9h0.2v-15.8h0.3v7.9h0.3v7.9h0.4v7.9h0.8v-7.9h0.2v7.9h0.3v-7.9h0.3v7.9h0.2v-7.9h0.8v-7.9h1v15.8h1v7.9h0.2v-7.9h1v-15.8h0.5v7.9h0.7v7.9h0.3v-7.9h0.7v-7.9h0.3v15.8h0.3v-23.7h0.2v7.9h0.2v7.9h0.6v-7.9h0.4v15.8h0.8v-7.9h0.5v7.9h0.5v-7.9h0.2v7.9h0.6v-15.8h0.2v15.8h0.5v-15.8h0.3v15.8h0.2v-15.8h0.2v15.8h0.3v-7.9h0.3v-7.9h0.2v15.8h0.8v-15.8h0.2v7.9h0.2v7.9h0.3v-7.9h0.3v7.9h0.2v-15.8h0.2v15.8h0.3v-15.8h0.3v15.8h0.2v-7.9h0.2v-7.9h0.6v15.8h0.7v-15.8h0.7v15.8h0.6v-7.9h0.4v7.9h0.3v-7.9h0.3v-7.9h0.2v15.8h0.2v-7.9h0.3v-7.9h0.3v7.9h0.2v7.9h0.2v-7.9h1.3v-7.9h0.7v15.8h0.3v-7.9h0.5v-7.9h0.2v15.8h0.3v-15.8h0.3v15.8h0.2v-7.9h0.2v7.9h0.3v-7.9h0.3v7.9h0.2v-15.8h0.5v15.8h0.3v-23.7h0.7v7.9h0.7v7.9h0.3v7.9h0.3v-15.8h0.2v7.9h0.2v-7.9h0.8v7.9h1v-7.9h0.2v7.9h0.3v7.9h0.3v-15.8h0.2v7.9h0.5v-7.9h0.3v-15.8h0.2v31.6h0.2v-7.9h0.3v-15.8h0.3v23.7h0.2v-7.9h0.2v-15.8h0.3v23.7h0.5v-23.7h0.2v15.8h0.3v7.9h0.5v-15.8h0.5v15.8h0.3v-7.9h0.2v7.9h0.5v-15.8h0.3v15.8h0.2v-7.9h0.2v7.9h0.3v-7.9h0.3v-15.8h0.4v7.9h0.3v7.9h0.3v-7.9h0.2v7.9h0.2v-15.8h0.3v15.8h0.3v-15.8h1v7.9h1v-7.9h0.2v15.8h0.2v-7.9h0.3v7.9h0.3v-7.9h0.2v-7.9h0.2v7.9h0.3v15.8h0.3v-7.9h0.7v-7.9h0.3v15.8h0.2v-23.7h0.2v23.7h0.3v-7.9h0.3v-15.8h0.2v7.9h0.8v7.9h0.4v7.9h0.3v-7.9h0.3v-15.8h0.2v7.9h0.2v-7.9h0.6v23.7h0.2v-7.9h0.2v-15.8h0.3v7.9h0.3v15.8h0.2v-7.9h0.2v7.9h0.3v-23.7h0.3v15.8h0.2v-7.9h0.8v7.9h0.2v-15.8h0.2v15.8h1v7.9h0.3v-7.9h0.3v-7.9h0.2v15.8h0.2v-7.9h0.6v-15.8h0.2v23.7h0.5v-23.7h0.3v7.9h0.4v15.8h0.3v-7.9h0.3v-7.9h0.2v7.9h0.2v-7.9h0.3v15.8h0.3v-15.8h0.2v7.9h0.5v-7.9h0.3v15.8h0.4v-15.8h0.3v7.9h0.3v-7.9h0.2v-7.9h0.2v15.8h0.3v-7.9h0.3v7.9h0.4v-7.9h0.3v7.9h0.3v-7.9h0.4v7.9h0.3v-15.8h0.3v15.8h0.2v-7.9h0.2v7.9h1.3v-7.9h0.5v15.8h0.5v-15.8h0.3v7.9h0.2v7.9h0.2v-15.8h0.3v15.8h0.5v-23.7h0.2v7.9h0.3v-7.9h0.7v15.8h0.6v-15.8h0.2v7.9h0.2v7.9h0.3v-7.9h0.3v7.9h0.2v-7.9h0.5v15.8h0.3v-15.8h0.2v7.9h1v7.9h0.8v-7.9h0.2v-7.9h0.2v15.8h0.3v-7.9h0.3v7.9h0.2v-15.8h0.2v-7.9h0.3v15.8h0.7v7.9h0.8v-7.9h0.8v7.9h0.2v-7.9h0.2v7.9h0.3v-7.9h1.3v7.9h1.2v-7.9h0.2v7.9h0.6v7.9h0.4v-7.9h1v-7.9h0.3v15.8h0.3v-7.9h0.2v-15.8h0.2v23.7h0.3v-7.9h0.3v-15.8h0.2v15.8h0.5v-7.9h0.5v7.9h0.2v-15.8h0.3v15.8h0.3v7.9h0.7v-15.8h0.3v7.9h0.7v-7.9h0.3v7.9h0.7v-7.9h0.5v-7.9h0.5v7.9h1v-7.9h0.3v15.8h0.2v-7.9h0.2v15.8h0.3v-15.8h0.3v7.9h0.2v-15.8h0.2v7.9h0.3v15.8h0.7v-15.8h0.6v-7.9h0.4v15.8h0.8v-7.9h0.2v7.9h1v-7.9h0.3v15.8h0.3v-7.9h0.4v15.8h0.3v7.9h0.3v-23.7h0.2v15.8h0.2v-7.9h0.6v-7.9h0.2v7.9h0.2v-7.9h0.3v7.9h0.3v7.9h0.2v-7.9h0.2v-7.9h0.6v15.8h0.4v-15.8h0.3v23.7h0.3v-23.7h0.2v15.8h0.5v-15.8h0.3v7.9h0.2v7.9h0.2v-15.8h1v15.8h0.3v-7.9h0.3v7.9h0.7v-7.9h0.3v15.8h0.2v-15.8h0.2v-7.9h0.3v23.7h0.5v-23.7h0.2v23.7h0.3v-7.9h0.3v-15.8h0.2v7.9h0.2v7.9h0.8v-15.8h0.2v-7.9h0.3v7.9h0.5v15.8h0.2v-7.9h0.3v7.9h0.3v-7.9h0.4v15.8h0.3v-15.8h0.3v-7.9h0.2v15.8h0.5v-7.9h0.3v7.9h0.2v-7.9h0.5v7.9h0.5v-7.9h0.2v15.8h0.3v-15.8h0.3v7.9h0.2v-15.8h0.2v23.7h0.3v-7.9h0.3v-15.8h0.2v15.8h0.2v-7.9h0.3v-7.9h0.3v7.9h0.4v7.9h0.6v7.9h0.2v-15.8h0.2v-7.9h0.6v23.7h0.2v-7.9h0.5v-7.9h0.5v-7.9h0.2v7.9h0.3v15.8h0.3v-7.9h0.2v7.9h0.2v-23.7h0.3v23.7h0.3v-7.9h0.2v-15.8h0.5v15.8h0.3v-7.9h0.2v7.9h0.2v7.9h0.3v-7.9h0.3v-7.9h0.2v7.9h0.5v-15.8h0.5v15.8h0.2v-15.8h0.3v23.7h0.3v-7.9h0.7v-7.9h0.3v-7.9h0.4v15.8h0.3v-7.9h0.3v7.9h0.2v-7.9h0.2v-7.9h0.3v15.8h0.3v7.9h0.2v-7.9h0.2v-7.9h0.3v7.9h0.3v15.8h0.2v-23.7h0.2v7.9h0.3v7.9h0.3v7.9h0.2v-7.9h0.2v-15.8h0.8v7.9h0.2v7.9h0.8v-7.9h0.2v7.9h0.3v-15.8h1v23.7h0.3v-23.7h0.2v23.7h0.2v-7.9h0.3v-15.8h0.5v-7.9h0.2v31.6h0.3v-15.8h0.5v7.9h0.2v-7.9h0.3v7.9h0.3v-15.8h0.2v7.9h0.2v7.9h0.3v-23.7h1v23.7h0.3v-7.9h0.2v-15.8h0.5v15.8h0.3v-7.9h0.2v15.8h0.2v-23.7h0.6v7.9h0.2v-7.9h0.5v7.9h0.3v-7.9h1v7.9h0.2v-7.9h0.2v15.8h0.6v7.9h0.2v-7.9h0.2v7.9h0.3v-23.7h0.3v7.9h0.2v7.9h0.2v-7.9h0.3v-7.9h0.3v-7.9h0.2v7.9h0.2v15.8h0.8v-15.8h0.2v7.9h0.3v-15.8h0.3v31.6h0.4v-7.9h0.3v-23.7h0.3v7.9h0.4v-7.9h0.3v7.9h0.3v15.8h0.2v-7.9h0.2v15.8h0.3v-15.8h0.5v-7.9h0.2v15.8h0.3v-7.9h0.5v7.9h0.2v-7.9h0.3v7.9h0.3v-23.7h0.2v7.9h0.2v7.9h0.8v-7.9h0.2v-15.8h0.3v23.7h0.5v-7.9h0.5v-7.9h0.5v15.8h0.2v7.9h0.3v-15.8h0.3v7.9h0.2v-23.7h0.2v7.9h0.3v-7.9h0.3v15.8h0.2v-7.9h0.5v7.9h0.3v-7.9h0.2v7.9h0.2v-7.9h0.3v-7.9h0.3v23.7h0.2v-23.7h0.2v23.7h0.3v-15.8h0.3v23.7h0.2v-15.8h0.2v-15.8h0.3v15.8h0.7v7.9h0.8v-23.7h0.2v7.9h0.3v15.8h0.3v-7.9h0.2v-7.9h0.2v7.9h0.3v-7.9h0.3v7.9h0.7v-23.7h0.3v7.9h0.2v7.9h0.2v7.9h0.3v-7.9h0.3v7.9h0.2v-23.7h0.2v23.7h0.3v-31.6h0.3v23.7h0.7v7.9h0.3v-23.7h0.2v-7.9h0.2v15.8h0.6v-15.8h0.2v31.6h0.2v-7.9h0.3v-15.8h0.3v7.9h0.7v7.9h0.3v-7.9h0.2v-15.8h0.5v7.9h0.5v7.9h0.2v-7.9h0.3v-7.9h0.3v15.8h0.2v-15.8h0.2v7.9h0.3v-7.9h0.3v23.7h0.4v-23.7h0.6v15.8h0.2v7.9h0.2v-7.9h0.6v-7.9h0.2v7.9h0.5v-15.8h0.3v-7.9h0.4v7.9h0.3v15.8h0.3v-7.9h0.2v-7.9h0.8v15.8h0.2v-15.8h0.2v7.9h0.6v-15.8h0.2v15.8h0.2v-23.7h0.3v15.8h0.7v7.9h0.6v-23.7h0.2v23.7h0.2v-15.8h0.8v-7.9h0.2v7.9h0.3v-7.9h0.3v7.9h0.2v7.9h0.2v-15.8h0.3v31.6h0.3v-15.8h0.2v7.9h0.2v-7.9h0.3v-7.9h0.3v15.8h0.2v-15.8h0.5v15.8h0.5v-23.7h0.5v23.7h0.3v-15.8h0.2v-7.9h0.5v7.9h0.3v7.9h0.4v7.9h0.3v-7.9h0.3v-7.9h0.7v15.8h0.3v-7.9h0.2v-7.9h0.2v7.9h0.6v-15.8h0.2v7.9h0.8v7.9h0.2v7.9h0.2v-23.7h0.3v23.7h0.3v-23.7h0.4v23.7h0.3v-23.7h0.5v7.9h0.2v7.9h0.3v-15.8h0.3v-7.9h0.2v31.6h0.2v-15.8h0.8v-7.9h0.2v15.8h0.3v-15.8h0.3v7.9h0.2v15.8h0.2v-23.7h0.3v7.9h0.3v7.9h0.2v-15.8h0.2v15.8h0.6v-23.7h0.4v7.9h0.3v7.9h0.3v-7.9h0.2v7.9h0.2v7.9h0.3v-7.9h0.5v-7.9h0.2v-7.9h0.3v7.9h0.5v7.9h0.2v-15.8h0.3v7.9h0.3v7.9h0.2v-7.9h0.2v15.8h0.6v-23.7h0.2v7.9h0.2v7.9h0.3v-15.8h0.3v7.9h0.2v-15.8h0.2v15.8h0.3v7.9h0.5v-15.8h0.5v7.9h0.3v7.9h0.2v-7.9h0.2v-15.8h0.3v7.9h0.3v15.8h0.7v-15.8h0.3v7.9h0.2v7.9h0.2v-15.8h0.6v7.9h0.2v-15.8h0.2v23.7h0.3v-7.9h0.3v-15.8h0.7v15.8h0.3v-23.7h0.2v15.8h0.2v7.9h0.6v-7.9h0.2v7.9h0.2v7.9h0.3v-23.7h0.5v15.8h0.2v-7.9h0.3v15.8h0.3v-15.8h0.2v7.9h0.2v-15.8h0.6v7.9h0.2v7.9h0.2v-7.9h0.3v-7.9h0.5v15.8h0.2v-15.8h0.3v7.9h0.3v7.9h0.2v-23.7h0.2v31.6h0.3v-23.7h0.5v-7.9h0.2v39.5h0.3v-23.7h0.3v7.9h0.7v7.9h0.3v7.9h0.2v-15.8h0.2v-7.9h0.3v7.9h0.3v-15.8h0.2v7.9h0.5v-7.9h0.3v23.7h0.2v-7.9h0.2v7.9h0.3v-15.8h0.3v15.8h0.2v-15.8h0.5v-7.9h0.3v15.8h0.2v-7.9h0.8v-7.9h0.2v7.9h0.8v-7.9h0.2v23.7h0.2v-23.7h0.3v23.7h0.5v-15.8h0.5v23.7h0.3v-15.8h0.2v-7.9h0.5v23.7h0.3v-15.8h0.2v7.9h0.2v7.9h0.3v-15.8h0.3v-7.9h0.2v23.7h0.2v-7.9h0.3v7.9h0.3v-23.7h0.2v15.8h0.2v15.8h0.3v-7.9h0.3v7.9h0.7v-7.9h0.3v-15.8h0.2v7.9h0.2v15.8h0.3v-7.9h0.3v7.9h0.2v-7.9h0.5v7.9h0.3v-7.9h0.2v7.9h0.2v-15.8h0.3v23.7h0.3v-7.9h0.2v7.9h0.2v7.9h0.3v-7.9h0.3v-23.7h0.2v23.7h0.2v-7.9h0.3v15.8h0.3v-7.9h0.7v-15.8h0.3v7.9h0.2v15.8h0.2v-7.9h0.6v-15.8h0.2v7.9h0.2v7.9h0.3v15.8h0.3v-31.6h0.2v15.8h1.2v7.9h0.6v-15.8h0.7v15.8h0.3v7.9h0.2v-7.9h0.2v-15.8h0.3v15.8h0.3v-15.8h0.2v7.9h0.2v15.8h1v-7.9h0.3v-7.9h0.3v7.9h0.4v15.8h0.3v-23.7h0.3v7.9h0.2v-7.9h0.2v7.9h0.3v-7.9h0.3v23.7h0.7v7.9h0.7v-15.8h0.6v-7.9h0.2v7.9h0.5v15.8h0.3v-7.9h0.2v-7.9h0.2v15.8h0.3v-7.9h0.3v-15.8h0.2v23.7h0.5v-15.8h0.5v7.9h0.2v-15.8h0.3v23.7h0.3v7.9h0.2v-15.8h0.5v7.9h0.3v-15.8h0.2v15.8h0.2v-15.8h0.3v7.9h0.5v15.8h0.2v-15.8h0.3v15.8h0.3v-23.7h0.2v15.8h0.2v7.9h0.3v-23.7h0.3v23.7h0.2v-23.7h0.2v15.8h0.3v-15.8h0.3v7.9h0.4v7.9h0.3v7.9h0.3v-23.7h0.2v15.8h0.5v-15.8h0.3v15.8h0.2v7.9h0.2v-7.9h0.3v-15.8h0.3v15.8h0.4v7.9h0.6v-7.9h0.2v15.8h0.2v-23.7h0.3v15.8h0.7v-15.8h0.3v7.9h0.5v7.9h0.5v-7.9h0.3v7.9h0.2v7.9h0.2v-23.7h0.3v23.7h0.3v-15.8h0.7v7.9h0.3v-23.7h0.2v15.8h0.2v7.9h0.6v-15.8h0.2v7.9h0.2v7.9h0.3v-7.9h0.5v-7.9h0.2v-7.9h0.3v7.9h0.3v7.9h0.7v-7.9h0.3v7.9h0.2v-7.9h0.5v7.9h0.3v-15.8h0.2v15.8h0.2v-7.9h0.3v7.9h0.3v-23.7h0.4v15.8h0.6v-7.9h0.2v23.7h0.2v-31.6h0.3v7.9h0.5v-7.9h0.2v7.9h0.3v15.8h0.5v-23.7h0.2v23.7h0.6v-23.7h0.2v7.9h0.2v15.8h0.3v-7.9h0.5v-15.8h0.2v15.8h0.6v-31.6h0.2v23.7h0.5v-7.9h0.3v15.8h0.2v7.9h0.2v-23.7h0.3v-7.9h0.3v7.9h0.2v15.8h0.5v-7.9h0.5v7.9h1v-15.8h0.8v7.9h0.2v-7.9h0.2v7.9h0.3v-23.7h0.3v7.9h0.4v15.8h0.3v-23.7h0.3v7.9h0.2v15.8h0.2v-15.8h0.3v7.9h0.3v7.9h0.2v-7.9h0.5v-7.9h0.3v15.8h0.2v-15.8h0.5v-7.9h0.3v-7.9h0.2v23.7h0.2v-15.8h0.3v7.9h0.3v-7.9h0.2v15.8h0.5v-15.8h0.3v15.8h0.2v-7.9h0.2v7.9h0.3v-7.9h0.3v-7.9h0.2v-7.9h0.5v23.7h0.3v-15.8h0.4v-7.9h0.3v7.9h0.3v23.7h0.4v-31.6h0.3v23.7h0.3v-7.9h0.2v-7.9h0.2v-7.9h0.3v7.9h0.3v7.9h0.2v-7.9h0.8v-7.9h0.2v15.8h0.2v-15.8h0.6v7.9h0.4v7.9h0.3v-7.9h0.3v-7.9h0.2v23.7h0.2v-15.8h0.3v-15.8h0.3v-7.9h0.2v15.8h0.2v7.9h0.3v-23.7h0.3v15.8h0.2v-7.9h0.2v7.9h0.3v-15.8h0.3v23.7h0.2v-15.8h0.2v-15.8h0.3v15.8h0.5v-7.9h0.2v-7.9h0.3v23.7h0.5v-15.8h0.2v7.9h0.3v-15.8h0.3v15.8h0.2v7.9h0.2v-23.7h0.3v7.9h0.3v-7.9h0.2v23.7h0.2v-15.8h0.3v7.9h0.3v-15.8h0.4v7.9h0.3v15.8h0.3v-7.9h0.2v-7.9h0.2v7.9h0.3v-15.8h0.3v-7.9h0.4v31.6h0.3v-23.7h0.3v7.9h0.2v-15.8h0.2v7.9h0.8v-7.9h0.2v7.9h1.3v-7.9h0.3v23.7h0.2v-15.8h0.2v-7.9h0.3v15.8h0.3v7.9h0.2v-7.9h0.2v-15.8h0.3v-7.9h0.3v7.9h1v15.8h0.2v-15.8h0.2v7.9h0.3v7.9h0.3v-15.8h0.2v-7.9h0.2v15.8h0.8v-15.8h0.2v23.7h0.3v-23.7h0.3v15.8h0.2v-7.9h0.2v7.9h0.3v-7.9h0.3v15.8h0.2v-15.8h0.5v7.9h0.3v-7.9h0.2v-7.9h0.2v7.9h0.3v7.9h0.3v7.9h0.2v-7.9h0.5v47.4h0.3v-71.1h0.2v15.8h0.5v7.9h0.3v7.9h0.2v-15.8h0.2v23.7h0.3v-23.7h0.3v15.8h0.2v-23.7h0.2v23.7h0.3v7.9h0.3v-7.9h0.2v7.9h0.2v-23.7h0.3v31.6h0.3v-23.7h0.4v-7.9h0.3v23.7h0.3v-23.7h0.2v7.9h0.8v15.8h0.2v-7.9h0.2v7.9h0.3v-7.9h0.5v-7.9h0.2v15.8h0.3v-7.9h0.3v7.9h0.4v-7.9h0.3v23.7h0.3v-15.8h0.2v7.9h0.2v7.9h0.3v-15.8h0.3v23.7h0.2v-7.9h0.2v-23.7h0.3v15.8h0.3v15.8h0.2v-7.9h0.8v-7.9h1v-7.9h0.2v15.8h0.2v-7.9h0.3v15.8h0.5v-15.8h0.8v15.8h0.2v-7.9h0.5v7.9h0.3v-23.7h0.2v31.6h1v-7.9h0.2v-15.8h0.3v23.7h0.3v-7.9h0.2v15.8h0.2v-7.9h0.6v-15.8h0.2v7.9h0.2v-7.9h0.3v23.7h0.5v-7.9h0.2v15.8h0.3v-7.9h0.3v-23.7h0.2v23.7h0.2v-23.7h0.3v15.8h0.7v-7.9h0.3v7.9h0.3v-7.9h0.2v7.9h0.5v7.9h0.3v7.9h0.2v-15.8h0.2v15.8h0.8v-15.8h0.2v-7.9h0.3v7.9h0.3v7.9h0.2v-7.9h0.2v23.7h0.3v-15.8h0.5v15.8h0.2v-23.7h0.6v15.8h0.2v-15.8h0.2v15.8h0.3v-15.8h0.3v7.9h0.2v15.8h0.2v-31.6h0.3v7.9h0.5v7.9h0.2v15.8h0.3v-31.6h0.3v15.8h0.2v7.9h0.2v-15.8h0.3v7.9h0.3v7.9h0.2v-7.9h0.2v-7.9h0.8v7.9h0.8v-7.9h0.2v-7.9h0.2v23.7h0.3v-7.9h0.3v-7.9h0.2v-15.8h0.2v23.7h0.3v-7.9h0.3v7.9h0.2v-7.9h0.8v-15.8h0.7v15.8h0.5v7.9h0.2v-15.8h0.3v-7.9h0.3v-7.9h0.7v15.8h0.3v-7.9h0.2v-7.9h0.2v23.7h0.3v-23.7h0.3v7.9h0.2v-7.9h0.2v15.8h0.6v-7.9h0.2v-7.9h0.5v7.9h0.3v-15.8h0.2v23.7h0.5v-15.8h0.5v7.9h0.2v-15.8h0.3v15.8h1.3v-23.7h0.2v23.7h0.5v-23.7h0.3v15.8h0.2v-15.8h0.2v7.9h0.3v-7.9h0.5v15.8h0.5v-7.9h0.5v7.9h0.2v-31.6h0.3v15.8h0.3v7.9h0.2v-23.7h0.5v31.6h0.7v-31.6h0.3v7.9h0.7v15.8h0.3v-23.7h0.3v7.9h0.2v7.9h0.5v-15.8h0.3v23.7h0.4v-15.8h0.3v-7.9h0.3v7.9h0.2v7.9h0.2v-15.8h0.3v-7.9h0.5v15.8h0.5v-15.8h0.3v7.9h0.7v7.9h0.3v-7.9h0.2v-7.9h0.5v15.8h0.5v7.9h0.2v-23.7h0.3v23.7h0.5v-15.8h0.2v-7.9h0.3v7.9h0.3v-15.8h0.2v23.7h0.2v-23.7h0.3v15.8h0.5v7.9h0.2v-7.9h0.3v-7.9h0.3v15.8h0.2v-15.8h0.2v-7.9h0.3v23.7h0.3v-15.8h0.7v-7.9h0.3v15.8h0.4v-15.8h0.3v7.9h0.3v7.9h0.2v-23.7h0.2v23.7h0.3v-23.7h0.3v31.6h0.2v-15.8h0.2v15.8h0.6v-23.7h0.4v15.8h0.3v-7.9h0.5v-7.9h0.2v23.7h0.3v-7.9h0.3v-15.8h0.7v7.9h0.3v23.7h0.2v-23.7h0.8v7.9h0.7v7.9h0.3v-15.8h0.2v23.7h0.2v-15.8h0.3v15.8h0.7v-15.8h0.3v23.7h0.7v-15.8h0.3v15.8h0.3v-15.8h0.2v-7.9h0.2v7.9h0.3v7.9h0.3v15.8h0.2v-31.6h0.2v7.9h0.6v31.6h0.2v-23.7h0.2v7.9h0.3v7.9h0.3v-7.9h0.2v15.8h0.2v-7.9h0.3v-15.8h0.3v23.7h0.2v-7.9h0.2v-15.8h0.3v7.9h0.3v23.7h0.2v-31.6h0.2v15.8h0.3v-7.9h0.3v23.7h0.2v-7.9h0.2v-15.8h0.3v7.9h0.3v15.8h0.2v-15.8h0.2v-7.9h0.3v15.8h0.5v-15.8h0.2v7.9h0.3v15.8h0.3v-15.8h0.2v15.8h0.5v-15.8h0.3v7.9h0.2v-7.9h0.8v23.7h0.2v-23.7h0.2v23.7h0.3v-15.8h0.3v-7.9h0.2v15.8h0.2v-15.8h0.3v23.7h0.3v-7.9h0.2v-7.9h0.2v15.8h0.3v-15.8h0.5v7.9h0.2v-15.8h0.3v7.9h0.3v15.8h0.2v-15.8h0.2v7.9h0.3v7.9h0.3v-23.7h0.2v7.9h1v7.9h0.2v-15.8h0.3v23.7h0.3v-23.7h0.4v23.7h0.3v-7.9h0.3v-23.7h0.2v7.9h0.2v23.7h0.3v-15.8h0.5v-15.8h0.2v15.8h0.6v7.9h0.2v-15.8h0.5v7.9h0.5v-15.8h0.2v23.7h0.6v-23.7h0.2v-7.9h0.5v7.9h0.3v15.8h0.2v-15.8h0.2v-7.9h0.6v7.9h0.4v-7.9h0.3v15.8h0.3v-7.9h0.4v15.8h0.3v-7.9h0.3v-15.8h0.2v7.9h0.2v-7.9h0.3v15.8h0.3v-23.7h0.7v23.7h0.5v-7.9h0.2v7.9h0.3v-7.9h1v-7.9h0.3v-7.9h0.2v23.7h0.2v-15.8h0.3v-7.9h0.7v15.8h0.3v-23.7h0.3v7.9h0.7v-15.8h0.3v7.9h0.2v7.9h0.2v-23.7h0.3v23.7h0.3v-15.8h0.2v7.9h0.2v-15.8h0.3v31.6h0.3v-7.9h0.2v-15.8h0.2v7.9h0.8v-15.8h0.2v23.7h0.3v-15.8h0.3v15.8h0.4v-7.9h0.3v7.9h0.5v-23.7h0.2v15.8h0.3v7.9h0.3v-15.8h0.4v-7.9h0.3v23.7h0.3v-23.7h0.2v-7.9h0.2v7.9h0.3v23.7h0.3v-23.7h0.2v15.8h0.2v-7.9h0.3v-7.9h0.3v7.9h0.2v-7.9h0.2v7.9h0.8v-7.9h0.2v7.9h0.6v-23.7h0.2v7.9h0.2v7.9h0.3v15.8h0.3v-15.8h0.2v-7.9h0.5v-7.9h0.3v15.8h0.7v-15.8h0.3v7.9h1v7.9h0.2v-7.9h0.2v-7.9h0.3v7.9h0.3v-7.9h0.2v15.8h0.2v-7.9h0.3v23.7h0.3v-23.7h0.2v7.9h0.5v7.9h0.3v7.9h0.2v-15.8h0.2v15.8h0.3v7.9h0.5v-7.9h0.2v7.9h0.3v7.9h0.3v-15.8h0.2v7.9h0.2v7.9h0.3v-7.9h0.3v-7.9h0.4v-7.9h0.3v15.8h0.3v-15.8h0.4v23.7h0.3v-15.8h0.3v7.9h0.2v7.9h0.8v-23.7h0.2v15.8h0.5v-15.8h0.3v23.7h0.2v-7.9h0.2v-15.8h0.3v15.8h0.3v-7.9h0.2v15.8h0.5v-7.9h0.5v15.8h0.2v-7.9h0.3v-7.9h0.3v15.8h0.4v-7.9h0.3v15.8h0.3v-15.8h0.2v7.9h0.2v7.9h0.3v-23.7h0.3v23.7h0.2v-15.8h0.5v15.8h0.3v-15.8h0.2v15.8h0.2v-23.7h0.3v23.7h0.5v7.9h0.2v-7.9h0.3v-23.7h0.3v23.7h0.2v-15.8h0.2v-7.9h0.3v23.7h0.3v-7.9h0.2v7.9h0.2v7.9h0.3v-31.6h0.3v23.7h0.2v-7.9h0.8v-7.9h1v7.9h0.2v-7.9h0.5v15.8h0.5v-7.9h1v7.9h0.2v-23.7h0.3v15.8h0.7v-23.7h0.3v7.9h0.3v7.9h0.2v15.8h0.2v-15.8h0.3v7.9h0.3v-7.9h0.2v7.9h0.2v-15.8h0.3v7.9h0.3v-15.8h0.2v7.9h0.2v-7.9h0.3v-7.9h0.3v31.6h0.2v-7.9h0.2v-7.9h0.3v-15.8h0.3v7.9h0.2v15.8h0.2v-15.8h0.8v15.8h0.5v-31.6h0.5v15.8h0.2v-7.9h0.3v7.9h0.5v7.9h0.5v-15.8h0.5v7.9h0.2v-7.9h0.3v-15.8h0.5v23.7h0.2v-15.8h0.3v15.8h0.3v-15.8h0.4v7.9h0.6v-7.9h0.2v-7.9h0.2v23.7h0.3v-7.9h0.3v-15.8h0.4" fill="none" stroke="#0a86cc" stroke-width="2.0" stroke-linejoin="miter" stroke-miterlimit="2"/>
<path d="M78.5,1501.6h0.3v-15.8h0.2v15.8h0.5v-15.8h0.5v15.8h0.2v-15.8h0.3v15.8h0.3v-15.8h0.2v7.9h0.2v7.9h0.3v-15.8h0.3v15.8h0.4v-15.8h0.3v7.9h0.3v7.9h0.4v-15.8h0.8v15.8h0.2v-15.8h0.3v15.8h0.3v-15.8h0.2v-7.9h0.2v7.9h0.6v7.9h0.2v7.9h0.2v-15.8h0.3v15.8h0.3v-15.8h0.2v-7.9h0.2v15.8h0.3v-7.9h1.3v15.8h0.2v-15.8h0.5v7.9h0.5v-7.9h1v-7.9h0.2v23.7h0.3v-23.7h0.3v23.7h0.7v-15.8h0.3v-7.9h0.2v15.8h0.2v-7.9h0.3v15.8h0.3v-15.8h0.7v-7.9h0.3v23.7h0.2v-15.8h0.2v-7.9h0.3v7.9h0.3v7.9h0.2v7.9h0.5v-15.8h0.5v7.9h1.2v-7.9h0.6v7.9h0.4v7.9h0.6v-15.8h0.2v7.9h0.2v-15.8h0.3v15.8h0.3v7.9h0.2v-7.9h0.2v-7.9h0.8v-7.9h0.5v7.9h0.5v7.9h0.2v-7.9h0.6v15.8h0.2v-23.7h0.2v7.9h0.3v-7.9h0.3v23.7h0.2v-7.9h0.5v-7.9h0.5v7.9h0.5v-7.9h0.3v15.8h0.2v-15.8h0.8v7.9h0.2v7.9h0.5v-15.8h0.3v7.9h0.2v7.9h0.2v-15.8h0.6v15.8h0.2v-15.8h0.2v15.8h0.3v-7.9h0.3v-15.8h0.2v7.9h0.2v-7.9h0.3v7.9h0.5v-7.9h0.2v7.9h0.6v-7.9h0.4v15.8h0.6v-7.9h0.2v7.9h0.2v-15.8h0.3v15.8h0.3v-15.8h0.2v7.9h0.2v7.9h0.3v-23.7h0.5v15.8h0.2v7.9h0.3v-7.9h0.3v-7.9h0.2v7.9h0.2v7.9h0.3v-7.9h0.3v-7.9h0.2v7.9h0.2v-7.9h0.3v15.8h0.3v-15.8h0.2v-7.9h0.8v7.9h0.2v7.9h0.2v-7.9h0.3v7.9h0.3v-7.9h0.4v15.8h1v-15.8h0.6v15.8h0.2v-15.8h0.2v15.8h0.3v-15.8h0.5v7.9h0.2v-7.9h0.6v7.9h0.2v-7.9h0.8v15.8h0.2v-15.8h0.8v15.8h0.2v-7.9h0.2v7.9h0.3v-7.9h0.3v-15.8h0.2v15.8h0.2v7.9h0.3v-7.9h0.5v-7.9h0.2v15.8h0.6v-15.8h0.2v15.8h0.2v-7.9h0.3v-7.9h0.3v7.9h0.7v-7.9h0.5v15.8h0.2v-15.8h0.3v7.9h0.3v-7.9h0.7v15.8h0.3v-15.8h0.2v15.8h0.2v-15.8h0.3v15.8h0.3v-7.9h0.2v-7.9h0.2v7.9h1v-15.8h0.3v15.8h0.5v7.9h0.2v-15.8h0.3v7.9h0.3v-15.8h0.2v15.8h0.2v-15.8h0.3v15.8h0.3v7.9h0.2v-7.9h0.2v-7.9h0.6v15.8h0.2v-15.8h0.2v7.9h0.3v7.9h0.3v-15.8h0.2v15.8h0.2v-7.9h0.3v-7.9h0.7v-7.9h0.3v15.8h0.3v-7.9h0.4v7.9h0.3v-7.9h0.3v7.9h0.4v7.9h0.3v-15.8h1v-7.9h0.3v15.8h0.2v-7.9h0.2v15.8h0.3v-15.8h0.3v-7.9h0.2v7.9h0.8v7.9h0.4v-15.8h0.3v23.7h0.3v-23.7h0.4v15.8h0.6v-7.9h0.2v7.9h0.2v-15.8h0.8v7.9h0.2v-7.9h0.3v-7.9h0.3v7.9h0.4v-7.9h0.3v7.9h0.3v7.9h0.2v-15.8h0.2v15.8h0.3v-7.9h0.5v7.9h0.5v-7.9h0.5v7.9h0.2v-15.8h0.3v15.8h0.3v-7.9h1v7.9h0.2v-15.8h0.2v15.8h0.3v-7.9h0.3v7.9h0.2v-7.9h0.2v7.9h0.3v-15.8h0.3v7.9h0.2v-7.9h0.5v7.9h0.3v-7.9h0.4v15.8h0.3v-7.9h0.3v7.9h0.4v7.9h0.3v-7.9h0.5v-7.9h0.2v15.8h0.3v-7.9h0.3v7.9h0.2v-15.8h0.5v7.9h0.3v-7.9h0.2v-7.9h0.2v15.8h0.3v-7.9h0.3v15.8h0.2v-7.9h0.2v-7.9h0.6v7.9h0.2v-7.9h0.5v-7.9h0.3v15.8h0.2v-7.9h0.2v7.9h0.3v-15.8h0.3v15.8h0.4v-15.8h0.3v7.9h0.5v7.9h0.2v-15.8h0.3v15.8h0.3v7.9h0.2v-15.8h0.2v-7.9h0.3v7.9h0.3v7.9h0.2v7.9h0.2v-15.8h0.3v15.8h0.3v-23.7h0.2v7.9h0.2v15.8h0.6v-23.7h0.2v15.8h1v-7.9h1.2v-7.9h0.3v23.7h0.3v-15.8h0.2v-7.9h0.2v15.8h0.6v7.9h0.2v-15.8h0.2v15.8h0.8v-7.9h0.2v7.9h0.8v-15.8h0.2v7.9h0.6v7.9h0.2v-15.8h0.2v23.7h0.3v-15.8h0.3v7.9h0.4v-15.8h0.8v7.9h0.5v7.9h0.5v-7.9h0.2v7.9h0.3v7.9h0.5v-15.8h0.2v15.8h0.6v-7.9h0.4v7.9h0.3v-7.9h0.3v-7.9h0.2v15.8h0.2v-15.8h0.3v7.9h0.3v-7.9h0.2v7.9h0.2v7.9h0.3v-15.8h0.3v15.8h0.2v7.9h0.2v-31.6h0.8v15.8h0.5v7.9h0.3v-7.9h0.2v7.9h0.2v-7.9h0.8v-7.9h0.5v7.9h0.3v7.9h0.2v-15.8h0.2v15.8h0.3v-7.9h0.3v15.8h0.2v-15.8h0.2v-7.9h0.3v15.8h0.3v-7.9h0.2v7.9h0.2v-15.8h0.3v7.9h1.3v-7.9h0.2v15.8h0.2v-7.9h0.3v7.9h1.3v-15.8h0.2v23.7h0.2v-15.8h0.3v7.9h0.5v-23.7h0.2v23.7h0.3v-23.7h0.5v15.8h0.2v-15.8h0.3v7.9h0.3v7.9h0.4v-7.9h0.3v7.9h0.5v-15.8h0.2v7.9h0.3v-7.9h0.3v7.9h0.4v-7.9h0.3v7.9h0.5v7.9h0.8v7.9h0.2v-15.8h1v7.9h0.2v7.9h0.8v-15.8h0.2v15.8h0.3v-15.8h0.3v15.8h0.2v-15.8h0.5v7.9h0.3v-7.9h0.7v15.8h0.3v-15.8h0.2v7.9h0.8v-7.9h0.2v7.9h0.8v-7.9h0.2v15.8h0.2v-15.8h0.8v-7.9h0.2v7.9h0.8v-7.9h0.2v15.8h0.6v-15.8h0.2v7.9h0.2v7.9h0.3v-15.8h0.5v15.8h0.2v-15.8h0.3v7.9h0.5v7.9h0.5v-15.8h0.3v15.8h0.2v-7.9h0.5v15.8h0.3v-23.7h0.4v15.8h0.3v-15.8h0.5v7.9h0.2v-7.9h0.3v15.8h0.5v-7.9h1v15.8h0.2v-7.9h0.6v7.9h0.2v-7.9h0.5v-7.9h0.3v7.9h0.2v7.9h0.2v-15.8h0.8v7.9h0.8v7.9h0.4v-7.9h0.8v-7.9h0.2v7.9h0.3v7.9h0.5v-7.9h0.2v7.9h0.3v-15.8h0.3v7.9h0.2v-23.7h0.2v23.7h0.3v-7.9h0.3v-7.9h0.4v15.8h0.3v-7.9h0.3v-7.9h0.2v23.7h0.2v-23.7h0.3v7.9h0.3v-7.9h0.2v7.9h0.5v7.9h0.5v7.9h0.5v-7.9h0.3v7.9h0.4v-7.9h1v-7.9h0.3v15.8h0.3v-7.9h0.4v7.9h0.3v-7.9h0.3v-7.9h0.2v7.9h0.2v-7.9h0.3v7.9h0.5v7.9h0.2v-7.9h0.3v7.9h0.3v-7.9h0.4v7.9h1v-15.8h0.3v7.9h0.3v-7.9h0.2v15.8h0.2v-7.9h0.3v-7.9h0.3v15.8h0.2v-7.9h0.2v15.8h0.3v-23.7h0.3v15.8h0.2v-7.9h1v-7.9h0.5v15.8h0.5v-15.8h0.2v7.9h0.3v7.9h0.3v-15.8h0.2v15.8h0.8v-15.8h0.2v15.8h0.2v-15.8h0.6v7.9h0.2v-7.9h0.2v7.9h0.3v-7.9h0.5v15.8h0.2v-7.9h0.3v7.9h0.3v-7.9h0.2v15.8h0.2v-15.8h0.3v-7.9h0.5v7.9h0.2v7.9h0.3v-15.8h0.7v15.8h0.6v-7.9h0.2v-7.9h0.5v7.9h0.5v7.9h0.2v-15.8h0.3v7.9h0.3v7.9h0.2v-7.9h0.5v7.9h0.3v-23.7h0.2v15.8h0.2v-15.8h0.3v7.9h0.7v15.8h0.8v-15.8h0.5v15.8h0.5v-15.8h0.2v-7.9h0.3v15.8h0.5v7.9h0.2v-15.8h0.8v15.8h0.2v-7.9h0.3v7.9h0.3v-7.9h0.4v7.9h0.3v-15.8h0.3v15.8h0.2v-23.7h0.2v7.9h0.3v7.9h0.3v-7.9h0.4v15.8h0.3v-15.8h0.3v-7.9h0.2v23.7h0.5v-15.8h0.3v7.9h0.4v7.9h0.6v-15.8h0.4v23.7h0.3v-23.7h0.3v15.8h0.2v-7.9h0.5v15.8h0.3v-23.7h0.2v15.8h0.2v-7.9h0.6v-7.9h0.7v7.9h0.3v7.9h0.7v-7.9h0.3v15.8h0.2v-23.7h0.2v7.9h0.3v7.9h0.3v-7.9h0.2v-7.9h0.2v-7.9h0.3v23.7h0.5v-7.9h0.8v7.9h0.4v-7.9h0.6v7.9h0.4v-23.7h0.6v23.7h0.2v-7.9h0.2v7.9h0.8v-15.8h0.2v15.8h0.3v-15.8h0.3v15.8h0.2v-15.8h0.5v15.8h0.7v-15.8h0.3v7.9h0.3v-7.9h0.4v7.9h1v15.8h0.3v-23.7h0.3v15.8h0.2v7.9h0.2v-7.9h0.3v-15.8h0.3v7.9h1v7.9h0.2v-15.8h0.2v15.8h0.3v-15.8h0.3v23.7h0.2v-15.8h0.2v7.9h0.6v7.9h0.4v-15.8h0.8v7.9h0.2v15.8h0.3v-23.7h0.3v7.9h0.2v7.9h0.2v-7.9h0.3v7.9h0.5v-7.9h0.2v7.9h0.3v-15.8h0.3v7.9h0.2v-7.9h0.5v23.7h0.3v-7.9h0.4v-7.9h0.3v7.9h0.3v7.9h0.2v-15.8h0.2v-7.9h0.3v7.9h0.3v7.9h0.2v7.9h0.2v-23.7h0.3v7.9h0.3v7.9h0.2v-7.9h0.2v7.9h0.6v7.9h0.2v-15.8h0.2v15.8h0.3v-15.8h0.3v15.8h0.2v-7.9h0.2v7.9h0.3v-15.8h0.3v15.8h0.2v7.9h0.2v-15.8h0.3v7.9h0.3v-7.9h0.2v7.9h0.5v-15.8h0.5v15.8h0.2v-7.9h0.3v-7.9h0.3v7.9h0.7v-7.9h0.3v23.7h0.2v-23.7h0.2v7.9h0.3v-7.9h0.3v15.8h0.7v7.9h0.3v-7.9h0.4v-7.9h0.3v15.8h0.3v7.9h0.2v-7.9h0.2v7.9h0.8v-15.8h0.2v7.9h0.3v15.8h0.3v-15.8h0.2v-15.8h0.2v7.9h0.3v7.9h0.3v-7.9h0.2v7.9h0.2v-7.9h0.3v15.8h0.3v-15.8h0.2v23.7h0.2v-15.8h0.3v7.9h0.3v-7.9h0.4v-7.9h0.3v7.9h0.3v-7.9h0.2v23.7h0.2v-23.7h0.3v15.8h0.5v-15.8h0.2v7.9h0.3v7.9h0.3v-23.7h0.2v15.8h0.5v-7.9h0.3v15.8h0.2v-7.9h0.5v-7.9h0.3v15.8h0.2v-7.9h0.2v-7.9h0.3v7.9h0.5v7.9h0.5v-15.8h0.5v23.7h0.2v-7.9h0.8v-15.8h0.5v7.9h0.3v-7.9h0.2v23.7h0.2v-15.8h0.3v-15.8h0.3v15.8h1v7.9h0.2v7.9h0.2v-23.7h0.3v7.9h0.3v-7.9h0.2v7.9h0.2v-15.8h0.6v23.7h0.7v-7.9h0.5v23.7h0.2v-15.8h0.6v15.8h0.2v-15.8h0.2v15.8h0.3v-31.6h0.3v23.7h0.2v-7.9h0.2v7.9h0.3v-23.7h0.5v15.8h0.2v7.9h0.3v-15.8h0.5v23.7h0.2v-31.6h0.3v23.7h0.3v-15.8h0.2v23.7h0.2v-31.6h0.3v7.9h0.5v23.7h0.2v-23.7h0.3v-7.9h0.5v23.7h0.2v-7.9h0.3v-15.8h0.3v15.8h0.2v7.9h0.2v-7.9h0.3v-15.8h0.3v23.7h0.2v-23.7h0.2v7.9h0.3v7.9h0.3v-7.9h0.2v7.9h0.2v-15.8h0.6v15.8h0.2v-23.7h0.2v7.9h0.3v23.7h0.3v-7.9h0.2v-7.9h0.2v7.9h0.3v-7.9h0.3v7.9h0.2v-7.9h0.2v15.8h0.3v-23.7h0.3v15.8h0.2v-23.7h0.2v15.8h0.3v-15.8h0.3v7.9h0.2v7.9h0.2v-7.9h0.3v15.8h0.3v7.9h0.2v-15.8h0.2v-15.8h0.3v7.9h0.7v15.8h0.3v-15.8h0.3v7.9h0.2v-7.9h0.2v7.9h0.3v7.9h0.3v-15.8h1v7.9h0.2v-15.8h0.8v15.8h0.2v-15.8h0.2v15.8h0.6v-15.8h0.2v23.7h0.2v-23.7h0.3v7.9h0.3v-7.9h0.4v7.9h0.6v7.9h0.4v-23.7h1v7.9h0.3v7.9h0.3v-15.8h0.2v15.8h0.5v-15.8h0.3v15.8h0.2v-7.9h0.2v7.9h0.3v-15.8h0.3v7.9h0.2v15.8h0.2v-23.7h0.6v15.8h0.2v-23.7h0.2v7.9h0.3v7.9h0.3v7.9h0.4v7.9h0.3v-23.7h0.3v15.8h0.2v-23.7h0.8v7.9h0.2v15.8h0.2v-7.9h0.3v-7.9h0.7v23.7h0.3v-23.7h0.3v7.9h0.2v7.9h0.2v-7.9h0.3v7.9h0.5v-23.7h0.2v15.8h0.3v-15.8h0.3v15.8h0.2v-7.9h0.2v23.7h0.3v-7.9h0.5v7.9h0.5v-7.9h0.7v-7.9h0.3v-7.9h0.3v-7.9h0.2v23.7h0.5v-7.9h0.3v7.9h0.2v-15.8h0.2v15.8h0.3v-7.9h0.3v-7.9h0.2v7.9h0.2v-23.7h0.3v31.6h0.3v-7.9h0.2v-15.8h0.2v15.8h0.3v-15.8h0.3v15.8h0.2v-23.7h0.2v15.8h0.3v-15.8h0.3v23.7h0.2v-23.7h0.2v23.7h0.3v-7.9h0.3v-7.9h0.2v7.9h0.2v-7.9h1v7.9h0.3v-7.9h0.5v7.9h0.2v7.9h0.3v-23.7h0.3v15.8h0.2v-7.9h0.2v-7.9h0.3v15.8h0.3v7.9h0.2v-15.8h0.2v-7.9h0.3v-15.8h0.3v23.7h0.2v7.9h0.2v-7.9h0.3v-15.8h0.3v7.9h0.2v15.8h0.2v-15.8h0.3v-7.9h0.3v15.8h0.4v-7.9h0.3v-7.9h0.3v7.9h0.2v-7.9h0.2v15.8h0.3v7.9h0.3v-23.7h0.2v7.9h0.5v7.9h0.3v7.9h0.4v-7.9h0.3v-7.9h0.3v-7.9h0.2v7.9h0.8v15.8h0.2v-7.9h0.2v7.9h0.3v-23.7h0.3v23.7h0.2v-23.7h0.2v15.8h0.3v7.9h0.3v-15.8h0.7v15.8h0.3v-7.9h0.2v7.9h0.2v-23.7h0.3v15.8h0.5v7.9h0.2v-7.9h0.6v-15.8h0.2v15.8h0.2v-23.7h0.3v15.8h0.3v-15.8h0.2v23.7h0.2v-23.7h0.3v23.7h0.3v-15.8h0.2v7.9h0.2v-15.8h0.3v15.8h0.3v7.9h0.2v-7.9h0.2v7.9h0.6v-31.6h0.2v15.8h0.5v-7.9h0.3v7.9h0.2v7.9h0.2v-7.9h0.6v7.9h0.4v-7.9h0.3v7.9h0.3v-7.9h0.2v-15.8h0.5v23.7h0.3v-15.8h0.2v-7.9h0.5v15.8h0.5v-7.9h0.5v7.9h0.3v7.9h0.2v-23.7h0.8v15.8h0.2v7.9h0.2v-15.8h0.3v-7.9h0.3v23.7h0.2v-23.7h0.2v23.7h0.3v-7.9h0.5v15.8h0.2v-15.8h0.3v7.9h0.3v-7.9h0.2v15.8h0.2v-15.8h0.3v-15.8h0.7v23.7h1v-7.9h0.8v-15.8h0.2v15.8h0.3v-15.8h0.3v23.7h0.2v-23.7h0.2v-7.9h0.3v15.8h0.5v-7.9h0.5v23.7h0.3v-23.7h0.2v23.7h0.2v-23.7h0.3v23.7h0.3v-15.8h0.2v15.8h0.2v-15.8h0.3v15.8h0.3v-23.7h0.2v15.8h0.2v-7.9h0.3v7.9h0.3v7.9h0.2v-7.9h0.5v-15.8h0.3v23.7h0.2v-7.9h0.2v7.9h0.6v-7.9h0.2v-15.8h0.8v7.9h0.2v15.8h0.2v-15.8h0.3v-7.9h0.5v15.8h0.2v-15.8h0.6v23.7h0.2v-23.7h0.2v23.7h0.8v-15.8h0.2v-7.9h0.3v7.9h0.3v7.9h0.2v-15.8h1v7.9h0.2v-15.8h0.8v15.8h0.2v-15.8h0.3v15.8h0.3v-15.8h0.2v7.9h0.2v-7.9h0.3v15.8h0.3v-15.8h0.2v23.7h0.2v-15.8h0.3v-7.9h0.3v15.8h0.2v-15.8h0.5v7.9h0.7v-7.9h1v7.9h0.6v7.9h0.2v-15.8h0.2v-7.9h0.3v15.8h0.7v15.8h0.3v-15.8h0.3v15.8h0.2v7.9h0.2v-23.7h0.3v7.9h0.3v15.8h0.2v-15.8h0.2v15.8h0.3v-23.7h0.5v7.9h0.2v23.7h0.3v-15.8h0.3v-7.9h0.2v23.7h0.2v-7.9h0.6v-15.8h0.2v15.8h0.2v-15.8h0.3v15.8h0.5v-15.8h0.2v-7.9h0.3v7.9h0.5v15.8h1v-15.8h0.5v-7.9h0.3v23.7h0.2v7.9h0.2v-15.8h0.3v7.9h0.3v-15.8h0.2v23.7h0.2v-23.7h0.3v7.9h0.5v-7.9h0.2v7.9h0.3v-7.9h0.3v23.7h0.2v-7.9h0.5v-15.8h0.3v15.8h0.2v7.9h0.2v-15.8h0.3v-15.8h0.3v23.7h0.2v-7.9h0.2v-15.8h0.3v15.8h0.3v7.9h0.2v-7.9h0.2v15.8h0.6v-7.9h0.2v7.9h0.2v-7.9h0.3v7.9h0.3v-7.9h0.2v-7.9h0.2v7.9h0.3v15.8h0.3v-31.6h0.2v23.7h0.2v-15.8h0.3v7.9h0.3v15.8h0.2v-15.8h0.2v-15.8h0.3v15.8h0.7v7.9h0.3v7.9h0.3v-15.8h0.4v7.9h0.3v7.9h0.3v-7.9h0.2v7.9h0.2v-15.8h0.3v-7.9h0.3v15.8h0.2v-7.9h0.8v-7.9h0.2v31.6h0.2v-7.9h0.3v-15.8h0.3v-7.9h0.2v7.9h0.2v-7.9h0.3v23.7h0.3v-7.9h0.4v7.9h0.3v7.9h0.5v-15.8h0.2v7.9h0.3v7.9h0.3v-15.8h0.2v7.9h0.2v7.9h1v7.9h0.3v-23.7h0.3v23.7h0.2v7.9h0.2v-23.7h0.3v7.9h0.5v7.9h0.5v-7.9h0.3v7.9h0.2v-7.9h0.2v15.8h0.3v-23.7h0.3v7.9h0.7v-7.9h0.3v7.9h0.7v-15.8h0.3v31.6h0.4v-15.8h0.3v7.9h0.5v-7.9h0.2v-7.9h0.6v7.9h0.2v15.8h0.2v-15.8h0.6v7.9h0.2v-7.9h0.2v15.8h0.8v-23.7h0.2v7.9h0.6v15.8h0.2v-7.9h0.5v15.8h0.3v-7.9h0.4v-15.8h0.6v15.8h0.4v-7.9h0.6v-15.8h0.2v23.7h0.2v-15.8h0.6v7.9h0.4v23.7h0.6v-7.9h0.4v-15.8h0.3v-7.9h0.3v31.6h0.2v-23.7h0.2v-7.9h0.8v7.9h0.2v7.9h0.3v-15.8h0.3v23.7h0.2v-7.9h0.5v-7.9h0.3v7.9h0.2v-7.9h0.2v7.9h0.3v-15.8h0.5v15.8h0.5v-7.9h0.3v15.8h0.4v-23.7h0.3v7.9h0.5v7.9h0.2v-7.9h0.3v-15.8h0.3v31.6h0.2v-31.6h0.2v15.8h0.3v-15.8h0.3v23.7h0.2v7.9h0.2v-15.8h0.3v7.9h0.3v-7.9h0.2v7.9h0.5v-7.9h0.3v7.9h0.2v-15.8h0.5v7.9h0.3v-7.9h0.2v7.9h0.2v7.9h0.3v-7.9h0.3v-7.9h0.2v-15.8h0.8v23.7h0.2v-7.9h0.5v-15.8h0.3v15.8h0.2v-23.7h0.2v23.7h0.3v7.9h0.3v-31.6h0.2v15.8h0.2v15.8h0.3v-7.9h0.3v-7.9h0.2v-7.9h0.2v-7.9h0.8v7.9h0.2v7.9h0.6v-7.9h0.2v15.8h0.2v-15.8h0.3v7.9h0.3v-7.9h0.2v7.9h0.2v7.9h0.3v-7.9h0.3v-15.8h0.2v15.8h0.2v-23.7h0.6v31.6h0.4v-7.9h0.3v-23.7h0.3v23.7h0.2v-7.9h1v15.8h0.2v-7.9h0.6v-23.7h0.2v23.7h0.2v-23.7h1v7.9h0.6v-15.8h0.4v23.7h0.3v-7.9h0.5v7.9h0.2v-15.8h0.3v-7.9h0.3v23.7h0.2v-23.7h0.2v23.7h0.3v-15.8h0.3v15.8h0.2v-7.9h0.5v-15.8h0.3v7.9h0.2v-15.8h0.2v7.9h0.3v7.9h0.3v-7.9h0.2v23.7h0.2v-23.7h0.6v7.9h0.2v-7.9h0.2v7.9h0.3v-15.8h0.3v31.6h0.2v-15.8h0.5v-7.9h0.3v15.8h0.2v-23.7h0.2v7.9h0.3v15.8h0.3v-23.7h0.2v7.9h0.2v7.9h0.3v-7.9h0.3v-7.9h0.2v-7.9h0.2v7.9h0.3v7.9h0.3v15.8h0.2v-7.9h0.2v-7.9h0.6v7.9h0.4v-7.9h0.3v7.9h0.3v-15.8h0.2v7.9h0.2v7.9h0.3v-23.7h0.5v15.8h0.2v-7.9h0.6v-7.9h0.2v-7.9h0.2v15.8h0.3v7.9h0.3v-7.9h0.2v-7.9h0.2v15.8h0.3v-15.8h0.3v7.9h0.2v-7.9h0.5v-7.9h0.3v31.6h0.2v-31.6h0.5v15.8h0.3v-7.9h0.2v15.8h0.5v-15.8h0.3v15.8h0.2v-7.9h0.2v7.9h1.3v-23.7h0.3v7.9h0.2v-7.9h0.8v23.7h0.2v-23.7h0.5v23.7h0.3v-23.7h0.2v23.7h0.2v-15.8h0.3v-7.9h0.5v15.8h0.2v-15.8h0.3v7.9h0.5v15.8h0.5v-7.9h0.3v-15.8h0.2v15.8h0.2v-7.9h0.8v-7.9h0.2v7.9h0.3v-7.9h0.3v-7.9h0.4v7.9h0.3v15.8h0.7v-15.8h0.3v15.8h0.5v-7.9h0.8v-7.9h0.2v15.8h0.2v-23.7h0.3v15.8h0.7v7.9h0.3v-15.8h0.3v7.9h0.2v7.9h0.2v-7.9h0.3v-7.9h0.5v7.9h0.2v-15.8h0.3v31.6h0.3v-15.8h0.2v15.8h0.5v-15.8h0.3v-7.9h0.2v23.7h0.5v-7.9h1v-15.8h0.3v23.7h0.2v-15.8h0.2v23.7h0.3v-15.8h0.5v7.9h0.2v-7.9h0.3v-15.8h0.3v23.7h0.2v7.9h0.2v-23.7h0.3v7.9h0.3v-15.8h0.2v7.9h0.2v23.7h0.3v-7.9h0.5v7.9h0.2v-15.8h0.3v15.8h0.3v-23.7h0.2v7.9h0.2v7.9h0.3v-7.9h0.3v7.9h0.4v15.8h0.3v-23.7h0.5v7.9h0.2v-7.9h0.3v15.8h0.3v7.9h0.4v-7.9h0.3v7.9h0.7v-15.8h0.3v7.9h0.7v7.9h0.3v-7.9h0.5v7.9h0.2v7.9h0.3v7.9h0.3v-23.7h0.2v7.9h0.2v15.8h0.3v-23.7h0.3v23.7h0.2v-7.9h0.2v-15.8h0.3v7.9h0.3v7.9h0.2v7.9h0.2v-15.8h0.3v15.8h0.3v-15.8h0.7v15.8h0.3v-15.8h0.2v7.9h0.2v15.8h0.3v-7.9h0.5v-7.9h0.2v-15.8h0.3v23.7h0.3v-15.8h0.2v7.9h0.2v7.9h0.8v-15.8h0.2v15.8h0.6v-7.9h0.2v-7.9h0.8v23.7h0.2v-23.7h0.2v15.8h0.3v7.9h0.3v-15.8h0.2v7.9h0.2v-15.8h0.3v15.8h0.3v-23.7h0.2v7.9h0.5v15.8h0.3v-23.7h0.2v15.8h0.2v-7.9h0.3v-7.9h0.3v31.6h0.2v-31.6h0.2v31.6h0.3v-7.9h0.3v-15.8h0.2v7.9h0.2v15.8h0.3v-23.7h0.7v7.9h0.3v-15.8h0.3v-7.9h0.2v15.8h0.2v7.9h0.6v-15.8h0.2v7.9h0.5v15.8h0.3v-23.7h0.2v15.8h0.5v7.9h0.3v-15.8h0.2v7.9h0.2v-23.7h0.3v15.8h0.3v-7.9h0.2v-7.9h0.2v15.8h0.3v7.9h0.3v7.9h0.4v-7.9h0.3v-15.8h0.3v23.7h0.2v-15.8h0.2v-7.9h0.6v23.7h0.2v-23.7h0.8v7.9h0.4v-7.9h0.3v15.8h0.3v-7.9h0.4v-15.8h0.3v15.8h0.3v-15.8h0.2v15.8h0.2v-15.8h0.6v15.8h0.2v-15.8h0.2v7.9h0.3v7.9h0.7v-7.9h0.3v7.9h0.3v-23.7h0.2v31.6h0.8v-23.7h0.2v-7.9h0.2v23.7h0.6v-7.9h0.7v-7.9h0.7v7.9h0.3v-7.9h0.3v-7.9h0.2v23.7h0.2v-31.6h0.3v15.8h0.5v7.9h0.2v-7.9h0.3v7.9h0.3v-15.8h0.4v15.8h0.3v-7.9h0.3v-31.6h0.2v23.7h0.2v-7.9h0.8v7.9h0.2v-7.9h0.3v7.9h0.5v-7.9h0.2v7.9h0.3v-7.9h0.3v7.9h0.2v7.9h0.2v-23.7h0.3v15.8h0.3v-7.9h0.2v7.9h0.2v-7.9h0.3v7.9h0.3v-15.8h0.2v7.9h0.2v7.9h0.3v-7.9h0.7v-7.9h0.3v23.7h0.5v-15.8h0.2v15.8h0.3v-7.9h0.3v-23.7h0.2v7.9h1v7.9h0.2v-15.8h0.3v15.8h0.3v15.8h0.2v-15.8h0.2v7.9h0.3v-15.8h0.3v7.9h0.2v-7.9h0.5v15.8h0.3v-23.7h0.2v31.6h0.2v-15.8h0.3v7.9h0.5v-15.8h0.2v-7.9h0.3v15.8h0.7v15.8h0.3v-15.8h0.3v-7.9h0.2v7.9h0.2v-7.9h0.3v7.9h1v15.8h0.5v-7.9h0.2v7.9h0.3v-15.8h0.3v7.9h0.2v7.9h0.2v-7.9h0.6v7.9h0.2v-15.8h0.5v15.8h0.5v-7.9h0.2v7.9h0.3v-7.9h0.3v15.8h0.2v-15.8h0.2v15.8h0.3v-7.9h0.3v-15.8h0.2v7.9h0.2v7.9h0.3v-23.7h0.3v23.7h0.2v-7.9h0.2v7.9h0.3v7.9h0.3v-15.8h0.2v7.9h0.2v-7.9h0.3v15.8h0.5v7.9h0.2v-7.9h0.3v7.9h0.5v-23.7h0.2v15.8h0.3v7.9h0.5v-7.9h0.2v7.9h0.3v-15.8h0.5v15.8h0.2v7.9h0.3v-15.8h1v-7.9h0.3v15.8h0.4v-7.9h0.3v-7.9h0.3v7.9h0.4v23.7h0.3v-15.8h0.5v-7.9h0.2v-7.9h0.3v23.7h0.3v-15.8h0.4v23.7h0.3v-15.8h0.3v7.9h0.2v-7.9h0.5v15.8h0.5v-23.7h0.2v15.8h0.3v-15.8h0.3v23.7h0.2v-15.8h1v15.8h0.2v-23.7h0.3v15.8h0.5v-7.9h0.2" fill="none" stroke="#14a8a2" stroke-width="2.0" stroke-linejoin="miter" stroke-miterlimit="2"/>
<path d="M78.5,1585.4h0.3v-7.9h0.2v15.8h0.5v-7.9h0.3v7.9h0.2v-7.9h0.2v-7.9h0.6v7.9h0.2v7.9h0.2v-7.9h0.6v7.9h0.2v-15.8h0.2v15.8h0.3v-23.7h0.3v23.7h0.4v-23.7h0.3v15.8h0.3v-7.9h0.2v7.9h0.5v-7.9h0.3v15.8h0.2v-15.8h0.5v15.8h0.5v-15.8h0.5v-7.9h0.3v7.9h0.2v7.9h0.2v-7.9h0.6v7.9h0.2v-15.8h0.5v7.9h0.5v15.8h0.2v-15.8h0.3v7.9h0.3v7.9h0.2v-15.8h0.2v15.8h0.3v-7.9h0.3v7.9h0.2v-15.8h0.2v15.8h0.3v-7.9h0.5v-7.9h0.2v15.8h0.3v-7.9h0.3v-7.9h0.4v15.8h0.3v-7.9h0.3v-7.9h0.2v15.8h0.2v-7.9h0.6v7.9h0.2v-7.9h0.5v7.9h0.3v-15.8h0.2v7.9h0.5v15.8h0.3v-23.7h0.2v-7.9h0.2v31.6h0.3v-15.8h0.3v-7.9h0.2v15.8h0.8v-15.8h0.2v15.8h0.2v-15.8h0.3v7.9h0.3v-7.9h0.2v15.8h0.2v-15.8h0.3v15.8h0.5v-15.8h0.5v7.9h0.5v7.9h0.5v-23.7h0.3v23.7h0.2v-7.9h0.2v7.9h0.3v-15.8h0.3v15.8h0.4v-15.8h0.3v15.8h0.3v-15.8h0.4v7.9h0.6v-7.9h0.4v7.9h0.3v-7.9h0.3v15.8h0.2v-7.9h0.5v7.9h0.3v-7.9h0.2v-7.9h0.2v7.9h0.8v-7.9h0.2v15.8h0.3v-7.9h0.3v15.8h0.2v-15.8h0.5v-7.9h0.3v15.8h0.2v-15.8h0.2v7.9h0.6v-7.9h0.2v7.9h0.2v7.9h0.6v-7.9h0.2v-7.9h0.5v15.8h0.3v-7.9h0.4v15.8h0.3v-15.8h1v7.9h0.3v-7.9h0.7v7.9h0.3v-7.9h0.4v7.9h0.6v-15.8h0.7v7.9h0.3v7.9h0.2v-15.8h1.2v7.9h0.6v-7.9h0.2v15.8h0.2v-7.9h0.3v-7.9h0.5v7.9h0.8v7.9h0.4v-15.8h0.3v15.8h0.3v-15.8h0.2v15.8h0.5v-7.9h0.3v-7.9h0.2v7.9h0.5v-7.9h0.3v7.9h0.2v7.9h0.2v-7.9h0.6v-7.9h0.2v-7.9h0.2v31.6h0.3v-7.9h0.3v-15.8h0.4v7.9h0.6v7.9h0.4v-7.9h0.3v-7.9h0.3v15.8h0.2v-15.8h0.8v7.9h0.2v-7.9h0.5v7.9h0.3v7.9h0.2v-15.8h0.2v7.9h0.3v7.9h0.3v-7.9h0.4v7.9h0.3v-15.8h1v7.9h0.3v-7.9h0.2v-7.9h0.2v23.7h0.3v-7.9h0.5v-7.9h0.2v7.9h1v-7.9h0.3v7.9h0.5v-15.8h0.5v15.8h0.3v-15.8h0.2v23.7h0.2v-15.8h0.3v7.9h0.3v-15.8h0.4v7.9h1v7.9h0.3v7.9h0.3v-7.9h0.2v-7.9h0.2v7.9h0.3v15.8h0.3v-15.8h0.2v15.8h0.2v-7.9h0.3v-15.8h0.5v15.8h0.2v-7.9h0.6v-7.9h0.4v15.8h0.3v-7.9h0.3v-7.9h0.2v15.8h0.5v7.9h0.3v-15.8h0.2v15.8h0.2v-23.7h0.3v15.8h0.3v-15.8h0.2v15.8h0.2v7.9h0.3v-23.7h0.3v7.9h0.4v-7.9h0.3v15.8h0.3v-15.8h0.2v15.8h0.2v-15.8h0.6v15.8h0.2v-15.8h0.5v7.9h0.3v-7.9h0.2v15.8h0.2v-23.7h0.3v23.7h0.3v-23.7h0.2v7.9h0.5v7.9h0.3v-7.9h0.2v15.8h0.2v-15.8h0.6v15.8h0.2v-15.8h0.5v7.9h0.3v7.9h0.2v-15.8h0.2v15.8h0.3v-7.9h1v7.9h0.3v-15.8h0.2v23.7h0.8v-7.9h0.7v-7.9h0.3v-7.9h0.4v7.9h0.3v-7.9h0.3v7.9h0.4v-7.9h0.3v-7.9h0.3v15.8h0.4v-15.8h0.6v7.9h0.2v-7.9h0.5v7.9h0.5v-7.9h0.2v7.9h0.3v-7.9h0.3v7.9h0.7v15.8h0.7v-23.7h0.3v7.9h0.5v7.9h0.2v7.9h0.3v-7.9h0.3v-7.9h0.4v15.8h0.6v-15.8h0.2v15.8h0.8v-15.8h0.2v15.8h0.2v-7.9h0.3v7.9h0.3v-15.8h0.2v7.9h0.8v-7.9h0.2v15.8h0.5v-7.9h0.3v-7.9h0.2v7.9h0.2v7.9h0.3v-15.8h0.3v15.8h0.4v-15.8h0.3v7.9h0.3v7.9h0.4v-15.8h0.3v-7.9h0.3v23.7h0.4v-15.8h0.3v15.8h0.3v-7.9h0.4v7.9h0.3v-7.9h0.3v-7.9h0.4v7.9h0.3v-7.9h0.3v15.8h0.2v-15.8h0.5v7.9h0.3v7.9h0.4v-7.9h0.3v-7.9h0.3v-7.9h0.2v7.9h0.2v7.9h0.3v7.9h0.3v-15.8h0.4v15.8h0.6v-15.8h0.2v15.8h0.8v-7.9h0.4v7.9h0.8v-7.9h0.2v-7.9h0.6v7.9h0.2v7.9h0.5v7.9h0.3v-23.7h0.2v7.9h0.2v-7.9h0.6v15.8h0.2v7.9h0.2v-7.9h0.3v-7.9h0.3v7.9h0.7v-15.8h0.3v7.9h0.4v7.9h0.6v-15.8h0.2v7.9h0.2v7.9h0.3v-15.8h0.3v-7.9h0.2v15.8h0.5v-7.9h0.3v7.9h0.2v7.9h0.2v-15.8h0.6v15.8h0.2v-7.9h0.2v-7.9h0.3v15.8h0.5v-7.9h0.2v-7.9h0.3v-7.9h0.3v15.8h0.4v-7.9h0.3v-7.9h0.3v15.8h0.2v-7.9h0.5v7.9h0.3v-15.8h0.2v7.9h0.2v7.9h0.3v-15.8h0.3v7.9h0.2v-7.9h0.2v15.8h0.3v-15.8h0.3v23.7h0.2v-23.7h0.2v23.7h0.3v-15.8h0.5v7.9h0.2v-7.9h0.3v15.8h0.3v-15.8h0.4v15.8h0.3v-15.8h0.3v7.9h0.2v-15.8h0.2v15.8h0.3v-7.9h0.3v-7.9h0.2v23.7h0.2v-7.9h0.3v-7.9h0.3v7.9h0.7v7.9h0.3v-15.8h0.2v7.9h0.2v7.9h0.3v-15.8h0.5v15.8h0.2v-7.9h0.3v7.9h0.3v-23.7h0.2v23.7h0.2v-15.8h0.3v15.8h0.3v-7.9h0.4v-7.9h0.3v7.9h0.3v-7.9h0.2v7.9h0.2v-7.9h1.6v7.9h0.4v7.9h0.3v-15.8h0.5v-7.9h0.2v7.9h0.3v15.8h0.5v-7.9h0.2v-15.8h0.3v7.9h0.5v7.9h0.2v-7.9h0.3v15.8h0.3v-7.9h0.2v-7.9h0.2v15.8h0.3v-7.9h2v-7.9h0.5v15.8h0.8v-23.7h0.2v7.9h0.2v7.9h0.3v-7.9h0.3v7.9h0.4v-7.9h0.3v7.9h0.3v-7.9h0.2v7.9h0.5v-7.9h0.3v7.9h0.2v7.9h0.8v-15.8h1v15.8h0.4v-15.8h0.6v15.8h0.2v-7.9h0.5v-7.9h0.5v7.9h0.5v-15.8h0.3v7.9h0.2v7.9h0.8v-7.9h0.2v7.9h0.2v7.9h0.6v-7.9h0.2v-7.9h0.2v7.9h0.3v-7.9h0.7v7.9h0.3v7.9h0.3v-7.9h0.2v7.9h0.2v-15.8h0.3v15.8h0.3v-15.8h0.2v15.8h0.8v-7.9h0.2v-7.9h0.5v15.8h0.3v-15.8h0.2v7.9h0.2v-7.9h0.3v-7.9h0.3v7.9h0.2v7.9h0.5v-7.9h0.5v15.8h0.2v-7.9h0.3v-7.9h0.3v7.9h0.4v-15.8h0.6v15.8h0.4v7.9h0.6v-15.8h0.2v-7.9h0.2v7.9h0.6v-7.9h0.2v15.8h0.2v-7.9h0.3v7.9h0.3v-15.8h0.2v15.8h0.5v7.9h0.3v-23.7h0.2v7.9h0.2v7.9h0.8v-15.8h0.5v23.7h0.5v-23.7h0.2v15.8h0.6v-15.8h0.2v7.9h0.2v-7.9h0.3v7.9h1v7.9h0.3v-15.8h0.4v7.9h0.3v7.9h0.3v-7.9h0.2v15.8h0.2v-7.9h0.3v-7.9h0.3v15.8h0.4v-15.8h0.3v15.8h0.5v-7.9h0.5v-7.9h0.7v7.9h0.6v-7.9h0.2v7.9h0.2v7.9h0.6v-7.9h0.4v-7.9h0.3v15.8h0.5v-7.9h0.2v15.8h0.3v-15.8h0.3v-7.9h0.2v15.8h0.2v7.9h0.3v-15.8h0.3v-7.9h0.2v7.9h0.2v-7.9h0.3v15.8h0.3v-7.9h0.4v15.8h0.3v-15.8h0.3v7.9h0.7v-15.8h0.3v15.8h0.2v-7.9h0.2v7.9h0.3v7.9h0.3v-15.8h0.2v-7.9h0.2v15.8h0.3v-15.8h0.3v15.8h0.2v-15.8h0.2v23.7h0.3v-7.9h0.3v-7.9h0.4v-7.9h0.8v-7.9h0.2v23.7h0.3v-7.9h0.7v-15.8h0.3v7.9h0.3v-7.9h0.4v7.9h0.3v7.9h0.3v7.9h0.2v-7.9h0.2v-15.8h0.3v7.9h0.3v15.8h0.2v-7.9h0.2v-7.9h0.6v15.8h0.4v-15.8h0.3v7.9h0.3v7.9h0.2v7.9h0.5v-15.8h0.3v15.8h0.2v-7.9h0.2v-7.9h0.3v7.9h0.3v-7.9h1v15.8h0.2v7.9h0.2v-23.7h0.3v15.8h0.3v-7.9h0.2v7.9h0.2v-7.9h0.3v-7.9h0.3v7.9h0.2v-7.9h0.2v7.9h0.3v7.9h0.5v-7.9h0.5v-7.9h0.5v15.8h0.2v-7.9h0.3v7.9h0.5v-7.9h0.2v7.9h0.6v-15.8h0.2v7.9h0.2v-7.9h0.8v23.7h0.2v-7.9h0.3v-7.9h0.3v15.8h0.2v-7.9h0.2v-15.8h0.3v23.7h0.3v-15.8h0.7v7.9h0.3v-7.9h0.2v15.8h0.2v-7.9h0.3v-7.9h0.3v15.8h0.2v7.9h0.2v-15.8h0.3v7.9h0.5v-15.8h0.2v23.7h0.3v-7.9h0.5v-7.9h0.5v7.9h0.5v7.9h1.2v-15.8h0.8v15.8h0.2v-7.9h0.6v7.9h0.2v-23.7h0.2v15.8h0.3v-7.9h0.5v7.9h0.2v-7.9h0.6v15.8h0.4v-15.8h0.6v15.8h0.2v-7.9h0.2v7.9h0.3v-7.9h0.3v7.9h0.4v-15.8h0.3v15.8h1v7.9h0.3v-15.8h0.2v15.8h0.2v-7.9h0.8v-15.8h0.2v23.7h0.3v-15.8h0.3v15.8h0.4v-7.9h0.3v-15.8h0.3v15.8h0.2v-15.8h0.2v23.7h0.3v-7.9h0.3v-7.9h0.7v7.9h0.3v-7.9h0.4v15.8h0.3v-7.9h0.3v7.9h0.4v-7.9h0.3v7.9h0.3v-7.9h0.2v7.9h0.2v7.9h0.3v-7.9h0.3v7.9h0.2v-15.8h0.2v7.9h0.6v-23.7h0.2v15.8h0.2v-7.9h0.3v-7.9h0.3v23.7h0.2v-15.8h0.2v-7.9h0.3v7.9h1v7.9h0.3v-15.8h0.2v15.8h0.2v7.9h0.3v-15.8h0.3v7.9h0.4v7.9h0.3v-7.9h0.3v-15.8h0.4v7.9h0.3v15.8h0.5v-15.8h0.2v7.9h0.3v7.9h0.5v-7.9h0.5v7.9h0.7v7.9h0.3v-7.9h0.3v15.8h0.2v-15.8h0.2v7.9h0.3v-15.8h0.3v23.7h0.2v-7.9h0.8v-23.7h0.4v7.9h0.6v-7.9h0.2v15.8h0.2v-7.9h0.3v15.8h0.3v-23.7h0.2v23.7h0.5v-7.9h0.3v-15.8h0.2v15.8h0.5v7.9h0.3v-23.7h0.2v15.8h0.2v-7.9h0.3v15.8h0.3v-15.8h0.2v23.7h0.2v-23.7h0.6v15.8h0.2v-7.9h1v15.8h0.8v7.9h0.2v-23.7h0.2v7.9h0.6v-15.8h0.2v7.9h0.2v-7.9h0.6v7.9h0.2v15.8h0.2v-15.8h0.3v-7.9h0.3v7.9h0.2v15.8h0.2v-15.8h0.3v7.9h0.5v-7.9h0.2v23.7h0.3v-7.9h0.5v-7.9h0.5v7.9h0.7v7.9h0.3v-15.8h0.3v-7.9h0.2v15.8h0.5v-15.8h0.3v15.8h0.4v7.9h0.6v-15.8h0.2v7.9h0.2v-7.9h0.3v-15.8h0.5v31.6h0.2v-23.7h0.3v7.9h0.3v7.9h0.2v7.9h0.2v-31.6h0.3v31.6h0.3v-7.9h0.2v-15.8h0.2v15.8h0.6v-15.8h0.2v7.9h1.5v-7.9h0.5v7.9h0.2v-7.9h0.3v15.8h0.3v-15.8h0.2v15.8h0.2v-23.7h0.3v7.9h0.3v7.9h0.4v7.9h0.3v-7.9h0.3v-7.9h0.2v15.8h0.2v-15.8h0.3v15.8h0.3v-23.7h0.4v7.9h0.6v7.9h0.4v7.9h0.3v-15.8h0.3v15.8h0.2v-7.9h0.2v-7.9h0.6v15.8h0.2v-7.9h0.2v-7.9h0.3v7.9h0.3v-7.9h0.2v15.8h0.2v-7.9h0.3v-15.8h0.7v23.7h0.8v-23.7h0.2v15.8h0.3v7.9h0.5v-7.9h0.2v-7.9h0.3v15.8h0.3v7.9h0.2v-31.6h0.2v7.9h0.3v7.9h0.3v-15.8h0.2v23.7h0.2v-15.8h0.6v7.9h0.2v15.8h0.2v-23.7h0.3v15.8h0.3v-7.9h0.2v-15.8h0.2v15.8h0.3v-15.8h0.3v15.8h0.7v-7.9h0.3v-7.9h0.2v23.7h0.2v-15.8h0.3v-15.8h0.3v15.8h0.2v7.9h0.5v7.9h0.3v-15.8h0.2v-7.9h0.2v7.9h0.3v15.8h0.3v-23.7h0.4v15.8h0.3v-15.8h0.5v7.9h0.2v15.8h0.6v-15.8h0.2v15.8h0.2v-23.7h0.3v23.7h0.3v-23.7h0.2v15.8h0.5v-7.9h0.3v15.8h0.2v-15.8h0.5v15.8h0.3v-15.8h0.4v7.9h0.3v-7.9h0.5v-7.9h0.2v7.9h0.3v7.9h0.3v-7.9h0.2v7.9h0.2v7.9h0.3v-7.9h0.3v7.9h0.2v-15.8h0.2v-7.9h0.3v7.9h0.3v15.8h0.4v-7.9h0.3v-15.8h0.3v15.8h0.2v-15.8h0.2v23.7h0.6v-7.9h0.2v-15.8h0.2v23.7h0.3v-23.7h0.5v15.8h0.2v-7.9h0.3v15.8h0.3v-23.7h0.2v23.7h0.2v-23.7h0.6v15.8h0.2v-15.8h0.2v15.8h0.3v-15.8h0.5v7.9h0.2v-7.9h0.3v-7.9h0.5v7.9h0.2v-7.9h0.3v7.9h0.3v-7.9h0.4v-7.9h0.3v-7.9h0.3v31.6h0.2v-23.7h0.2v23.7h0.6v-15.8h0.4v7.9h0.3v-7.9h0.3v15.8h0.2v-23.7h0.2v23.7h0.3v-15.8h0.3v-15.8h0.2v23.7h0.5v-15.8h0.5v7.9h0.2v-15.8h0.3v15.8h0.3v-7.9h0.2v-7.9h0.2v23.7h0.3v-15.8h0.3v15.8h0.2v-31.6h0.2v7.9h0.3v7.9h0.3v-15.8h0.2v7.9h0.5v15.8h0.5v-15.8h0.2v7.9h0.3v-15.8h0.3v23.7h0.7v-15.8h0.3v15.8h0.2v-15.8h0.2v15.8h0.6v-15.8h0.2v7.9h0.2v7.9h1.3v-23.7h0.3v7.9h0.2v7.9h0.5v7.9h0.7v-23.7h0.3v15.8h0.3v15.8h0.2v-7.9h0.2v-7.9h0.3v-15.8h0.3v7.9h0.4v7.9h0.3v-7.9h0.3v7.9h0.4v-7.9h0.3v-7.9h0.7v15.8h0.3v-7.9h0.3v-23.7h0.2v23.7h0.2v-7.9h0.3v15.8h0.3v-15.8h0.2v15.8h0.2v7.9h0.3v-23.7h0.7v7.9h0.3v7.9h0.3v-15.8h0.2v15.8h0.2v-15.8h0.6v15.8h0.2v-7.9h0.2v-15.8h0.6v23.7h0.2v-15.8h0.2v15.8h0.3v-15.8h0.3v15.8h0.4v-7.9h0.3v7.9h0.3v-23.7h0.2v7.9h0.5v-7.9h0.7v15.8h0.3v-7.9h0.5v7.9h0.2v-7.9h0.3v-7.9h0.3v23.7h0.4v-23.7h0.3v23.7h0.5v-7.9h0.2v-7.9h0.3v7.9h0.3v7.9h0.2v-23.7h0.2v-7.9h0.3v7.9h0.3v23.7h0.2v-23.7h0.2v23.7h0.3v-7.9h0.3v-7.9h0.4v-7.9h0.3v15.8h0.3v-7.9h0.4v7.9h0.3v-7.9h0.5v-23.7h0.2v15.8h0.6v15.8h0.2v-31.6h0.5v7.9h0.3v15.8h0.2v-15.8h0.2v23.7h0.3v-7.9h0.3v-7.9h0.2v-7.9h0.2v7.9h0.3v-7.9h0.3v23.7h0.2v-7.9h0.2v-7.9h0.3v7.9h0.3v-7.9h0.2v-15.8h0.2v7.9h0.3v15.8h0.5v-15.8h0.2v-7.9h0.3v15.8h0.3v-7.9h0.2v7.9h0.2v-7.9h0.3v7.9h0.3v-7.9h0.2v-7.9h0.2v7.9h0.3v15.8h0.7v-7.9h0.3v-7.9h0.5v7.9h0.2v-15.8h0.3v23.7h0.3v-15.8h0.2v23.7h0.2v-23.7h0.3v-7.9h0.3v15.8h0.2v-7.9h0.5v15.8h0.3v-15.8h0.2v23.7h0.2v-7.9h0.3v-7.9h0.7v-7.9h0.3v7.9h0.3v15.8h0.2v-23.7h0.2v15.8h0.6v-7.9h0.2v7.9h0.2v-15.8h0.3v15.8h0.5v-15.8h0.5v15.8h0.3v7.9h0.2v-7.9h0.2v-7.9h0.3v7.9h0.3v7.9h0.2v-15.8h0.8v15.8h0.2v-7.9h0.5v-15.8h0.3v15.8h0.2v7.9h0.2v-15.8h0.6v7.9h0.2v-7.9h0.2v7.9h0.3v7.9h0.3v-15.8h0.2v7.9h0.2v7.9h0.3v-15.8h0.3v7.9h0.2v-7.9h1v15.8h0.2v-23.7h0.3v23.7h0.3v-7.9h0.2v7.9h0.2v-7.9h0.6v-23.7h0.2v7.9h0.2v23.7h0.3v-15.8h0.5v-7.9h0.5v15.8h0.3v-23.7h0.2v15.8h0.2v-15.8h0.3v15.8h0.3v-15.8h0.7v15.8h0.3v7.9h0.2v-23.7h0.2v7.9h0.8v23.7h0.2v-15.8h0.3v7.9h0.3v-7.9h0.2v-7.9h0.2v7.9h0.3v-7.9h0.3v23.7h0.2v-15.8h0.2v-7.9h0.3v23.7h0.3v-7.9h0.2v7.9h0.5v-7.9h0.5v-7.9h0.2v23.7h0.3v-31.6h0.3v15.8h0.2v-15.8h0.2v15.8h0.3v-7.9h0.3v15.8h0.2v7.9h0.2v-31.6h0.3v7.9h0.3v7.9h0.2v-7.9h0.2v7.9h0.3v7.9h0.5v-15.8h0.2v7.9h0.3v15.8h0.7v-15.8h0.3v-7.9h0.3v15.8h0.2v7.9h0.2v-15.8h0.3v15.8h0.3v-7.9h0.2v15.8h0.2v-15.8h0.3v7.9h0.3v7.9h0.2v-7.9h0.2v7.9h0.3v-15.8h0.3v-7.9h0.2v15.8h0.2v-15.8h0.3v7.9h0.3v15.8h0.4v-7.9h0.3v-7.9h0.3v23.7h0.2v-7.9h1v-7.9h0.5v7.9h0.3v7.9h0.2v-23.7h0.2v23.7h0.3v-15.8h0.3v15.8h0.2v-15.8h0.2v-7.9h0.3v15.8h0.3v-15.8h0.2v7.9h0.2v-7.9h0.3v23.7h0.5v-23.7h0.2v7.9h0.6v23.7h0.2v-7.9h0.2v-15.8h0.3v23.7h0.3v-23.7h0.2v15.8h0.2v7.9h0.3v-15.8h0.3v-7.9h0.2v23.7h0.2v-7.9h0.6v-7.9h0.2v23.7h0.2v-15.8h0.3v7.9h0.3v-7.9h0.2v7.9h0.2v7.9h0.3v-23.7h0.5v15.8h0.5v-7.9h0.3v7.9h0.2v-15.8h0.2v-7.9h0.3v15.8h0.3v-7.9h0.2v7.9h0.2v7.9h0.3v-23.7h0.3v7.9h0.2v15.8h0.8v-7.9h0.2v-7.9h0.2v23.7h0.3v-31.6h0.3v23.7h0.2v-7.9h0.2v-15.8h0.3v23.7h0.3v7.9h0.4v-15.8h0.3v7.9h0.3v7.9h0.2v-7.9h0.2v-7.9h0.8v-7.9h0.2v7.9h0.3v-15.8h0.3v15.8h0.7v-7.9h0.3v23.7h0.4v-15.8h0.3v15.8h0.3v-7.9h0.4v-15.8h0.3v7.9h0.5v-15.8h0.2v23.7h0.3v-23.7h0.3v7.9h0.2v15.8h0.2v-23.7h0.3v7.9h0.3v15.8h0.7v-31.6h0.3v31.6h0.2v-15.8h0.2v-7.9h0.3v-7.9h0.3v7.9h0.2v23.7h0.2v-7.9h0.3v-7.9h0.5v7.9h0.2v-7.9h0.3v7.9h0.7v7.9h0.3v-7.9h0.5v-15.8h0.5v23.7h0.5v-15.8h0.2v7.9h0.3v-15.8h0.5v7.9h0.5v7.9h0.3v7.9h0.2v-31.6h0.2v15.8h1.3v-7.9h0.3v15.8h0.4v-23.7h0.6v15.8h0.2v-7.9h0.2v15.8h0.8v-7.9h0.5v-15.8h0.5v7.9h0.2v15.8h0.3v-7.9h0.3v7.9h0.2v-31.6h0.2v23.7h0.3v-7.9h0.3v-15.8h0.4v15.8h0.3v-7.9h0.5v15.8h0.2v-23.7h0.6v23.7h0.2v-15.8h0.2v-15.8h0.3v7.9h0.3v7.9h0.4v7.9h0.3v-23.7h0.3v7.9h0.2v-7.9h0.2v23.7h0.3v-7.9h0.3v7.9h0.2v-7.9h0.2v7.9h0.3v-15.8h0.5v7.9h0.5v-15.8h0.3v-7.9h0.2v23.7h0.2v-7.9h0.6v7.9h0.4v-15.8h0.6v7.9h0.7v-23.7h0.3v39.5h0.2v-7.9h0.2v-7.9h0.3v-15.8h0.3v23.7h0.2v-23.7h0.2v15.8h0.6v-7.9h0.4v-15.8h0.3v23.7h0.3v-23.7h0.2v31.6h0.2v-31.6h0.3v23.7h0.5v-15.8h0.2v15.8h0.3v-23.7h0.3v15.8h0.4v7.9h0.3v-7.9h0.5v-15.8h0.5v7.9h0.5v-7.9h0.2v7.9h0.3v15.8h0.3v-23.7h0.2v7.9h0.5v-7.9h0.3v-7.9h0.4v23.7h0.3v-7.9h0.3v-15.8h0.2v-7.9h0.2v7.9h0.3v-7.9h0.3v15.8h0.2v7.9h0.2v-7.9h0.6v7.9h0.4v-23.7h0.3v7.9h0.3v15.8h0.4v-23.7h0.3v15.8h0.3v7.9h0.4v-31.6h0.3v7.9h0.3v-7.9h0.2v7.9h0.2v-7.9h0.6v23.7h0.2v-7.9h1v-23.7h0.2v7.9h0.6v15.8h0.2v-7.9h0.2v7.9h0.3v-23.7h0.3v7.9h0.2v-15.8h0.2v15.8h1v7.9h0.3v-23.7h0.3v15.8h0.2v-15.8h0.2v23.7h0.3v-7.9h0.5v-15.8h0.2v23.7h0.6v-23.7h0.2v15.8h0.5v7.9h0.3v-7.9h0.2v7.9h0.5v-7.9h0.3v23.7h0.2v-23.7h0.2v-7.9h0.6v23.7h0.4v-15.8h0.3v-7.9h0.5v23.7h0.5v-23.7h0.5v7.9h0.2v7.9h0.3v7.9h0.3v-7.9h0.2v-15.8h0.2v23.7h0.3v-7.9h0.3v15.8h0.2v-15.8h0.2v15.8h0.3v-7.9h0.5v-7.9h0.2v7.9h0.3v7.9h0.3v-7.9h0.2v7.9h0.2v-23.7h0.3v15.8h0.3v-15.8h0.2v7.9h0.2v-7.9h0.6v15.8h0.2v-23.7h0.2v7.9h0.3v15.8h0.3v-7.9h0.4v-15.8h0.3v15.8h0.5v15.8h0.2v-7.9h0.3v-15.8h0.5v23.7h0.2v-23.7h0.6v7.9h0.2v23.7h0.5v-15.8h0.3v15.8h0.2v-15.8h0.2v7.9h0.8v-15.8h0.5v7.9h0.3v15.8h0.2v-7.9h0.2v7.9h0.6v-7.9h0.4v-15.8h0.3v23.7h0.5v-7.9h0.2v7.9h0.3v7.9h0.3v-7.9h0.2v7.9h0.2v-7.9h0.3v7.9h0.3v-15.8h0.2v7.9h0.5v-15.8h0.5v23.7h0.2v-7.9h1.3v-7.9h0.3v23.7h0.2v-15.8h0.2v23.7h0.3v-15.8h0.3v15.8h0.2v-7.9h0.2v7.9h0.3v7.9h0.3v-15.8h0.4" fill="none" stroke="#fba80f" stroke-width="2.0" stroke-linejoin="miter" stroke-miterlimit="2"/>
<path d="M78.5,1676.5h0.3v7.9h0.2v-7.9h0.5v15.8h0.3v-15.8h0.2v-7.9h0.2v23.7h0.8v-15.8h0.8v15.8h0.2v-7.9h0.8v7.9h0.2v-15.8h0.2v15.8h0.3v-7.9h0.3v-15.8h0.2v23.7h0.5v-15.8h0.3v7.9h0.2v-15.8h0.2v15.8h0.3v-7.9h0.3v7.9h0.4v-7.9h0.3v7.9h0.3v7.9h0.4v-7.9h0.8v-7.9h0.2v23.7h0.6v-7.9h0.2v-15.8h0.2v15.8h0.8v-15.8h0.2v23.7h0.3v-7.9h0.5v-15.8h0.2v23.7h0.3v-7.9h0.5v-7.9h0.2v15.8h0.6v-15.8h0.2v-7.9h0.2v15.8h0.3v-7.9h0.5v-7.9h0.2v7.9h0.3v7.9h0.3v-7.9h0.2v-7.9h0.2v7.9h0.6v7.9h0.7v7.9h0.3v-7.9h0.2v-15.8h0.2v7.9h0.6v-7.9h0.2v7.9h0.2v-15.8h0.3v23.7h0.3v-23.7h0.2v7.9h0.2v7.9h0.8v-7.9h0.2v7.9h0.8v-7.9h0.2v7.9h0.3v7.9h0.3v-15.8h0.2v15.8h0.2v-7.9h0.3v-7.9h0.3v15.8h1v-7.9h0.2v7.9h0.5v-7.9h0.3v7.9h0.2v-7.9h0.5v-7.9h0.5v15.8h0.5v-7.9h0.3v-7.9h0.2v7.9h0.2v15.8h0.3v-23.7h0.3v15.8h0.2v-7.9h0.2v-7.9h0.3v7.9h0.3v7.9h0.2v-7.9h0.2v-7.9h0.3v7.9h0.3v-7.9h0.4v15.8h0.6v-7.9h0.4v-7.9h0.6v-7.9h0.2v7.9h0.8v15.8h0.2v-7.9h0.5v-7.9h0.7v7.9h0.3v-15.8h0.3v15.8h0.2v7.9h0.2v-7.9h0.6v-15.8h0.2v23.7h0.8v-23.7h0.2v7.9h0.2v7.9h0.3v-15.8h0.3v15.8h0.2v-7.9h0.2v7.9h0.3v-15.8h0.3v23.7h0.2v-15.8h0.2v23.7h0.6v-7.9h0.4v-7.9h0.8v-7.9h0.2v15.8h0.6v-7.9h0.2v7.9h0.2v-15.8h0.3v7.9h0.3v7.9h0.2v-7.9h0.2v7.9h0.6v7.9h0.2v-7.9h1v-7.9h0.5v7.9h0.3v7.9h0.2v-15.8h0.2v15.8h0.3v-15.8h0.3v7.9h0.2v-7.9h0.2v15.8h0.3v-7.9h0.3v-7.9h0.2v-7.9h0.5v23.7h0.5v-7.9h0.5v-7.9h0.3v7.9h0.2v7.9h0.2v-7.9h0.6v-15.8h0.4v15.8h0.3v-7.9h0.3v7.9h0.7v-23.7h0.3v7.9h0.2v15.8h0.2v-7.9h0.3v-7.9h0.3v7.9h0.4v7.9h0.3v-15.8h0.3v15.8h0.2v-15.8h0.2v15.8h0.8v-23.7h0.2v23.7h0.3v-15.8h0.5v15.8h0.2v-7.9h0.3v-7.9h0.3v15.8h0.2v-15.8h0.2v23.7h0.6v-15.8h1v7.9h0.2v-15.8h0.2v15.8h0.3v-15.8h0.3v7.9h0.2v7.9h0.2v-7.9h0.3v-7.9h0.5v7.9h0.5v7.9h0.3v-7.9h0.2v7.9h0.2v-15.8h0.6v15.8h0.2v-7.9h0.2v7.9h0.3v-7.9h0.3v-15.8h0.2v15.8h0.2v-7.9h0.3v-7.9h0.3v7.9h0.4v15.8h0.3v-23.7h0.3v7.9h0.2v15.8h0.2v-15.8h0.3v-7.9h0.3v15.8h0.4v7.9h0.3v-7.9h0.3v-7.9h0.2v15.8h0.2v-23.7h0.3v23.7h0.3v-7.9h0.2v-15.8h0.2v23.7h0.6v-7.9h0.2v-7.9h0.2v7.9h0.3v7.9h0.7v-15.8h0.3v15.8h0.3v-7.9h0.2v7.9h0.5v-7.9h0.3v15.8h0.2v-15.8h0.2v7.9h0.3v7.9h0.5v-15.8h0.5v7.9h0.3v-7.9h0.2v7.9h0.8v-7.9h0.2v7.9h0.2v7.9h0.6v-15.8h0.4v7.9h0.3v7.9h0.3v-15.8h0.2v-7.9h0.2v15.8h0.6v-7.9h0.2v7.9h0.2v7.9h0.3v-15.8h0.3v-7.9h0.2v7.9h0.5v7.9h0.7v7.9h0.6v-7.9h0.2v-7.9h0.5v7.9h0.3v-15.8h0.2v7.9h0.8v-7.9h0.4v7.9h0.6v7.9h0.2v-15.8h0.2v-7.9h0.3v7.9h0.3v7.9h0.4v-7.9h0.3v15.8h0.3v7.9h0.7v-15.8h0.3v7.9h0.4v7.9h0.3v-23.7h0.5v7.9h0.2v7.9h0.8v7.9h0.2v-7.9h0.3v-7.9h0.5v7.9h0.2v-15.8h0.3v15.8h0.3v-7.9h0.2v7.9h0.2v7.9h0.3v-7.9h0.5v7.9h0.2v-7.9h0.3v7.9h0.7v-7.9h0.3v-7.9h0.5v7.9h0.8v-15.8h0.2v-7.9h0.2v7.9h0.3v7.9h0.3v-7.9h0.2v7.9h0.2v-15.8h0.3v23.7h0.3v-15.8h0.2v7.9h0.5v-7.9h0.3v15.8h0.2v-15.8h0.2v15.8h0.6v-15.8h0.4v7.9h0.6v7.9h0.4v-7.9h0.3v7.9h0.3v-7.9h0.4v-7.9h0.3v7.9h0.3v-7.9h0.2v7.9h0.2v-7.9h0.6v15.8h0.2v-15.8h0.5v7.9h0.7v-7.9h0.3v7.9h0.3v7.9h0.2v-15.8h0.2v-7.9h0.6v15.8h0.2v7.9h0.8v-15.8h0.4v7.9h0.6v-7.9h1.4v15.8h0.6v-15.8h0.2v7.9h0.2v-7.9h0.3v7.9h0.3v7.9h0.2v-15.8h0.2v7.9h0.6v7.9h0.2v-7.9h0.2v-15.8h0.3v15.8h0.3v-7.9h0.7v7.9h0.3v7.9h0.2v-15.8h0.2v7.9h0.3v7.9h0.5v-7.9h0.2v7.9h0.3v-7.9h0.3v7.9h0.2v-7.9h0.2v7.9h0.6v-7.9h0.2v7.9h0.2v-7.9h0.3v-7.9h0.3v15.8h0.2v-7.9h0.2v7.9h0.6v-7.9h0.2v-7.9h0.5v15.8h0.5v-15.8h0.2v7.9h0.3v7.9h0.3v-15.8h0.2v7.9h0.8v-15.8h0.2v23.7h0.2v-7.9h0.3v-7.9h0.7v15.8h0.3v-15.8h0.5v7.9h0.2v-7.9h0.6v-7.9h0.2v23.7h0.2v-7.9h0.3v-15.8h0.3v15.8h0.7v7.9h0.3v-7.9h0.2v-15.8h0.2v15.8h0.3v-7.9h0.3v7.9h0.2v7.9h0.2v-7.9h0.3v7.9h0.3v7.9h0.2v-23.7h0.2v23.7h0.3v-7.9h1v-7.9h0.3v-7.9h0.2v23.7h0.2v-7.9h1v-7.9h0.6v-7.9h0.2v7.9h0.2v15.8h0.6v-15.8h0.4v-7.9h0.3v15.8h1.3v7.9h1v-7.9h0.2v-15.8h0.2v15.8h0.3v-7.9h0.3v-7.9h0.4v7.9h0.3v-7.9h0.3v7.9h0.2v15.8h0.2v-15.8h0.3v-7.9h0.3v7.9h0.2v-7.9h0.8v23.7h0.2v-15.8h0.5v15.8h0.3v-23.7h0.2v15.8h0.2v-7.9h0.3v15.8h0.3v-15.8h0.2v-7.9h0.2v7.9h0.6v7.9h0.2v-7.9h0.2v-7.9h0.3v15.8h1v-7.9h0.3v7.9h0.2v-15.8h0.2v7.9h0.6v-7.9h0.2v15.8h0.2v-7.9h0.3v-7.9h0.5v7.9h0.5v7.9h0.3v-7.9h0.2v7.9h0.2v-7.9h0.6v-15.8h0.2v7.9h0.5v7.9h1v7.9h0.3v7.9h0.2v-15.8h0.5v-7.9h0.3v7.9h1v-7.9h0.2v7.9h0.8v7.9h0.2v-15.8h0.8v15.8h0.2v-7.9h0.2v-7.9h0.3v15.8h0.3v-15.8h0.2v7.9h0.8v7.9h0.2v-23.7h0.2v23.7h0.3v-7.9h0.3v-7.9h0.2v15.8h0.5v-7.9h0.3v-7.9h0.2v7.9h0.2v-7.9h0.6v15.8h0.2v-7.9h0.8v7.9h0.4v-15.8h0.3v7.9h0.3v-15.8h0.2v23.7h0.2v-7.9h0.3v-7.9h0.3v-7.9h0.2v15.8h0.5v-7.9h0.3v7.9h0.4v-7.9h0.3v7.9h0.5v-15.8h0.2v23.7h0.3v-15.8h0.3v15.8h0.2v-7.9h0.2v-7.9h0.3v15.8h0.3v-7.9h0.2v7.9h0.2v-7.9h0.6v15.8h0.2v-7.9h0.8v-7.9h0.2v-7.9h0.5v23.7h0.3v-7.9h0.2v-15.8h0.2v15.8h0.3v-15.8h0.3v15.8h0.7v-7.9h0.3v7.9h0.4v-7.9h0.3v7.9h0.5v-7.9h0.2v-7.9h0.8v23.7h0.2v-23.7h0.3v15.8h0.3v-7.9h0.4v7.9h0.3v-7.9h0.3v7.9h1v-15.8h0.2v7.9h0.2v-7.9h0.6v7.9h0.2v-7.9h0.2v7.9h0.3v7.9h0.3v-7.9h1.2v15.8h0.2v-23.7h0.3v7.9h0.3v7.9h0.4v-7.9h0.6v7.9h0.2v-15.8h0.8v7.9h0.4v-7.9h0.3v7.9h0.3v7.9h0.2v-15.8h0.2v15.8h0.6v-7.9h0.2v7.9h0.2v-15.8h0.6v15.8h0.2v-7.9h0.5v-7.9h1.3v7.9h0.2v-7.9h1v15.8h0.8v-7.9h0.2v-7.9h0.2v7.9h1v7.9h0.3v-15.8h0.3v15.8h0.4v7.9h0.3v-15.8h0.3v7.9h0.2v-15.8h0.2v23.7h0.3v-7.9h0.3v7.9h0.2v-15.8h0.2v15.8h0.3v-7.9h0.3v15.8h0.2v-7.9h0.5v-7.9h0.3v-7.9h0.2v-7.9h0.5v23.7h0.3v-7.9h0.2v-15.8h0.2v23.7h0.3v-7.9h0.5v-7.9h0.2v7.9h0.3v-15.8h0.3v7.9h0.2v-7.9h0.2v15.8h0.3v-7.9h0.7v15.8h0.3v-15.8h0.3v15.8h0.2v-7.9h0.2v7.9h0.3v-23.7h0.3v15.8h1.7v-7.9h0.3v15.8h0.4v-7.9h0.8v-15.8h0.2v7.9h0.3v-7.9h0.3v7.9h0.2v-7.9h0.2v15.8h0.3v-7.9h0.5v7.9h0.2v-7.9h0.6v-7.9h0.2v15.8h0.2v7.9h0.3v-23.7h0.3v7.9h0.2v-7.9h0.2v15.8h0.3v-15.8h0.3v7.9h0.2v7.9h0.2v-7.9h0.8v7.9h0.5v-7.9h0.5v-15.8h0.2v23.7h0.3v-23.7h0.3v7.9h0.4v7.9h0.3v7.9h0.3v-7.9h0.7v-7.9h0.3v15.8h0.2v-23.7h0.2v23.7h0.3v7.9h0.3v-15.8h0.2v15.8h0.2v-15.8h0.6v-7.9h0.2v23.7h0.2v-7.9h0.3v-7.9h0.3v15.8h0.7v-7.9h0.5v-15.8h0.2v23.7h0.6v-23.7h0.2v7.9h0.2v15.8h0.6v-7.9h0.2v15.8h0.2v-15.8h0.3v-7.9h0.5v23.7h0.2v-15.8h0.3v-7.9h0.3v7.9h0.4v7.9h0.6v-15.8h0.2v23.7h0.5v-7.9h0.3v15.8h0.2v-7.9h0.2v-7.9h0.8v-7.9h0.5v-7.9h0.3v23.7h0.2v-15.8h0.2v7.9h0.3v7.9h0.3v-7.9h0.2v-7.9h0.2v15.8h0.6v-15.8h0.2v7.9h0.5v7.9h0.3v-15.8h0.4v15.8h0.3v-7.9h0.5v-7.9h0.5v15.8h0.3v-7.9h0.2v7.9h0.2v-7.9h0.3v7.9h0.3v7.9h0.2v7.9h0.2v-7.9h0.3v-15.8h0.3v-7.9h0.2v15.8h0.2v7.9h0.3v-15.8h0.3v-7.9h0.4v7.9h0.3v23.7h0.3v-23.7h0.2v7.9h0.2v15.8h0.3v-15.8h0.3v-7.9h0.2v-7.9h0.5v7.9h0.3v-7.9h0.2v7.9h0.2v15.8h0.6v-23.7h0.2v7.9h0.5v-7.9h0.3v15.8h0.2v7.9h0.2v-15.8h0.3v-7.9h0.3v15.8h0.4v-15.8h0.3v23.7h0.7v-23.7h0.6v7.9h0.2v-7.9h0.2v23.7h0.3v-23.7h0.3v7.9h1v-7.9h0.2v15.8h0.8v15.8h0.2v-15.8h0.2v-7.9h0.3v23.7h0.5v-23.7h0.2v15.8h0.8v-23.7h0.2v7.9h1v23.7h0.3v-7.9h0.3v-7.9h0.2v15.8h0.2v-15.8h0.6v15.8h0.2v-23.7h0.2v23.7h0.3v-7.9h0.3v-15.8h0.4v15.8h0.6v7.9h0.2v-15.8h0.2v-7.9h1v15.8h0.3v-7.9h0.3v-15.8h0.2v15.8h0.2v-7.9h0.3v7.9h0.3v15.8h0.2v-7.9h0.2v-7.9h0.3v-7.9h0.3v-7.9h0.2v31.6h0.2v-15.8h0.3v7.9h0.3v-23.7h0.2v31.6h0.2v-15.8h0.3v7.9h0.3v-7.9h0.2v-7.9h0.5v15.8h0.5v7.9h0.8v-7.9h0.2v-15.8h0.2v7.9h0.6v7.9h0.4v7.9h0.3v-23.7h0.3v7.9h0.2v7.9h0.2v-7.9h0.3v-7.9h0.3v7.9h0.4v7.9h0.3v7.9h0.3v-23.7h0.2v7.9h0.2v15.8h0.3v-15.8h0.5v23.7h0.2v-15.8h0.3v-7.9h0.3v7.9h0.2v15.8h0.2v-15.8h0.3v-15.8h0.3v23.7h0.2v-7.9h0.2v-7.9h0.3v15.8h0.3v-23.7h0.2v23.7h0.5v-15.8h0.3v15.8h0.2v-7.9h0.2v7.9h0.3v-15.8h0.3v7.9h0.2v15.8h0.5v-23.7h0.3v15.8h0.2v-7.9h0.2v7.9h0.3v-15.8h0.3v-7.9h0.2v23.7h0.2v-15.8h0.3v15.8h0.5v7.9h0.2v-15.8h0.3v15.8h0.3v-7.9h0.2v-23.7h0.2v31.6h0.6v-7.9h0.7v-15.8h0.3v7.9h0.2v7.9h0.5v-15.8h0.3v15.8h0.2v-15.8h0.2v23.7h0.6v-7.9h0.2v7.9h0.2v-23.7h0.3v15.8h0.3v-15.8h0.4v15.8h0.3v7.9h0.3v-15.8h0.2v15.8h0.2v-7.9h0.3v7.9h0.3v-15.8h0.2v-7.9h0.2v15.8h0.3v-15.8h0.7v23.7h0.3v-7.9h0.7v-15.8h0.6v15.8h0.7v-7.9h0.3v-7.9h0.2v15.8h0.2v-23.7h0.3v7.9h0.3v7.9h0.2v15.8h0.2v-15.8h0.8v-7.9h0.2v7.9h0.3v-7.9h0.3v7.9h0.2v-7.9h0.2v-7.9h0.3v7.9h0.7v7.9h0.3v-7.9h0.3v-7.9h0.2v7.9h1v23.7h0.2v-7.9h0.8v-23.7h0.2v31.6h0.3v-23.7h0.3v15.8h0.2v-23.7h0.2v23.7h0.3v-7.9h0.3v7.9h0.4v-7.9h0.3v-15.8h0.5v23.7h0.2v-7.9h0.3v-7.9h0.3v7.9h0.2v-15.8h0.2v7.9h0.3v-15.8h0.3v31.6h0.4v-15.8h0.3v7.9h1v-15.8h0.3v-7.9h0.4v15.8h0.3v-7.9h0.3v23.7h0.2v-15.8h0.2v7.9h0.3v7.9h0.3v-7.9h0.2v-7.9h0.5v-15.8h0.3v7.9h0.2v23.7h0.2v-23.7h0.6v15.8h0.2v-23.7h0.5v31.6h0.3v-31.6h0.2v7.9h0.2v7.9h0.8v-7.9h0.2v-7.9h0.3v7.9h0.3v15.8h0.2v-7.9h0.2v-7.9h0.3v7.9h0.3v-7.9h0.4v-7.9h0.3v-7.9h0.3v15.8h0.2v-7.9h0.2v15.8h0.3v-15.8h0.3v-7.9h0.2v7.9h0.5v15.8h0.3v-7.9h0.2v-7.9h0.2v7.9h0.3v7.9h0.3v-23.7h0.2v15.8h0.5v-15.8h0.3v15.8h0.2v7.9h0.2v-15.8h0.3v-7.9h0.3v23.7h0.2v-7.9h0.2v-7.9h0.3v15.8h0.3v-7.9h0.2v-15.8h0.2v15.8h0.3v-15.8h0.3v7.9h0.2v7.9h0.8v-15.8h0.4v15.8h0.3v7.9h0.3v-23.7h0.4v15.8h0.3v-15.8h0.3v23.7h0.2v-15.8h0.2v-7.9h0.6v23.7h0.2v-15.8h0.2v-7.9h0.3v23.7h0.3v-23.7h0.2v15.8h0.2v7.9h0.3v-15.8h0.7v7.9h0.3v-7.9h0.3v15.8h0.2v-7.9h0.2v7.9h0.3v-7.9h0.3v7.9h0.4v-15.8h0.3v-7.9h0.3v23.7h0.2v-7.9h0.2v7.9h0.3v-15.8h0.3v15.8h0.2v-7.9h0.2v7.9h0.3v-7.9h0.3v-15.8h1v23.7h0.2v-7.9h0.2v-15.8h0.3v-7.9h0.3v31.6h0.2v-7.9h0.2v-15.8h0.6v7.9h0.2v15.8h0.2v-7.9h0.6v7.9h0.2v-23.7h0.5v23.7h0.3v-23.7h0.2v15.8h0.5v-23.7h0.3v-7.9h0.2v31.6h0.2" fill="none" stroke="#ff0000" stroke-width="2.0" stroke-linejoin="miter" stroke-miterlimit="2"/>
</svg></body></html>
